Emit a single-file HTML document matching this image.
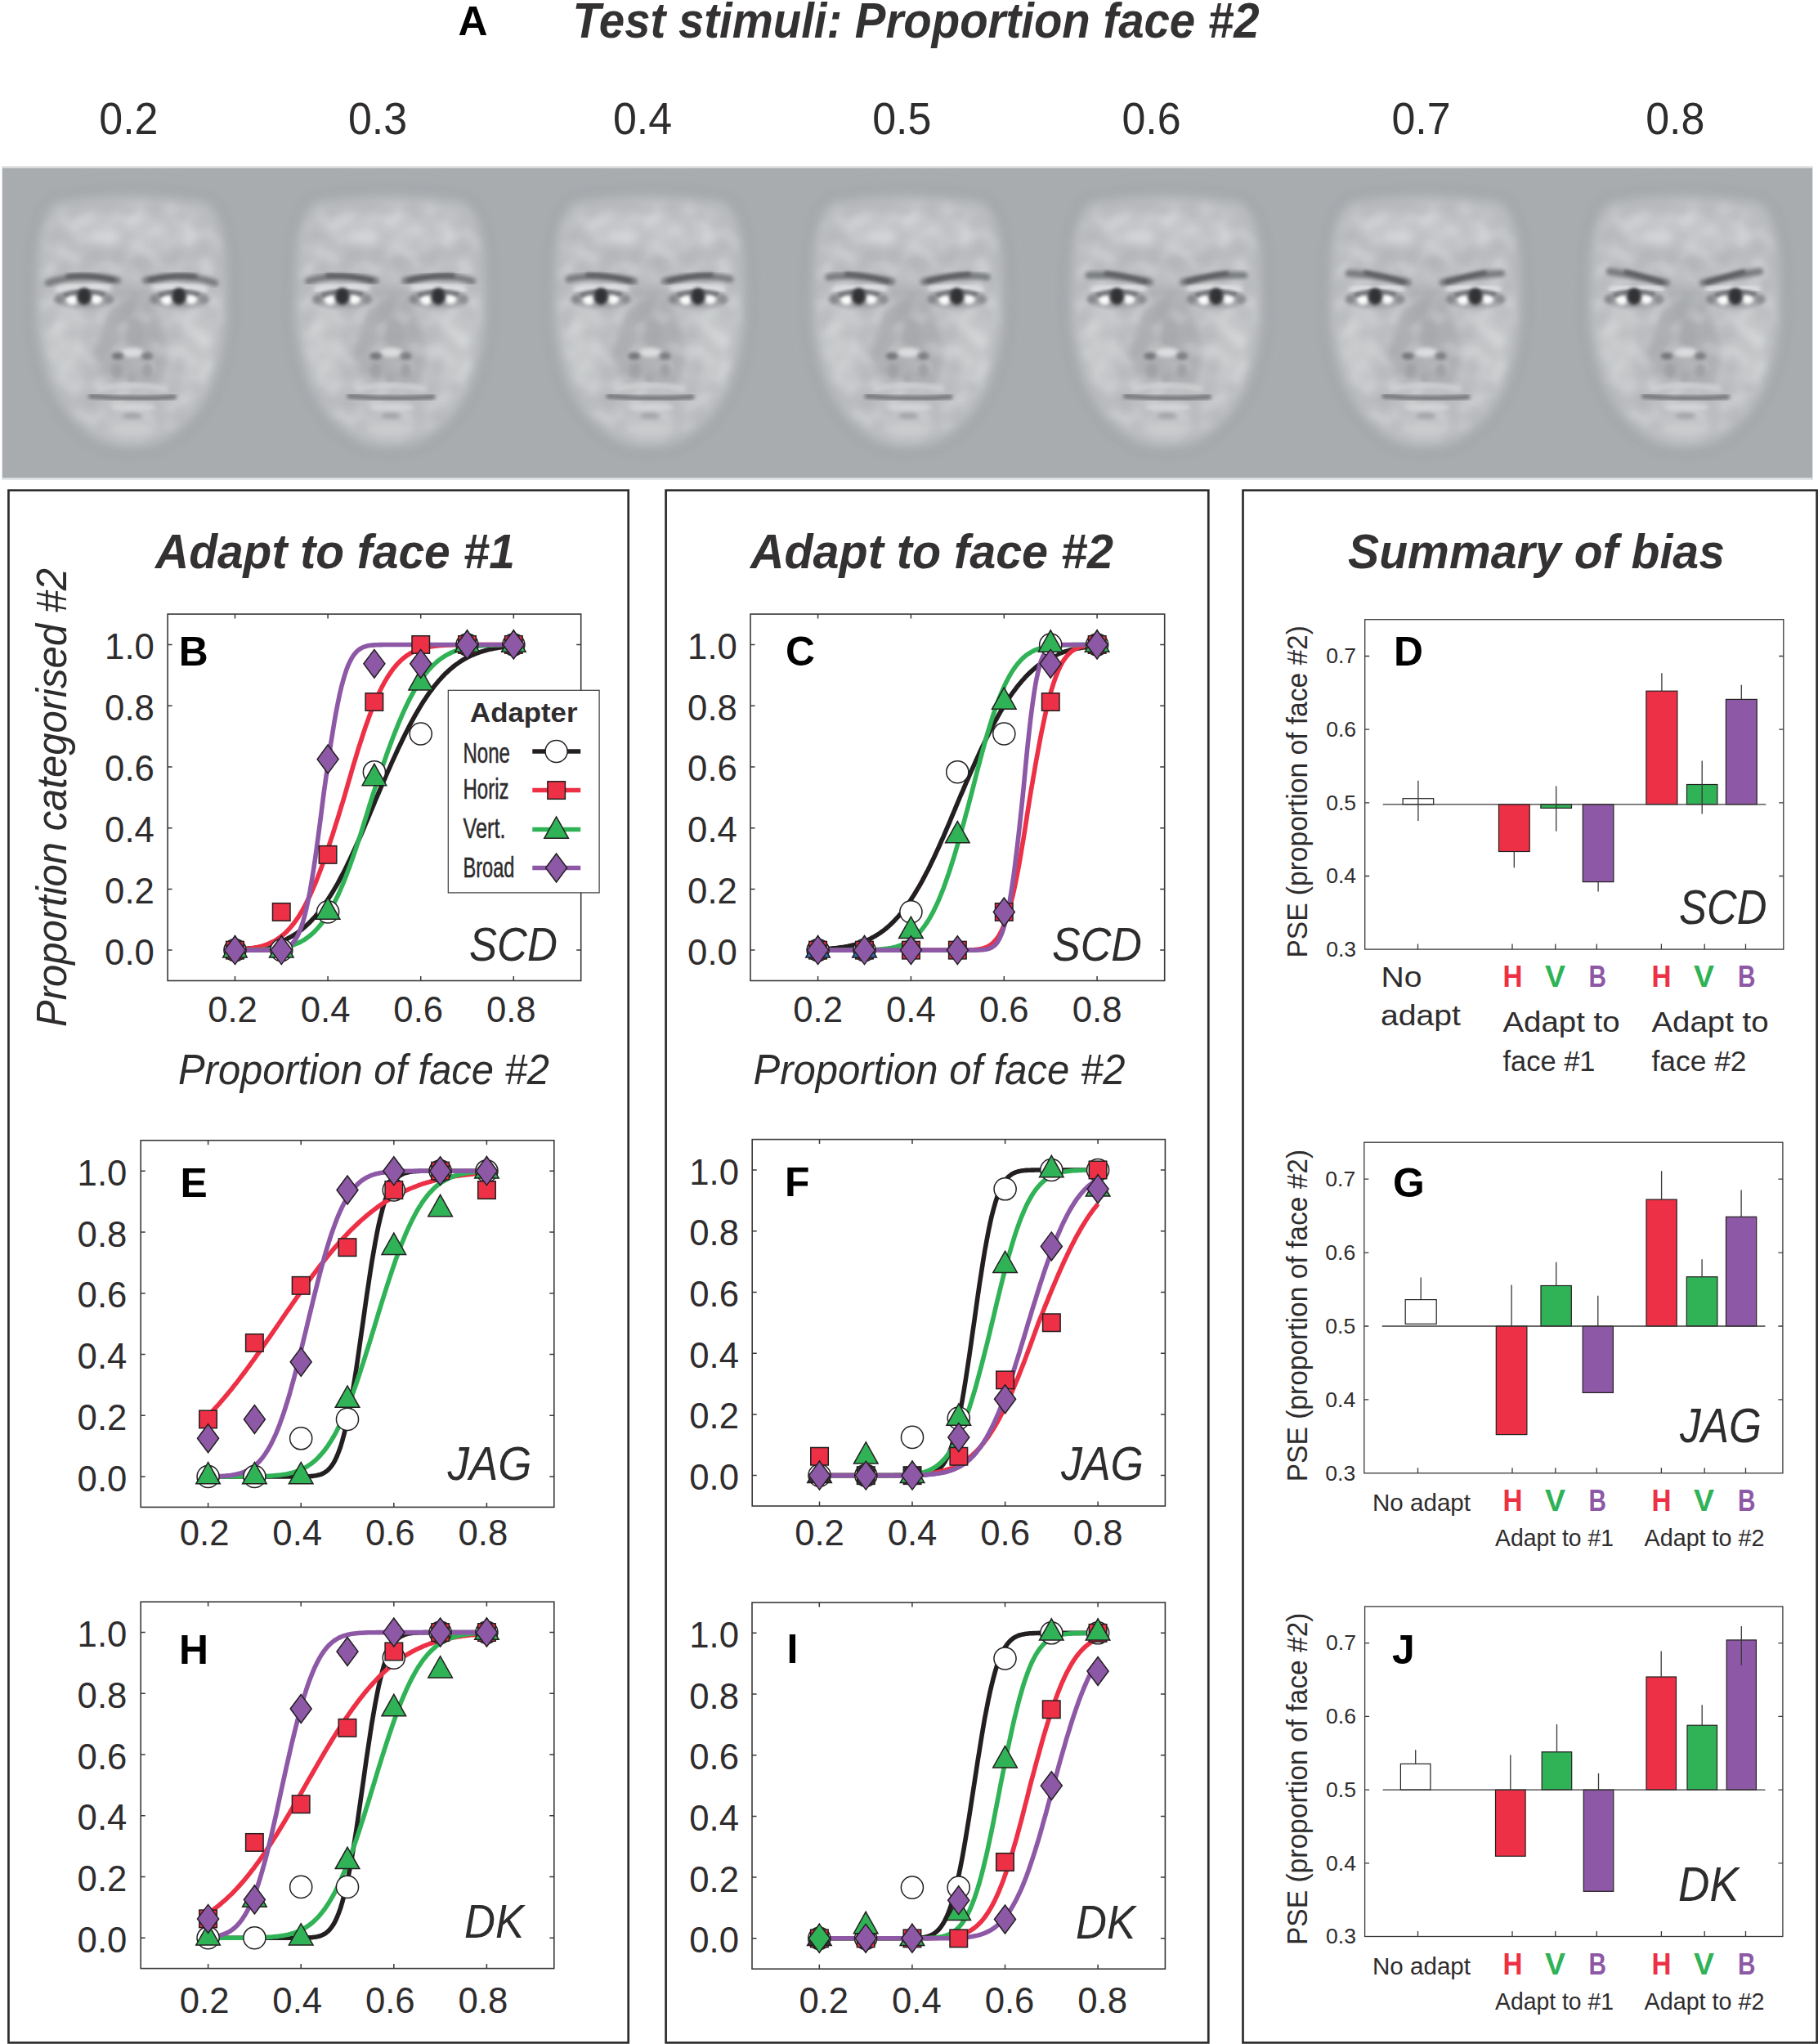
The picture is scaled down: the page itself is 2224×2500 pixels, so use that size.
<!DOCTYPE html>
<html lang="en"><head><meta charset="utf-8"><title>Figure</title>
<style>html,body{margin:0;padding:0;background:#fff}svg{display:block}</style></head><body>
<svg width="2224" height="2500" viewBox="0 0 2224 2500" font-family='"Liberation Sans", Arial, sans-serif' fill="#2e2c2d">
<rect width="2224" height="2500" fill="#fff"/>
<text x="560.5" y="43.0" font-size="49.8" font-weight="bold" fill="#000" >A</text>
<text x="700.5" y="45.5" font-size="61" font-weight="bold" font-style="italic" textLength="840.0" lengthAdjust="spacingAndGlyphs" fill="#333132" >Test stimuli: Proportion face #2</text>
<text x="157.4" y="164.0" font-size="56" text-anchor="middle" textLength="72.2" lengthAdjust="spacingAndGlyphs" >0.2</text>
<text x="462.0" y="164.0" font-size="56" text-anchor="middle" textLength="72.2" lengthAdjust="spacingAndGlyphs" >0.3</text>
<text x="786.0" y="164.0" font-size="56" text-anchor="middle" textLength="72.2" lengthAdjust="spacingAndGlyphs" >0.4</text>
<text x="1103.3" y="164.0" font-size="56" text-anchor="middle" textLength="72.2" lengthAdjust="spacingAndGlyphs" >0.5</text>
<text x="1408.5" y="164.0" font-size="56" text-anchor="middle" textLength="72.2" lengthAdjust="spacingAndGlyphs" >0.6</text>
<text x="1738.5" y="164.0" font-size="56" text-anchor="middle" textLength="72.2" lengthAdjust="spacingAndGlyphs" >0.7</text>
<text x="2049.3" y="164.0" font-size="56" text-anchor="middle" textLength="72.2" lengthAdjust="spacingAndGlyphs" >0.8</text>
<defs>
<filter id="b10" x="-30%" y="-30%" width="160%" height="160%"><feGaussianBlur stdDeviation="6.5"/></filter>
<filter id="b5" x="-50%" y="-50%" width="200%" height="200%"><feGaussianBlur stdDeviation="5"/></filter>
<filter id="b3" x="-50%" y="-80%" width="200%" height="260%"><feGaussianBlur stdDeviation="2.6"/></filter>
<filter id="b2" x="-50%" y="-80%" width="200%" height="260%"><feGaussianBlur stdDeviation="2"/></filter>
<filter id="tex" x="-5%" y="-5%" width="110%" height="110%"><feTurbulence type="fractalNoise" baseFrequency="0.05" numOctaves="1" seed="11" result="n0"/><feGaussianBlur in="n0" stdDeviation="2.5" result="n"/><feGaussianBlur in="SourceAlpha" stdDeviation="7" result="m"/><feColorMatrix in="n" type="matrix" values="0 0 0 0 1  0 0 0 0 1  0 0 0 0 1  4 0 0 0 -2" result="lt"/><feColorMatrix in="n" type="matrix" values="0 0 0 0 0.33  0 0 0 0 0.33  0 0 0 0 0.35  -4 0 0 0 2" result="dk"/><feMerge result="both"><feMergeNode in="lt"/><feMergeNode in="dk"/></feMerge><feComposite in="both" in2="m" operator="in"/></filter>
<clipPath id="stripclip"><rect x="3" y="205.5" width="2214" height="379"/></clipPath>
</defs>
<rect x="2" y="203" width="2216" height="384" fill="#e3e4e5"/>
<rect x="3" y="205.5" width="2214" height="379" fill="#a9acaf"/>
<g clip-path="url(#stripclip)">
<g transform="translate(161 0)">
<path d="M-96 240Q0 224 96 240Q120 258 124 320L125 392Q119 455 98 492Q74 535 32 552Q0 559 -32 552Q-74 535 -98 492Q-119 455 -125 392L-124 320Q-120 258 -96 240Z" fill="none" stroke="#a4a7aa" stroke-width="10" filter="url(#b10)"/>
<path d="M-90 249Q0 234 90 249Q111 264 114 320L115 390Q110 450 90 485Q68 524 29 541Q0 548 -29 541Q-68 524 -90 485Q-110 450 -115 390L-114 320Q-111 264 -90 249Z" fill="#bec0c3" filter="url(#b10)"/>
<ellipse cx="0" cy="283" rx="80" ry="20" fill="#c6c8cb" filter="url(#b5)"/>
<ellipse cx="0" cy="318" rx="62" ry="8" fill="#b8babd" filter="url(#b5)"/>
<ellipse cx="-80" cy="420" rx="20" ry="48" fill="#c8cacc" filter="url(#b5)"/>
<ellipse cx="80" cy="420" rx="20" ry="48" fill="#c8cacc" filter="url(#b5)"/>
<path d="M-20 352L20 352L46 432L34 470L-34 470L-46 432Z" fill="#afb1b4" filter="url(#b5)"/>
<ellipse cx="0" cy="398" rx="15" ry="38" fill="#a9abae" filter="url(#b5)"/>
<path d="M-86 255Q0 240 86 255Q106 268 109 320L110 390Q105 448 86 482Q65 520 28 536Q0 543 -28 536Q-65 520 -86 482Q-105 448 -110 390L-109 320Q-106 268 -86 255Z" fill="#000" filter="url(#tex)" opacity="0.2"/>
<ellipse cx="-58.0" cy="366" rx="38" ry="11" fill="#a2a4a7" filter="url(#b3)"/>
<ellipse cx="58.0" cy="366" rx="38" ry="11" fill="#a2a4a7" filter="url(#b3)"/>
<path d="M-102.0 346.0Q-66 333.0 -17.0 343.0" fill="none" stroke="#787a7d" stroke-width="8.5" stroke-linecap="round" filter="url(#b3)"/>
<path d="M-78.0 338.0Q-50 335.5 -22.0 342.5" fill="none" stroke="#58595c" stroke-width="5" stroke-linecap="round" filter="url(#b2)"/>
<path d="M-90 354Q-60 347.5 -28 352.0" fill="none" stroke="#e2e3e4" stroke-width="5.5" stroke-linecap="round" filter="url(#b3)"/>
<path d="M102.0 346.0Q66 333.0 17.0 343.0" fill="none" stroke="#787a7d" stroke-width="8.5" stroke-linecap="round" filter="url(#b3)"/>
<path d="M78.0 338.0Q50 335.5 22.0 342.5" fill="none" stroke="#58595c" stroke-width="5" stroke-linecap="round" filter="url(#b2)"/>
<path d="M90 354Q60 347.5 28 352.0" fill="none" stroke="#e2e3e4" stroke-width="5.5" stroke-linecap="round" filter="url(#b3)"/>
<ellipse cx="-73.0" cy="366.5" rx="7" ry="6.5" fill="#fbfbfb" filter="url(#b2)"/>
<ellipse cx="-43.0" cy="365.5" rx="7" ry="6.5" fill="#fbfbfb" filter="url(#b2)"/>
<path d="M-82.0 361Q-58.0 353 -34.0 360" fill="none" stroke="#5c5d60" stroke-width="4" stroke-linecap="round" filter="url(#b2)"/>
<ellipse cx="-58.0" cy="362.5" rx="8.5" ry="10.5" fill="#323335" filter="url(#b2)"/>
<ellipse cx="-88.0" cy="366" rx="5" ry="5" fill="#85878a" filter="url(#b2)"/>
<ellipse cx="-28.0" cy="366" rx="5" ry="5" fill="#8a8c8f" filter="url(#b2)"/>
<ellipse cx="43.0" cy="366.5" rx="7" ry="6.5" fill="#fbfbfb" filter="url(#b2)"/>
<ellipse cx="73.0" cy="365.5" rx="7" ry="6.5" fill="#fbfbfb" filter="url(#b2)"/>
<path d="M34.0 361Q58.0 353 82.0 360" fill="none" stroke="#5c5d60" stroke-width="4" stroke-linecap="round" filter="url(#b2)"/>
<ellipse cx="58.0" cy="362.5" rx="8.5" ry="10.5" fill="#323335" filter="url(#b2)"/>
<ellipse cx="28.0" cy="366" rx="5" ry="5" fill="#85878a" filter="url(#b2)"/>
<ellipse cx="88.0" cy="366" rx="5" ry="5" fill="#8a8c8f" filter="url(#b2)"/>
<ellipse cx="1" cy="431" rx="14" ry="6" fill="#dcddde" filter="url(#b3)"/>
<ellipse cx="-17.0" cy="435.5" rx="7.5" ry="4.5" fill="#747679" filter="url(#b2)"/>
<ellipse cx="19" cy="435.5" rx="7" ry="4.5" fill="#7c7e81" filter="url(#b2)"/>
<ellipse cx="-18" cy="453" rx="7" ry="9" fill="#a0a2a5" filter="url(#b3)"/>
<ellipse cx="19" cy="453" rx="7" ry="9" fill="#a0a2a5" filter="url(#b3)"/>
<ellipse cx="0" cy="462" rx="6" ry="6" fill="#a7a9ac" filter="url(#b3)"/>
<path d="M-42 476Q0 467 44 476" fill="none" stroke="#cfd0d2" stroke-width="6" filter="url(#b3)"/>
<path d="M-50 484.5Q0 489 52 485.5" fill="none" stroke="#737578" stroke-width="6" stroke-linecap="round" filter="url(#b2)"/>
<ellipse cx="2" cy="498" rx="28" ry="5" fill="#d3d4d6" filter="url(#b3)"/>
<ellipse cx="1" cy="509" rx="12" ry="4" fill="#a1a3a6" filter="url(#b3)"/>
<ellipse cx="0" cy="525" rx="30" ry="9" fill="#cbccce" filter="url(#b5)"/>
</g>
<g transform="translate(477.5 0)">
<path d="M-96 240Q0 224 96 240Q120 258 124 320L125 392Q119 455 98 492Q74 535 32 552Q0 559 -32 552Q-74 535 -98 492Q-119 455 -125 392L-124 320Q-120 258 -96 240Z" fill="none" stroke="#a4a7aa" stroke-width="10" filter="url(#b10)"/>
<path d="M-90 249Q0 234 90 249Q111 264 114 320L115 390Q110 450 90 485Q68 524 29 541Q0 548 -29 541Q-68 524 -90 485Q-110 450 -115 390L-114 320Q-111 264 -90 249Z" fill="#bec0c3" filter="url(#b10)"/>
<ellipse cx="0" cy="283" rx="80" ry="20" fill="#c6c8cb" filter="url(#b5)"/>
<ellipse cx="0" cy="318" rx="62" ry="8" fill="#b8babd" filter="url(#b5)"/>
<ellipse cx="-80" cy="420" rx="20" ry="48" fill="#c8cacc" filter="url(#b5)"/>
<ellipse cx="80" cy="420" rx="20" ry="48" fill="#c8cacc" filter="url(#b5)"/>
<path d="M-20 352L20 352L46 432L34 470L-34 470L-46 432Z" fill="#afb1b4" filter="url(#b5)"/>
<ellipse cx="0" cy="398" rx="15" ry="38" fill="#a9abae" filter="url(#b5)"/>
<path d="M-86 255Q0 240 86 255Q106 268 109 320L110 390Q105 448 86 482Q65 520 28 536Q0 543 -28 536Q-65 520 -86 482Q-105 448 -110 390L-109 320Q-106 268 -86 255Z" fill="#000" filter="url(#tex)" opacity="0.2"/>
<ellipse cx="-58.7" cy="366" rx="38" ry="11" fill="#a2a4a7" filter="url(#b3)"/>
<ellipse cx="58.7" cy="366" rx="38" ry="11" fill="#a2a4a7" filter="url(#b3)"/>
<path d="M-100.3 343.7Q-66 333.5 -17.8 343.5" fill="none" stroke="#787a7d" stroke-width="8.5" stroke-linecap="round" filter="url(#b3)"/>
<path d="M-77.0 337.1Q-50 336.0 -22.8 343.0" fill="none" stroke="#58595c" stroke-width="5" stroke-linecap="round" filter="url(#b2)"/>
<path d="M-90 354Q-60 347.8 -28 352.3" fill="none" stroke="#e2e3e4" stroke-width="5.5" stroke-linecap="round" filter="url(#b3)"/>
<path d="M100.3 343.7Q66 333.5 17.8 343.5" fill="none" stroke="#787a7d" stroke-width="8.5" stroke-linecap="round" filter="url(#b3)"/>
<path d="M77.0 337.1Q50 336.0 22.8 343.0" fill="none" stroke="#58595c" stroke-width="5" stroke-linecap="round" filter="url(#b2)"/>
<path d="M90 354Q60 347.8 28 352.3" fill="none" stroke="#e2e3e4" stroke-width="5.5" stroke-linecap="round" filter="url(#b3)"/>
<ellipse cx="-73.7" cy="366.5" rx="7" ry="6.5" fill="#fbfbfb" filter="url(#b2)"/>
<ellipse cx="-43.7" cy="365.5" rx="7" ry="6.5" fill="#fbfbfb" filter="url(#b2)"/>
<path d="M-82.7 361Q-58.7 353 -34.7 360" fill="none" stroke="#5c5d60" stroke-width="4" stroke-linecap="round" filter="url(#b2)"/>
<ellipse cx="-58.7" cy="362.5" rx="8.5" ry="10.5" fill="#323335" filter="url(#b2)"/>
<ellipse cx="-88.7" cy="366" rx="5" ry="5" fill="#85878a" filter="url(#b2)"/>
<ellipse cx="-28.7" cy="366" rx="5" ry="5" fill="#8a8c8f" filter="url(#b2)"/>
<ellipse cx="43.7" cy="366.5" rx="7" ry="6.5" fill="#fbfbfb" filter="url(#b2)"/>
<ellipse cx="73.7" cy="365.5" rx="7" ry="6.5" fill="#fbfbfb" filter="url(#b2)"/>
<path d="M34.7 361Q58.7 353 82.7 360" fill="none" stroke="#5c5d60" stroke-width="4" stroke-linecap="round" filter="url(#b2)"/>
<ellipse cx="58.7" cy="362.5" rx="8.5" ry="10.5" fill="#323335" filter="url(#b2)"/>
<ellipse cx="28.7" cy="366" rx="5" ry="5" fill="#85878a" filter="url(#b2)"/>
<ellipse cx="88.7" cy="366" rx="5" ry="5" fill="#8a8c8f" filter="url(#b2)"/>
<ellipse cx="1" cy="431" rx="14" ry="6" fill="#dcddde" filter="url(#b3)"/>
<ellipse cx="-17.8" cy="435.5" rx="7.5" ry="4.5" fill="#747679" filter="url(#b2)"/>
<ellipse cx="19" cy="435.5" rx="7" ry="4.5" fill="#7c7e81" filter="url(#b2)"/>
<ellipse cx="-18" cy="453" rx="7" ry="9" fill="#a0a2a5" filter="url(#b3)"/>
<ellipse cx="19" cy="453" rx="7" ry="9" fill="#a0a2a5" filter="url(#b3)"/>
<ellipse cx="0" cy="462" rx="6" ry="6" fill="#a7a9ac" filter="url(#b3)"/>
<path d="M-42 476Q0 467 44 476" fill="none" stroke="#cfd0d2" stroke-width="6" filter="url(#b3)"/>
<path d="M-50 484.5Q0 489 52 485.5" fill="none" stroke="#737578" stroke-width="6" stroke-linecap="round" filter="url(#b2)"/>
<ellipse cx="2" cy="498" rx="28" ry="5" fill="#d3d4d6" filter="url(#b3)"/>
<ellipse cx="1" cy="509" rx="12" ry="4" fill="#a1a3a6" filter="url(#b3)"/>
<ellipse cx="0" cy="525" rx="30" ry="9" fill="#cbccce" filter="url(#b5)"/>
</g>
<g transform="translate(794.5 0)">
<path d="M-96 240Q0 224 96 240Q120 258 124 320L125 392Q119 455 98 492Q74 535 32 552Q0 559 -32 552Q-74 535 -98 492Q-119 455 -125 392L-124 320Q-120 258 -96 240Z" fill="none" stroke="#a4a7aa" stroke-width="10" filter="url(#b10)"/>
<path d="M-90 249Q0 234 90 249Q111 264 114 320L115 390Q110 450 90 485Q68 524 29 541Q0 548 -29 541Q-68 524 -90 485Q-110 450 -115 390L-114 320Q-111 264 -90 249Z" fill="#bec0c3" filter="url(#b10)"/>
<ellipse cx="0" cy="283" rx="80" ry="20" fill="#c6c8cb" filter="url(#b5)"/>
<ellipse cx="0" cy="318" rx="62" ry="8" fill="#b8babd" filter="url(#b5)"/>
<ellipse cx="-80" cy="420" rx="20" ry="48" fill="#c8cacc" filter="url(#b5)"/>
<ellipse cx="80" cy="420" rx="20" ry="48" fill="#c8cacc" filter="url(#b5)"/>
<path d="M-20 352L20 352L46 432L34 470L-34 470L-46 432Z" fill="#afb1b4" filter="url(#b5)"/>
<ellipse cx="0" cy="398" rx="15" ry="38" fill="#a9abae" filter="url(#b5)"/>
<path d="M-86 255Q0 240 86 255Q106 268 109 320L110 390Q105 448 86 482Q65 520 28 536Q0 543 -28 536Q-65 520 -86 482Q-105 448 -110 390L-109 320Q-106 268 -86 255Z" fill="#000" filter="url(#tex)" opacity="0.2"/>
<ellipse cx="-59.3" cy="366" rx="38" ry="11" fill="#a2a4a7" filter="url(#b3)"/>
<ellipse cx="59.3" cy="366" rx="38" ry="11" fill="#a2a4a7" filter="url(#b3)"/>
<path d="M-98.7 341.3Q-66 334.0 -18.7 344.0" fill="none" stroke="#787a7d" stroke-width="8.5" stroke-linecap="round" filter="url(#b3)"/>
<path d="M-76.0 336.2Q-50 336.5 -23.7 343.5" fill="none" stroke="#58595c" stroke-width="5" stroke-linecap="round" filter="url(#b2)"/>
<path d="M-90 354Q-60 348.0 -28 352.7" fill="none" stroke="#e2e3e4" stroke-width="5.5" stroke-linecap="round" filter="url(#b3)"/>
<path d="M98.7 341.3Q66 334.0 18.7 344.0" fill="none" stroke="#787a7d" stroke-width="8.5" stroke-linecap="round" filter="url(#b3)"/>
<path d="M76.0 336.2Q50 336.5 23.7 343.5" fill="none" stroke="#58595c" stroke-width="5" stroke-linecap="round" filter="url(#b2)"/>
<path d="M90 354Q60 348.0 28 352.7" fill="none" stroke="#e2e3e4" stroke-width="5.5" stroke-linecap="round" filter="url(#b3)"/>
<ellipse cx="-74.3" cy="366.5" rx="7" ry="6.5" fill="#fbfbfb" filter="url(#b2)"/>
<ellipse cx="-44.3" cy="365.5" rx="7" ry="6.5" fill="#fbfbfb" filter="url(#b2)"/>
<path d="M-83.3 361Q-59.3 353 -35.3 360" fill="none" stroke="#5c5d60" stroke-width="4" stroke-linecap="round" filter="url(#b2)"/>
<ellipse cx="-59.3" cy="362.5" rx="8.5" ry="10.5" fill="#323335" filter="url(#b2)"/>
<ellipse cx="-89.3" cy="366" rx="5" ry="5" fill="#85878a" filter="url(#b2)"/>
<ellipse cx="-29.3" cy="366" rx="5" ry="5" fill="#8a8c8f" filter="url(#b2)"/>
<ellipse cx="44.3" cy="366.5" rx="7" ry="6.5" fill="#fbfbfb" filter="url(#b2)"/>
<ellipse cx="74.3" cy="365.5" rx="7" ry="6.5" fill="#fbfbfb" filter="url(#b2)"/>
<path d="M35.3 361Q59.3 353 83.3 360" fill="none" stroke="#5c5d60" stroke-width="4" stroke-linecap="round" filter="url(#b2)"/>
<ellipse cx="59.3" cy="362.5" rx="8.5" ry="10.5" fill="#323335" filter="url(#b2)"/>
<ellipse cx="29.3" cy="366" rx="5" ry="5" fill="#85878a" filter="url(#b2)"/>
<ellipse cx="89.3" cy="366" rx="5" ry="5" fill="#8a8c8f" filter="url(#b2)"/>
<ellipse cx="1" cy="431" rx="14" ry="6" fill="#dcddde" filter="url(#b3)"/>
<ellipse cx="-18.7" cy="435.5" rx="7.5" ry="4.5" fill="#747679" filter="url(#b2)"/>
<ellipse cx="19" cy="435.5" rx="7" ry="4.5" fill="#7c7e81" filter="url(#b2)"/>
<ellipse cx="-18" cy="453" rx="7" ry="9" fill="#a0a2a5" filter="url(#b3)"/>
<ellipse cx="19" cy="453" rx="7" ry="9" fill="#a0a2a5" filter="url(#b3)"/>
<ellipse cx="0" cy="462" rx="6" ry="6" fill="#a7a9ac" filter="url(#b3)"/>
<path d="M-42 476Q0 467 44 476" fill="none" stroke="#cfd0d2" stroke-width="6" filter="url(#b3)"/>
<path d="M-50 484.5Q0 489 52 485.5" fill="none" stroke="#737578" stroke-width="6" stroke-linecap="round" filter="url(#b2)"/>
<ellipse cx="2" cy="498" rx="28" ry="5" fill="#d3d4d6" filter="url(#b3)"/>
<ellipse cx="1" cy="509" rx="12" ry="4" fill="#a1a3a6" filter="url(#b3)"/>
<ellipse cx="0" cy="525" rx="30" ry="9" fill="#cbccce" filter="url(#b5)"/>
</g>
<g transform="translate(1110.5 0)">
<path d="M-96 240Q0 224 96 240Q120 258 124 320L125 392Q119 455 98 492Q74 535 32 552Q0 559 -32 552Q-74 535 -98 492Q-119 455 -125 392L-124 320Q-120 258 -96 240Z" fill="none" stroke="#a4a7aa" stroke-width="10" filter="url(#b10)"/>
<path d="M-90 249Q0 234 90 249Q111 264 114 320L115 390Q110 450 90 485Q68 524 29 541Q0 548 -29 541Q-68 524 -90 485Q-110 450 -115 390L-114 320Q-111 264 -90 249Z" fill="#bec0c3" filter="url(#b10)"/>
<ellipse cx="0" cy="283" rx="80" ry="20" fill="#c6c8cb" filter="url(#b5)"/>
<ellipse cx="0" cy="318" rx="62" ry="8" fill="#b8babd" filter="url(#b5)"/>
<ellipse cx="-80" cy="420" rx="20" ry="48" fill="#c8cacc" filter="url(#b5)"/>
<ellipse cx="80" cy="420" rx="20" ry="48" fill="#c8cacc" filter="url(#b5)"/>
<path d="M-20 352L20 352L46 432L34 470L-34 470L-46 432Z" fill="#afb1b4" filter="url(#b5)"/>
<ellipse cx="0" cy="398" rx="15" ry="38" fill="#a9abae" filter="url(#b5)"/>
<path d="M-86 255Q0 240 86 255Q106 268 109 320L110 390Q105 448 86 482Q65 520 28 536Q0 543 -28 536Q-65 520 -86 482Q-105 448 -110 390L-109 320Q-106 268 -86 255Z" fill="#000" filter="url(#tex)" opacity="0.2"/>
<ellipse cx="-60.0" cy="366" rx="38" ry="11" fill="#a2a4a7" filter="url(#b3)"/>
<ellipse cx="60.0" cy="366" rx="38" ry="11" fill="#a2a4a7" filter="url(#b3)"/>
<path d="M-97.0 339.0Q-66 334.5 -19.5 344.5" fill="none" stroke="#787a7d" stroke-width="8.5" stroke-linecap="round" filter="url(#b3)"/>
<path d="M-75.0 335.2Q-50 337.0 -24.5 344.0" fill="none" stroke="#58595c" stroke-width="5" stroke-linecap="round" filter="url(#b2)"/>
<path d="M-90 354Q-60 348.2 -28 353.0" fill="none" stroke="#e2e3e4" stroke-width="5.5" stroke-linecap="round" filter="url(#b3)"/>
<path d="M97.0 339.0Q66 334.5 19.5 344.5" fill="none" stroke="#787a7d" stroke-width="8.5" stroke-linecap="round" filter="url(#b3)"/>
<path d="M75.0 335.2Q50 337.0 24.5 344.0" fill="none" stroke="#58595c" stroke-width="5" stroke-linecap="round" filter="url(#b2)"/>
<path d="M90 354Q60 348.2 28 353.0" fill="none" stroke="#e2e3e4" stroke-width="5.5" stroke-linecap="round" filter="url(#b3)"/>
<ellipse cx="-75.0" cy="366.5" rx="7" ry="6.5" fill="#fbfbfb" filter="url(#b2)"/>
<ellipse cx="-45.0" cy="365.5" rx="7" ry="6.5" fill="#fbfbfb" filter="url(#b2)"/>
<path d="M-84.0 361Q-60.0 353 -36.0 360" fill="none" stroke="#5c5d60" stroke-width="4" stroke-linecap="round" filter="url(#b2)"/>
<ellipse cx="-60.0" cy="362.5" rx="8.5" ry="10.5" fill="#323335" filter="url(#b2)"/>
<ellipse cx="-90.0" cy="366" rx="5" ry="5" fill="#85878a" filter="url(#b2)"/>
<ellipse cx="-30.0" cy="366" rx="5" ry="5" fill="#8a8c8f" filter="url(#b2)"/>
<ellipse cx="45.0" cy="366.5" rx="7" ry="6.5" fill="#fbfbfb" filter="url(#b2)"/>
<ellipse cx="75.0" cy="365.5" rx="7" ry="6.5" fill="#fbfbfb" filter="url(#b2)"/>
<path d="M36.0 361Q60.0 353 84.0 360" fill="none" stroke="#5c5d60" stroke-width="4" stroke-linecap="round" filter="url(#b2)"/>
<ellipse cx="60.0" cy="362.5" rx="8.5" ry="10.5" fill="#323335" filter="url(#b2)"/>
<ellipse cx="30.0" cy="366" rx="5" ry="5" fill="#85878a" filter="url(#b2)"/>
<ellipse cx="90.0" cy="366" rx="5" ry="5" fill="#8a8c8f" filter="url(#b2)"/>
<ellipse cx="1" cy="431" rx="14" ry="6" fill="#dcddde" filter="url(#b3)"/>
<ellipse cx="-19.5" cy="435.5" rx="7.5" ry="4.5" fill="#747679" filter="url(#b2)"/>
<ellipse cx="19" cy="435.5" rx="7" ry="4.5" fill="#7c7e81" filter="url(#b2)"/>
<ellipse cx="-18" cy="453" rx="7" ry="9" fill="#a0a2a5" filter="url(#b3)"/>
<ellipse cx="19" cy="453" rx="7" ry="9" fill="#a0a2a5" filter="url(#b3)"/>
<ellipse cx="0" cy="462" rx="6" ry="6" fill="#a7a9ac" filter="url(#b3)"/>
<path d="M-42 476Q0 467 44 476" fill="none" stroke="#cfd0d2" stroke-width="6" filter="url(#b3)"/>
<path d="M-50 484.5Q0 489 52 485.5" fill="none" stroke="#737578" stroke-width="6" stroke-linecap="round" filter="url(#b2)"/>
<ellipse cx="2" cy="498" rx="28" ry="5" fill="#d3d4d6" filter="url(#b3)"/>
<ellipse cx="1" cy="509" rx="12" ry="4" fill="#a1a3a6" filter="url(#b3)"/>
<ellipse cx="0" cy="525" rx="30" ry="9" fill="#cbccce" filter="url(#b5)"/>
</g>
<g transform="translate(1427 0)">
<path d="M-96 240Q0 224 96 240Q120 258 124 320L125 392Q119 455 98 492Q74 535 32 552Q0 559 -32 552Q-74 535 -98 492Q-119 455 -125 392L-124 320Q-120 258 -96 240Z" fill="none" stroke="#a4a7aa" stroke-width="10" filter="url(#b10)"/>
<path d="M-90 249Q0 234 90 249Q111 264 114 320L115 390Q110 450 90 485Q68 524 29 541Q0 548 -29 541Q-68 524 -90 485Q-110 450 -115 390L-114 320Q-111 264 -90 249Z" fill="#bec0c3" filter="url(#b10)"/>
<ellipse cx="0" cy="283" rx="80" ry="20" fill="#c6c8cb" filter="url(#b5)"/>
<ellipse cx="0" cy="318" rx="62" ry="8" fill="#b8babd" filter="url(#b5)"/>
<ellipse cx="-80" cy="420" rx="20" ry="48" fill="#c8cacc" filter="url(#b5)"/>
<ellipse cx="80" cy="420" rx="20" ry="48" fill="#c8cacc" filter="url(#b5)"/>
<path d="M-20 352L20 352L46 432L34 470L-34 470L-46 432Z" fill="#afb1b4" filter="url(#b5)"/>
<ellipse cx="0" cy="398" rx="15" ry="38" fill="#a9abae" filter="url(#b5)"/>
<path d="M-86 255Q0 240 86 255Q106 268 109 320L110 390Q105 448 86 482Q65 520 28 536Q0 543 -28 536Q-65 520 -86 482Q-105 448 -110 390L-109 320Q-106 268 -86 255Z" fill="#000" filter="url(#tex)" opacity="0.2"/>
<ellipse cx="-60.7" cy="366" rx="38" ry="11" fill="#a2a4a7" filter="url(#b3)"/>
<ellipse cx="60.7" cy="366" rx="38" ry="11" fill="#a2a4a7" filter="url(#b3)"/>
<path d="M-95.3 336.7Q-66 335.0 -20.3 345.0" fill="none" stroke="#787a7d" stroke-width="8.5" stroke-linecap="round" filter="url(#b3)"/>
<path d="M-74.0 334.3Q-50 337.5 -25.3 344.5" fill="none" stroke="#58595c" stroke-width="5" stroke-linecap="round" filter="url(#b2)"/>
<path d="M-90 354Q-60 348.5 -28 353.3" fill="none" stroke="#e2e3e4" stroke-width="5.5" stroke-linecap="round" filter="url(#b3)"/>
<path d="M95.3 336.7Q66 335.0 20.3 345.0" fill="none" stroke="#787a7d" stroke-width="8.5" stroke-linecap="round" filter="url(#b3)"/>
<path d="M74.0 334.3Q50 337.5 25.3 344.5" fill="none" stroke="#58595c" stroke-width="5" stroke-linecap="round" filter="url(#b2)"/>
<path d="M90 354Q60 348.5 28 353.3" fill="none" stroke="#e2e3e4" stroke-width="5.5" stroke-linecap="round" filter="url(#b3)"/>
<ellipse cx="-75.7" cy="366.5" rx="7" ry="6.5" fill="#fbfbfb" filter="url(#b2)"/>
<ellipse cx="-45.7" cy="365.5" rx="7" ry="6.5" fill="#fbfbfb" filter="url(#b2)"/>
<path d="M-84.7 361Q-60.7 353 -36.7 360" fill="none" stroke="#5c5d60" stroke-width="4" stroke-linecap="round" filter="url(#b2)"/>
<ellipse cx="-60.7" cy="362.5" rx="8.5" ry="10.5" fill="#323335" filter="url(#b2)"/>
<ellipse cx="-90.7" cy="366" rx="5" ry="5" fill="#85878a" filter="url(#b2)"/>
<ellipse cx="-30.7" cy="366" rx="5" ry="5" fill="#8a8c8f" filter="url(#b2)"/>
<ellipse cx="45.7" cy="366.5" rx="7" ry="6.5" fill="#fbfbfb" filter="url(#b2)"/>
<ellipse cx="75.7" cy="365.5" rx="7" ry="6.5" fill="#fbfbfb" filter="url(#b2)"/>
<path d="M36.7 361Q60.7 353 84.7 360" fill="none" stroke="#5c5d60" stroke-width="4" stroke-linecap="round" filter="url(#b2)"/>
<ellipse cx="60.7" cy="362.5" rx="8.5" ry="10.5" fill="#323335" filter="url(#b2)"/>
<ellipse cx="30.7" cy="366" rx="5" ry="5" fill="#85878a" filter="url(#b2)"/>
<ellipse cx="90.7" cy="366" rx="5" ry="5" fill="#8a8c8f" filter="url(#b2)"/>
<ellipse cx="1" cy="431" rx="14" ry="6" fill="#dcddde" filter="url(#b3)"/>
<ellipse cx="-20.3" cy="435.5" rx="7.5" ry="4.5" fill="#747679" filter="url(#b2)"/>
<ellipse cx="19" cy="435.5" rx="7" ry="4.5" fill="#7c7e81" filter="url(#b2)"/>
<ellipse cx="-18" cy="453" rx="7" ry="9" fill="#a0a2a5" filter="url(#b3)"/>
<ellipse cx="19" cy="453" rx="7" ry="9" fill="#a0a2a5" filter="url(#b3)"/>
<ellipse cx="0" cy="462" rx="6" ry="6" fill="#a7a9ac" filter="url(#b3)"/>
<path d="M-42 476Q0 467 44 476" fill="none" stroke="#cfd0d2" stroke-width="6" filter="url(#b3)"/>
<path d="M-50 484.5Q0 489 52 485.5" fill="none" stroke="#737578" stroke-width="6" stroke-linecap="round" filter="url(#b2)"/>
<ellipse cx="2" cy="498" rx="28" ry="5" fill="#d3d4d6" filter="url(#b3)"/>
<ellipse cx="1" cy="509" rx="12" ry="4" fill="#a1a3a6" filter="url(#b3)"/>
<ellipse cx="0" cy="525" rx="30" ry="9" fill="#cbccce" filter="url(#b5)"/>
</g>
<g transform="translate(1743.5 0)">
<path d="M-96 240Q0 224 96 240Q120 258 124 320L125 392Q119 455 98 492Q74 535 32 552Q0 559 -32 552Q-74 535 -98 492Q-119 455 -125 392L-124 320Q-120 258 -96 240Z" fill="none" stroke="#a4a7aa" stroke-width="10" filter="url(#b10)"/>
<path d="M-90 249Q0 234 90 249Q111 264 114 320L115 390Q110 450 90 485Q68 524 29 541Q0 548 -29 541Q-68 524 -90 485Q-110 450 -115 390L-114 320Q-111 264 -90 249Z" fill="#bec0c3" filter="url(#b10)"/>
<ellipse cx="0" cy="283" rx="80" ry="20" fill="#c6c8cb" filter="url(#b5)"/>
<ellipse cx="0" cy="318" rx="62" ry="8" fill="#b8babd" filter="url(#b5)"/>
<ellipse cx="-80" cy="420" rx="20" ry="48" fill="#c8cacc" filter="url(#b5)"/>
<ellipse cx="80" cy="420" rx="20" ry="48" fill="#c8cacc" filter="url(#b5)"/>
<path d="M-20 352L20 352L46 432L34 470L-34 470L-46 432Z" fill="#afb1b4" filter="url(#b5)"/>
<ellipse cx="0" cy="398" rx="15" ry="38" fill="#a9abae" filter="url(#b5)"/>
<path d="M-86 255Q0 240 86 255Q106 268 109 320L110 390Q105 448 86 482Q65 520 28 536Q0 543 -28 536Q-65 520 -86 482Q-105 448 -110 390L-109 320Q-106 268 -86 255Z" fill="#000" filter="url(#tex)" opacity="0.2"/>
<ellipse cx="-61.3" cy="366" rx="38" ry="11" fill="#a2a4a7" filter="url(#b3)"/>
<ellipse cx="61.3" cy="366" rx="38" ry="11" fill="#a2a4a7" filter="url(#b3)"/>
<path d="M-93.7 334.3Q-66 335.5 -21.2 345.5" fill="none" stroke="#787a7d" stroke-width="8.5" stroke-linecap="round" filter="url(#b3)"/>
<path d="M-73.0 333.4Q-50 338.0 -26.2 345.0" fill="none" stroke="#58595c" stroke-width="5" stroke-linecap="round" filter="url(#b2)"/>
<path d="M-90 354Q-60 348.8 -28 353.7" fill="none" stroke="#e2e3e4" stroke-width="5.5" stroke-linecap="round" filter="url(#b3)"/>
<path d="M93.7 334.3Q66 335.5 21.2 345.5" fill="none" stroke="#787a7d" stroke-width="8.5" stroke-linecap="round" filter="url(#b3)"/>
<path d="M73.0 333.4Q50 338.0 26.2 345.0" fill="none" stroke="#58595c" stroke-width="5" stroke-linecap="round" filter="url(#b2)"/>
<path d="M90 354Q60 348.8 28 353.7" fill="none" stroke="#e2e3e4" stroke-width="5.5" stroke-linecap="round" filter="url(#b3)"/>
<ellipse cx="-76.3" cy="366.5" rx="7" ry="6.5" fill="#fbfbfb" filter="url(#b2)"/>
<ellipse cx="-46.3" cy="365.5" rx="7" ry="6.5" fill="#fbfbfb" filter="url(#b2)"/>
<path d="M-85.3 361Q-61.3 353 -37.3 360" fill="none" stroke="#5c5d60" stroke-width="4" stroke-linecap="round" filter="url(#b2)"/>
<ellipse cx="-61.3" cy="362.5" rx="8.5" ry="10.5" fill="#323335" filter="url(#b2)"/>
<ellipse cx="-91.3" cy="366" rx="5" ry="5" fill="#85878a" filter="url(#b2)"/>
<ellipse cx="-31.3" cy="366" rx="5" ry="5" fill="#8a8c8f" filter="url(#b2)"/>
<ellipse cx="46.3" cy="366.5" rx="7" ry="6.5" fill="#fbfbfb" filter="url(#b2)"/>
<ellipse cx="76.3" cy="365.5" rx="7" ry="6.5" fill="#fbfbfb" filter="url(#b2)"/>
<path d="M37.3 361Q61.3 353 85.3 360" fill="none" stroke="#5c5d60" stroke-width="4" stroke-linecap="round" filter="url(#b2)"/>
<ellipse cx="61.3" cy="362.5" rx="8.5" ry="10.5" fill="#323335" filter="url(#b2)"/>
<ellipse cx="31.3" cy="366" rx="5" ry="5" fill="#85878a" filter="url(#b2)"/>
<ellipse cx="91.3" cy="366" rx="5" ry="5" fill="#8a8c8f" filter="url(#b2)"/>
<ellipse cx="1" cy="431" rx="14" ry="6" fill="#dcddde" filter="url(#b3)"/>
<ellipse cx="-21.2" cy="435.5" rx="7.5" ry="4.5" fill="#747679" filter="url(#b2)"/>
<ellipse cx="19" cy="435.5" rx="7" ry="4.5" fill="#7c7e81" filter="url(#b2)"/>
<ellipse cx="-18" cy="453" rx="7" ry="9" fill="#a0a2a5" filter="url(#b3)"/>
<ellipse cx="19" cy="453" rx="7" ry="9" fill="#a0a2a5" filter="url(#b3)"/>
<ellipse cx="0" cy="462" rx="6" ry="6" fill="#a7a9ac" filter="url(#b3)"/>
<path d="M-42 476Q0 467 44 476" fill="none" stroke="#cfd0d2" stroke-width="6" filter="url(#b3)"/>
<path d="M-50 484.5Q0 489 52 485.5" fill="none" stroke="#737578" stroke-width="6" stroke-linecap="round" filter="url(#b2)"/>
<ellipse cx="2" cy="498" rx="28" ry="5" fill="#d3d4d6" filter="url(#b3)"/>
<ellipse cx="1" cy="509" rx="12" ry="4" fill="#a1a3a6" filter="url(#b3)"/>
<ellipse cx="0" cy="525" rx="30" ry="9" fill="#cbccce" filter="url(#b5)"/>
</g>
<g transform="translate(2061 0)">
<path d="M-96 240Q0 224 96 240Q120 258 124 320L125 392Q119 455 98 492Q74 535 32 552Q0 559 -32 552Q-74 535 -98 492Q-119 455 -125 392L-124 320Q-120 258 -96 240Z" fill="none" stroke="#a4a7aa" stroke-width="10" filter="url(#b10)"/>
<path d="M-90 249Q0 234 90 249Q111 264 114 320L115 390Q110 450 90 485Q68 524 29 541Q0 548 -29 541Q-68 524 -90 485Q-110 450 -115 390L-114 320Q-111 264 -90 249Z" fill="#bec0c3" filter="url(#b10)"/>
<ellipse cx="0" cy="283" rx="80" ry="20" fill="#c6c8cb" filter="url(#b5)"/>
<ellipse cx="0" cy="318" rx="62" ry="8" fill="#b8babd" filter="url(#b5)"/>
<ellipse cx="-80" cy="420" rx="20" ry="48" fill="#c8cacc" filter="url(#b5)"/>
<ellipse cx="80" cy="420" rx="20" ry="48" fill="#c8cacc" filter="url(#b5)"/>
<path d="M-20 352L20 352L46 432L34 470L-34 470L-46 432Z" fill="#afb1b4" filter="url(#b5)"/>
<ellipse cx="0" cy="398" rx="15" ry="38" fill="#a9abae" filter="url(#b5)"/>
<path d="M-86 255Q0 240 86 255Q106 268 109 320L110 390Q105 448 86 482Q65 520 28 536Q0 543 -28 536Q-65 520 -86 482Q-105 448 -110 390L-109 320Q-106 268 -86 255Z" fill="#000" filter="url(#tex)" opacity="0.2"/>
<ellipse cx="-62.0" cy="366" rx="38" ry="11" fill="#a2a4a7" filter="url(#b3)"/>
<ellipse cx="62.0" cy="366" rx="38" ry="11" fill="#a2a4a7" filter="url(#b3)"/>
<path d="M-92.0 332.0Q-66 336.0 -22.0 346.0" fill="none" stroke="#787a7d" stroke-width="8.5" stroke-linecap="round" filter="url(#b3)"/>
<path d="M-72.0 332.5Q-50 338.5 -27.0 345.5" fill="none" stroke="#58595c" stroke-width="5" stroke-linecap="round" filter="url(#b2)"/>
<path d="M-90 354Q-60 349.0 -28 354.0" fill="none" stroke="#e2e3e4" stroke-width="5.5" stroke-linecap="round" filter="url(#b3)"/>
<path d="M92.0 332.0Q66 336.0 22.0 346.0" fill="none" stroke="#787a7d" stroke-width="8.5" stroke-linecap="round" filter="url(#b3)"/>
<path d="M72.0 332.5Q50 338.5 27.0 345.5" fill="none" stroke="#58595c" stroke-width="5" stroke-linecap="round" filter="url(#b2)"/>
<path d="M90 354Q60 349.0 28 354.0" fill="none" stroke="#e2e3e4" stroke-width="5.5" stroke-linecap="round" filter="url(#b3)"/>
<ellipse cx="-77.0" cy="366.5" rx="7" ry="6.5" fill="#fbfbfb" filter="url(#b2)"/>
<ellipse cx="-47.0" cy="365.5" rx="7" ry="6.5" fill="#fbfbfb" filter="url(#b2)"/>
<path d="M-86.0 361Q-62.0 353 -38.0 360" fill="none" stroke="#5c5d60" stroke-width="4" stroke-linecap="round" filter="url(#b2)"/>
<ellipse cx="-62.0" cy="362.5" rx="8.5" ry="10.5" fill="#323335" filter="url(#b2)"/>
<ellipse cx="-92.0" cy="366" rx="5" ry="5" fill="#85878a" filter="url(#b2)"/>
<ellipse cx="-32.0" cy="366" rx="5" ry="5" fill="#8a8c8f" filter="url(#b2)"/>
<ellipse cx="47.0" cy="366.5" rx="7" ry="6.5" fill="#fbfbfb" filter="url(#b2)"/>
<ellipse cx="77.0" cy="365.5" rx="7" ry="6.5" fill="#fbfbfb" filter="url(#b2)"/>
<path d="M38.0 361Q62.0 353 86.0 360" fill="none" stroke="#5c5d60" stroke-width="4" stroke-linecap="round" filter="url(#b2)"/>
<ellipse cx="62.0" cy="362.5" rx="8.5" ry="10.5" fill="#323335" filter="url(#b2)"/>
<ellipse cx="32.0" cy="366" rx="5" ry="5" fill="#85878a" filter="url(#b2)"/>
<ellipse cx="92.0" cy="366" rx="5" ry="5" fill="#8a8c8f" filter="url(#b2)"/>
<ellipse cx="1" cy="431" rx="14" ry="6" fill="#dcddde" filter="url(#b3)"/>
<ellipse cx="-22.0" cy="435.5" rx="7.5" ry="4.5" fill="#747679" filter="url(#b2)"/>
<ellipse cx="19" cy="435.5" rx="7" ry="4.5" fill="#7c7e81" filter="url(#b2)"/>
<ellipse cx="-18" cy="453" rx="7" ry="9" fill="#a0a2a5" filter="url(#b3)"/>
<ellipse cx="19" cy="453" rx="7" ry="9" fill="#a0a2a5" filter="url(#b3)"/>
<ellipse cx="0" cy="462" rx="6" ry="6" fill="#a7a9ac" filter="url(#b3)"/>
<path d="M-42 476Q0 467 44 476" fill="none" stroke="#cfd0d2" stroke-width="6" filter="url(#b3)"/>
<path d="M-50 484.5Q0 489 52 485.5" fill="none" stroke="#737578" stroke-width="6" stroke-linecap="round" filter="url(#b2)"/>
<ellipse cx="2" cy="498" rx="28" ry="5" fill="#d3d4d6" filter="url(#b3)"/>
<ellipse cx="1" cy="509" rx="12" ry="4" fill="#a1a3a6" filter="url(#b3)"/>
<ellipse cx="0" cy="525" rx="30" ry="9" fill="#cbccce" filter="url(#b5)"/>
</g>
</g>
<rect x="10.45" y="599.7" width="758.25" height="1898.7" fill="none" stroke="#2e2c2d" stroke-width="2.7"/>
<rect x="814.6" y="599.7" width="663.70" height="1898.7" fill="none" stroke="#2e2c2d" stroke-width="2.7"/>
<rect x="1520.5" y="599.7" width="702.10" height="1898.7" fill="none" stroke="#2e2c2d" stroke-width="2.7"/>
<text x="190.0" y="695.0" font-size="58.5" font-weight="bold" font-style="italic" textLength="440.0" lengthAdjust="spacingAndGlyphs" fill="#333132" >Adapt to face #1</text>
<text x="918.0" y="695.0" font-size="58.5" font-weight="bold" font-style="italic" textLength="444.0" lengthAdjust="spacingAndGlyphs" fill="#333132" >Adapt to face #2</text>
<text x="1649.0" y="695.0" font-size="58.5" font-weight="bold" font-style="italic" textLength="461.0" lengthAdjust="spacingAndGlyphs" fill="#333132" >Summary of bias</text>
<g>
<path d="M287.5 1161.2L289.6 1161.1L291.7 1161.0L293.9 1160.9L296.0 1160.8L298.1 1160.6L300.3 1160.5L302.4 1160.3L304.5 1160.1L306.6 1159.9L308.8 1159.7L310.9 1159.4L313.0 1159.1L315.2 1158.8L317.3 1158.5L319.4 1158.2L321.6 1157.8L323.7 1157.4L325.8 1156.9L327.9 1156.4L330.1 1155.9L332.2 1155.4L334.3 1154.8L336.5 1154.1L338.6 1153.4L340.7 1152.7L342.9 1151.9L345.0 1151.1L347.1 1150.2L349.3 1149.2L351.4 1148.2L353.5 1147.1L355.6 1145.9L357.8 1144.7L359.9 1143.4L362.0 1142.0L364.2 1140.6L366.3 1139.0L368.4 1137.4L370.6 1135.7L372.7 1133.9L374.8 1132.0L376.9 1130.0L379.1 1127.9L381.2 1125.7L383.3 1123.4L385.5 1121.1L387.6 1118.6L389.7 1116.0L391.9 1113.3L394.0 1110.5L396.1 1107.5L398.3 1104.5L400.4 1101.4L402.5 1098.1L404.6 1094.8L406.8 1091.3L408.9 1087.7L411.0 1084.1L413.2 1080.3L415.3 1076.4L417.4 1072.4L419.6 1068.3L421.7 1064.2L423.8 1059.9L425.9 1055.5L428.1 1051.1L430.2 1046.5L432.3 1041.9L434.5 1037.2L436.6 1032.5L438.7 1027.7L440.9 1022.8L443.0 1017.8L445.1 1012.9L447.2 1007.8L449.4 1002.7L451.5 997.6L453.6 992.5L455.8 987.4L457.9 982.2L460.0 977.0L462.2 972.0L464.3 967.1L466.4 962.1L468.6 957.2L470.7 952.3L472.8 947.4L474.9 942.6L477.1 937.8L479.2 933.0L481.3 928.3L483.5 923.6L485.6 919.0L487.7 914.4L489.9 909.9L492.0 905.5L494.1 901.2L496.2 896.9L498.4 892.7L500.5 888.5L502.6 884.5L504.8 880.5L506.9 876.7L509.0 872.9L511.2 869.2L513.3 865.6L515.4 862.1L517.5 858.7L519.7 855.5L521.8 852.3L523.9 849.2L526.1 846.2L528.2 843.3L530.3 840.5L532.5 837.8L534.6 835.2L536.7 832.7L538.9 830.3L541.0 827.9L543.1 825.7L545.2 823.6L547.4 821.6L549.5 819.6L551.6 817.8L553.8 816.0L555.9 814.3L558.0 812.7L560.2 811.2L562.3 809.7L564.4 808.3L566.5 807.0L568.7 805.8L570.8 804.6L572.9 803.5L575.1 802.5L577.2 801.5L579.3 800.6L581.5 799.7L583.6 798.9L585.7 798.1L587.9 797.4L590.0 796.7L592.1 796.1L594.2 795.5L596.4 794.9L598.5 794.4L600.6 793.9L602.8 793.5L604.9 793.1L607.0 792.7L609.2 792.3L611.3 792.0L613.4 791.7L615.5 791.4L617.7 791.2L619.8 790.9L621.9 790.7L624.1 790.5L626.2 790.3L628.3 790.2" fill="none" stroke="#231f20" stroke-width="5.6" stroke-linecap="butt" stroke-linejoin="round"/>
<path d="M287.5 1161.5L289.6 1161.4L291.7 1161.3L293.9 1161.2L296.0 1161.0L298.1 1160.8L300.3 1160.7L302.4 1160.4L304.5 1160.2L306.6 1159.9L308.8 1159.6L310.9 1159.2L313.0 1158.9L315.2 1158.4L317.3 1157.9L319.4 1157.4L321.6 1156.8L323.7 1156.1L325.8 1155.4L327.9 1154.5L330.1 1153.6L332.2 1152.6L334.3 1151.6L336.5 1150.4L338.6 1149.1L340.7 1147.7L342.9 1146.1L345.0 1144.5L347.1 1142.7L349.3 1140.7L351.4 1138.6L353.5 1136.4L355.6 1134.0L357.8 1131.4L359.9 1128.7L362.0 1125.8L364.2 1122.7L366.3 1119.4L368.4 1115.9L370.6 1112.2L372.7 1108.3L374.8 1104.3L376.9 1100.0L379.1 1095.5L381.2 1090.8L383.3 1086.0L385.5 1080.9L387.6 1075.7L389.7 1070.3L391.9 1064.6L394.0 1058.9L396.1 1052.9L398.3 1046.8L400.4 1040.6L402.5 1034.2L404.6 1027.7L406.8 1021.1L408.9 1014.4L411.0 1007.7L413.2 1000.8L415.3 993.9L417.4 986.9L419.6 980.0L421.7 972.8L423.8 965.4L425.9 957.9L428.1 950.6L430.2 943.3L432.3 936.0L434.5 928.9L436.6 921.8L438.7 914.9L440.9 908.2L443.0 901.6L445.1 895.1L447.2 888.9L449.4 882.8L451.5 876.9L453.6 871.3L455.8 865.8L457.9 860.6L460.0 855.6L462.2 850.8L464.3 846.3L466.4 841.9L468.6 837.8L470.7 833.9L472.8 830.3L474.9 826.8L477.1 823.6L479.2 820.6L481.3 817.7L483.5 815.1L485.6 812.6L487.7 810.4L489.9 808.3L492.0 806.3L494.1 804.5L496.2 802.9L498.4 801.4L500.5 800.0L502.6 798.8L504.8 797.7L506.9 796.6L509.0 795.7L511.2 794.9L513.3 794.1L515.4 793.4L517.5 792.8L519.7 792.3L521.8 791.8L523.9 791.4L526.1 791.0L528.2 790.7L530.3 790.4L532.5 790.1L534.6 789.9L536.7 789.7L538.9 789.5L541.0 789.4L543.1 789.2L545.2 789.1L547.4 789.0L549.5 788.9L551.6 788.9L553.8 788.8L555.9 788.8L558.0 788.7L560.2 788.7L562.3 788.6L564.4 788.6L566.5 788.6L568.7 788.6L570.8 788.5L572.9 788.5L575.1 788.5L577.2 788.5L579.3 788.5L581.5 788.5L583.6 788.5L585.7 788.5L587.9 788.5L590.0 788.5L592.1 788.5L594.2 788.5L596.4 788.5L598.5 788.5L600.6 788.5L602.8 788.5L604.9 788.5L607.0 788.5L609.2 788.5L611.3 788.5L613.4 788.5L615.5 788.5L617.7 788.5L619.8 788.5L621.9 788.5L624.1 788.5L626.2 788.5L628.3 788.5" fill="none" stroke="#ed3045" stroke-width="5.6" stroke-linecap="butt" stroke-linejoin="round"/>
<path d="M287.5 1162.1L289.6 1162.1L291.7 1162.1L293.9 1162.1L296.0 1162.0L298.1 1162.0L300.3 1162.0L302.4 1162.0L304.5 1162.0L306.6 1161.9L308.8 1161.9L310.9 1161.9L313.0 1161.8L315.2 1161.7L317.3 1161.7L319.4 1161.6L321.6 1161.5L323.7 1161.4L325.8 1161.3L327.9 1161.2L330.1 1161.0L332.2 1160.8L334.3 1160.7L336.5 1160.4L338.6 1160.2L340.7 1159.9L342.9 1159.6L345.0 1159.2L347.1 1158.9L349.3 1158.4L351.4 1157.9L353.5 1157.4L355.6 1156.8L357.8 1156.1L359.9 1155.4L362.0 1154.5L364.2 1153.6L366.3 1152.6L368.4 1151.6L370.6 1150.4L372.7 1149.1L374.8 1147.7L376.9 1146.1L379.1 1144.5L381.2 1142.7L383.3 1140.7L385.5 1138.6L387.6 1136.4L389.7 1134.0L391.9 1131.4L394.0 1128.7L396.1 1125.8L398.3 1122.7L400.4 1119.4L402.5 1115.9L404.6 1112.2L406.8 1108.3L408.9 1104.3L411.0 1100.0L413.2 1095.5L415.3 1090.8L417.4 1086.0L419.6 1080.9L421.7 1075.7L423.8 1070.3L425.9 1064.6L428.1 1058.9L430.2 1052.9L432.3 1046.8L434.5 1040.6L436.6 1034.2L438.7 1027.7L440.9 1021.1L443.0 1014.4L445.1 1007.7L447.2 1000.8L449.4 993.9L451.5 986.9L453.6 980.0L455.8 973.2L457.9 966.8L460.0 960.5L462.2 954.2L464.3 947.9L466.4 941.7L468.6 935.6L470.7 929.5L472.8 923.5L474.9 917.5L477.1 911.7L479.2 906.0L481.3 900.4L483.5 894.9L485.6 889.6L487.7 884.4L489.9 879.3L492.0 874.4L494.1 869.7L496.2 865.1L498.4 860.6L500.5 856.3L502.6 852.2L504.8 848.3L506.9 844.5L509.0 840.8L511.2 837.4L513.3 834.1L515.4 830.9L517.5 827.9L519.7 825.1L521.8 822.4L523.9 819.9L526.1 817.5L528.2 815.3L530.3 813.2L532.5 811.2L534.6 809.3L536.7 807.6L538.9 806.0L541.0 804.5L543.1 803.1L545.2 801.8L547.4 800.6L549.5 799.5L551.6 798.4L553.8 797.5L555.9 796.6L558.0 795.8L560.2 795.1L562.3 794.4L564.4 793.8L566.5 793.3L568.7 792.8L570.8 792.3L572.9 791.9L575.1 791.5L577.2 791.2L579.3 790.9L581.5 790.6L583.6 790.4L585.7 790.1L587.9 789.9L590.0 789.8L592.1 789.6L594.2 789.5L596.4 789.3L598.5 789.2L600.6 789.1L602.8 789.1L604.9 789.0L607.0 788.9L609.2 788.9L611.3 788.8L613.4 788.8L615.5 788.7L617.7 788.7L619.8 788.7L621.9 788.6L624.1 788.6L626.2 788.6L628.3 788.6" fill="none" stroke="#30b256" stroke-width="5.6" stroke-linecap="butt" stroke-linejoin="round"/>
<path d="M287.5 1162.1L289.6 1162.1L291.7 1162.1L293.9 1162.1L296.0 1162.1L298.1 1162.1L300.3 1162.1L302.4 1162.1L304.5 1162.1L306.6 1162.1L308.8 1162.1L310.9 1162.1L313.0 1162.1L315.2 1162.1L317.3 1162.1L319.4 1162.1L321.6 1162.1L323.7 1162.1L325.8 1162.1L327.9 1162.1L330.1 1162.0L332.2 1162.0L334.3 1161.9L336.5 1161.8L338.6 1161.7L340.7 1161.5L342.9 1161.2L345.0 1160.8L347.1 1160.3L349.3 1159.6L351.4 1158.6L353.5 1157.4L355.6 1155.8L357.8 1153.8L359.9 1151.3L362.0 1148.1L364.2 1144.3L366.3 1139.6L368.4 1134.1L370.6 1127.6L372.7 1120.0L374.8 1111.3L376.9 1101.5L379.1 1090.5L381.2 1078.3L383.3 1065.1L385.5 1050.8L387.6 1035.7L389.7 1019.8L391.9 1003.4L394.0 986.6L396.1 970.1L398.3 954.7L400.4 939.4L402.5 924.6L404.6 910.2L406.8 896.6L408.9 883.6L411.0 871.6L413.2 860.5L415.3 850.3L417.4 841.1L419.6 832.9L421.7 825.6L423.8 819.3L425.9 813.8L428.1 809.1L430.2 805.1L432.3 801.7L434.5 799.0L436.6 796.7L438.7 794.9L440.9 793.4L443.0 792.2L445.1 791.3L447.2 790.6L449.4 790.0L451.5 789.6L453.6 789.3L455.8 789.1L457.9 788.9L460.0 788.8L462.2 788.7L464.3 788.6L466.4 788.6L468.6 788.5L470.7 788.5L472.8 788.5L474.9 788.5L477.1 788.5L479.2 788.5L481.3 788.5L483.5 788.5L485.6 788.5L487.7 788.5L489.9 788.5L492.0 788.5L494.1 788.5L496.2 788.5L498.4 788.5L500.5 788.5L502.6 788.5L504.8 788.5L506.9 788.5L509.0 788.5L511.2 788.5L513.3 788.5L515.4 788.5L517.5 788.5L519.7 788.5L521.8 788.5L523.9 788.5L526.1 788.5L528.2 788.5L530.3 788.5L532.5 788.5L534.6 788.5L536.7 788.5L538.9 788.5L541.0 788.5L543.1 788.5L545.2 788.5L547.4 788.5L549.5 788.5L551.6 788.5L553.8 788.5L555.9 788.5L558.0 788.5L560.2 788.5L562.3 788.5L564.4 788.5L566.5 788.5L568.7 788.5L570.8 788.5L572.9 788.5L575.1 788.5L577.2 788.5L579.3 788.5L581.5 788.5L583.6 788.5L585.7 788.5L587.9 788.5L590.0 788.5L592.1 788.5L594.2 788.5L596.4 788.5L598.5 788.5L600.6 788.5L602.8 788.5L604.9 788.5L607.0 788.5L609.2 788.5L611.3 788.5L613.4 788.5L615.5 788.5L617.7 788.5L619.8 788.5L621.9 788.5L624.1 788.5L626.2 788.5L628.3 788.5" fill="none" stroke="#8d58a5" stroke-width="5.6" stroke-linecap="butt" stroke-linejoin="round"/>
<circle cx="287.5" cy="1162.1" r="13.55" fill="#fff" stroke="#231f20" stroke-width="1.5"/>
<circle cx="344.3" cy="1162.1" r="13.55" fill="#fff" stroke="#231f20" stroke-width="1.5"/>
<circle cx="401.1" cy="1115.4" r="13.55" fill="#fff" stroke="#231f20" stroke-width="1.5"/>
<circle cx="457.9" cy="944.2" r="13.55" fill="#fff" stroke="#231f20" stroke-width="1.5"/>
<circle cx="514.7" cy="897.5" r="13.55" fill="#fff" stroke="#231f20" stroke-width="1.5"/>
<circle cx="571.5" cy="788.5" r="13.55" fill="#fff" stroke="#231f20" stroke-width="1.5"/>
<circle cx="628.3" cy="788.5" r="13.55" fill="#fff" stroke="#231f20" stroke-width="1.5"/>
<rect x="276.7" y="1151.4" width="21.5" height="21.5" fill="#ed3045" stroke="#231f20" stroke-width="1.5"/>
<rect x="333.5" y="1104.7" width="21.5" height="21.5" fill="#ed3045" stroke="#231f20" stroke-width="1.5"/>
<rect x="390.3" y="1034.6" width="21.5" height="21.5" fill="#ed3045" stroke="#231f20" stroke-width="1.5"/>
<rect x="447.1" y="847.8" width="21.5" height="21.5" fill="#ed3045" stroke="#231f20" stroke-width="1.5"/>
<rect x="504.0" y="777.7" width="21.5" height="21.5" fill="#ed3045" stroke="#231f20" stroke-width="1.5"/>
<rect x="560.8" y="777.7" width="21.5" height="21.5" fill="#ed3045" stroke="#231f20" stroke-width="1.5"/>
<rect x="617.6" y="777.7" width="21.5" height="21.5" fill="#ed3045" stroke="#231f20" stroke-width="1.5"/>
<path d="M272.7 1170.9L302.2 1170.9L287.5 1144.6Z" fill="#30b256" stroke="#231f20" stroke-width="1.5" stroke-linejoin="miter"/>
<path d="M329.5 1170.9L359.1 1170.9L344.3 1144.6Z" fill="#30b256" stroke="#231f20" stroke-width="1.5" stroke-linejoin="miter"/>
<path d="M386.3 1124.2L415.9 1124.2L401.1 1097.9Z" fill="#30b256" stroke="#231f20" stroke-width="1.5" stroke-linejoin="miter"/>
<path d="M443.1 960.7L472.7 960.7L457.9 934.4Z" fill="#30b256" stroke="#231f20" stroke-width="1.5" stroke-linejoin="miter"/>
<path d="M499.9 843.9L529.5 843.9L514.7 817.6Z" fill="#30b256" stroke="#231f20" stroke-width="1.5" stroke-linejoin="miter"/>
<path d="M556.7 797.2L586.3 797.2L571.5 770.9Z" fill="#30b256" stroke="#231f20" stroke-width="1.5" stroke-linejoin="miter"/>
<path d="M613.6 797.2L643.1 797.2L628.3 770.9Z" fill="#30b256" stroke="#231f20" stroke-width="1.5" stroke-linejoin="miter"/>
<path d="M274.4 1162.1L287.5 1144.7L300.5 1162.1L287.5 1179.6Z" fill="#8d58a5" stroke="#231f20" stroke-width="1.5"/>
<path d="M331.3 1162.1L344.3 1144.7L357.3 1162.1L344.3 1179.6Z" fill="#8d58a5" stroke="#231f20" stroke-width="1.5"/>
<path d="M388.1 928.6L401.1 911.1L414.1 928.6L401.1 946.0Z" fill="#8d58a5" stroke="#231f20" stroke-width="1.5"/>
<path d="M444.9 811.8L457.9 794.4L470.9 811.8L457.9 829.3Z" fill="#8d58a5" stroke="#231f20" stroke-width="1.5"/>
<path d="M501.7 811.8L514.7 794.4L527.7 811.8L514.7 829.3Z" fill="#8d58a5" stroke="#231f20" stroke-width="1.5"/>
<path d="M558.5 788.5L571.5 771.0L584.5 788.5L571.5 805.9Z" fill="#8d58a5" stroke="#231f20" stroke-width="1.5"/>
<path d="M615.3 788.5L628.3 771.0L641.4 788.5L628.3 805.9Z" fill="#8d58a5" stroke="#231f20" stroke-width="1.5"/>
<rect x="205.1" y="751.1" width="505.6" height="448.4" fill="none" stroke="#3a3839" stroke-width="1.6"/>
<path d="M287.5 751.1v5.5M287.5 1199.5v-5.5M401.1 751.1v5.5M401.1 1199.5v-5.5M514.7 751.1v5.5M514.7 1199.5v-5.5M628.3 751.1v5.5M628.3 1199.5v-5.5M205.1 1162.1h5.5M710.7 1162.1h-5.5M205.1 1087.4h5.5M710.7 1087.4h-5.5M205.1 1012.7h5.5M710.7 1012.7h-5.5M205.1 937.9h5.5M710.7 937.9h-5.5M205.1 863.2h5.5M710.7 863.2h-5.5M205.1 788.5h5.5M710.7 788.5h-5.5" stroke="#3a3839" stroke-width="1.5" fill="none"/>
<text x="188.8" y="1179.6" font-size="45" text-anchor="end" textLength="60.7" lengthAdjust="spacingAndGlyphs" >0.0</text>
<text x="188.8" y="1104.9" font-size="45" text-anchor="end" textLength="60.7" lengthAdjust="spacingAndGlyphs" >0.2</text>
<text x="188.8" y="1030.2" font-size="45" text-anchor="end" textLength="60.7" lengthAdjust="spacingAndGlyphs" >0.4</text>
<text x="188.8" y="955.4" font-size="45" text-anchor="end" textLength="60.7" lengthAdjust="spacingAndGlyphs" >0.6</text>
<text x="188.8" y="880.7" font-size="45" text-anchor="end" textLength="60.7" lengthAdjust="spacingAndGlyphs" >0.8</text>
<text x="188.8" y="806.0" font-size="45" text-anchor="end" textLength="60.7" lengthAdjust="spacingAndGlyphs" >1.0</text>
<text x="284.5" y="1250.0" font-size="45" text-anchor="middle" textLength="60.7" lengthAdjust="spacingAndGlyphs" >0.2</text>
<text x="398.1" y="1250.0" font-size="45" text-anchor="middle" textLength="60.7" lengthAdjust="spacingAndGlyphs" >0.4</text>
<text x="511.7" y="1250.0" font-size="45" text-anchor="middle" textLength="60.7" lengthAdjust="spacingAndGlyphs" >0.6</text>
<text x="625.3" y="1250.0" font-size="45" text-anchor="middle" textLength="60.7" lengthAdjust="spacingAndGlyphs" >0.8</text>
<text x="218.8" y="813.8" font-size="49.8" font-weight="bold" fill="#000" >B</text>
<text x="574.0" y="1175.0" font-size="58" font-style="italic" textLength="108.0" lengthAdjust="spacingAndGlyphs" >SCD</text>
</g>
<g>
<path d="M1000.6 1161.2L1002.7 1161.1L1004.8 1161.0L1007.0 1160.9L1009.1 1160.8L1011.2 1160.6L1013.4 1160.5L1015.5 1160.3L1017.6 1160.1L1019.8 1159.9L1021.9 1159.7L1024.0 1159.4L1026.2 1159.1L1028.3 1158.8L1030.4 1158.5L1032.6 1158.2L1034.7 1157.8L1036.8 1157.4L1039.0 1156.9L1041.1 1156.4L1043.3 1155.9L1045.4 1155.4L1047.5 1154.8L1049.7 1154.1L1051.8 1153.4L1053.9 1152.7L1056.1 1151.9L1058.2 1151.1L1060.3 1150.2L1062.5 1149.2L1064.6 1148.2L1066.7 1147.1L1068.9 1145.9L1071.0 1144.7L1073.1 1143.4L1075.3 1142.0L1077.4 1140.6L1079.5 1139.0L1081.7 1137.4L1083.8 1135.7L1086.0 1133.9L1088.1 1132.0L1090.2 1130.0L1092.4 1127.9L1094.5 1125.7L1096.6 1123.4L1098.8 1121.1L1100.9 1118.6L1103.0 1116.0L1105.2 1113.3L1107.3 1110.5L1109.4 1107.5L1111.6 1104.5L1113.7 1101.4L1115.8 1098.1L1118.0 1094.8L1120.1 1091.3L1122.2 1087.7L1124.4 1084.1L1126.5 1080.3L1128.7 1076.4L1130.8 1072.4L1132.9 1068.3L1135.1 1064.2L1137.2 1059.9L1139.3 1055.5L1141.5 1051.1L1143.6 1046.5L1145.7 1041.9L1147.9 1037.2L1150.0 1032.5L1152.1 1027.7L1154.3 1022.8L1156.4 1017.8L1158.5 1012.9L1160.7 1007.8L1162.8 1002.7L1164.9 997.6L1167.1 992.5L1169.2 987.4L1171.3 982.2L1173.5 977.0L1175.6 972.0L1177.8 967.1L1179.9 962.1L1182.0 957.2L1184.2 952.3L1186.3 947.4L1188.4 942.6L1190.6 937.8L1192.7 933.0L1194.8 928.3L1197.0 923.6L1199.1 919.0L1201.2 914.4L1203.4 909.9L1205.5 905.5L1207.6 901.2L1209.8 896.9L1211.9 892.7L1214.0 888.5L1216.2 884.5L1218.3 880.5L1220.5 876.7L1222.6 872.9L1224.7 869.2L1226.9 865.6L1229.0 862.1L1231.1 858.7L1233.3 855.5L1235.4 852.3L1237.5 849.2L1239.7 846.2L1241.8 843.3L1243.9 840.5L1246.1 837.8L1248.2 835.2L1250.3 832.7L1252.5 830.3L1254.6 827.9L1256.7 825.7L1258.9 823.6L1261.0 821.6L1263.2 819.6L1265.3 817.8L1267.4 816.0L1269.6 814.3L1271.7 812.7L1273.8 811.2L1276.0 809.7L1278.1 808.3L1280.2 807.0L1282.4 805.8L1284.5 804.6L1286.6 803.5L1288.8 802.5L1290.9 801.5L1293.0 800.6L1295.2 799.7L1297.3 798.9L1299.4 798.1L1301.6 797.4L1303.7 796.7L1305.9 796.1L1308.0 795.5L1310.1 794.9L1312.3 794.4L1314.4 793.9L1316.5 793.5L1318.7 793.1L1320.8 792.7L1322.9 792.3L1325.1 792.0L1327.2 791.7L1329.3 791.4L1331.5 791.2L1333.6 790.9L1335.7 790.7L1337.9 790.5L1340.0 790.3L1342.1 790.2" fill="none" stroke="#231f20" stroke-width="5.6" stroke-linecap="butt" stroke-linejoin="round"/>
<path d="M1000.6 1162.1L1002.7 1162.1L1004.8 1162.1L1007.0 1162.1L1009.1 1162.1L1011.2 1162.1L1013.4 1162.1L1015.5 1162.1L1017.6 1162.1L1019.8 1162.1L1021.9 1162.1L1024.0 1162.1L1026.2 1162.1L1028.3 1162.1L1030.4 1162.1L1032.6 1162.1L1034.7 1162.1L1036.8 1162.1L1039.0 1162.1L1041.1 1162.1L1043.3 1162.1L1045.4 1162.1L1047.5 1162.1L1049.7 1162.1L1051.8 1162.1L1053.9 1162.1L1056.1 1162.1L1058.2 1162.1L1060.3 1162.1L1062.5 1162.1L1064.6 1162.1L1066.7 1162.1L1068.9 1162.1L1071.0 1162.1L1073.1 1162.1L1075.3 1162.1L1077.4 1162.1L1079.5 1162.1L1081.7 1162.1L1083.8 1162.1L1086.0 1162.1L1088.1 1162.1L1090.2 1162.1L1092.4 1162.1L1094.5 1162.1L1096.6 1162.1L1098.8 1162.1L1100.9 1162.1L1103.0 1162.1L1105.2 1162.1L1107.3 1162.1L1109.4 1162.1L1111.6 1162.1L1113.7 1162.1L1115.8 1162.1L1118.0 1162.1L1120.1 1162.1L1122.2 1162.1L1124.4 1162.1L1126.5 1162.1L1128.7 1162.1L1130.8 1162.1L1132.9 1162.1L1135.1 1162.1L1137.2 1162.1L1139.3 1162.1L1141.5 1162.1L1143.6 1162.1L1145.7 1162.1L1147.9 1162.1L1150.0 1162.1L1152.1 1162.1L1154.3 1162.1L1156.4 1162.1L1158.5 1162.1L1160.7 1162.1L1162.8 1162.1L1164.9 1162.1L1167.1 1162.1L1169.2 1162.1L1171.3 1162.1L1173.5 1162.1L1175.6 1162.1L1177.8 1162.1L1179.9 1162.1L1182.0 1162.0L1184.2 1162.0L1186.3 1161.9L1188.4 1161.8L1190.6 1161.7L1192.7 1161.5L1194.8 1161.3L1197.0 1161.1L1199.1 1160.7L1201.2 1160.3L1203.4 1159.7L1205.5 1159.0L1207.6 1158.1L1209.8 1156.9L1211.9 1155.6L1214.0 1153.9L1216.2 1151.9L1218.3 1149.4L1220.5 1146.6L1222.6 1143.2L1224.7 1139.2L1226.9 1134.7L1229.0 1129.4L1231.1 1123.5L1233.3 1116.8L1235.4 1109.4L1237.5 1101.1L1239.7 1092.1L1241.8 1082.3L1243.9 1071.7L1246.1 1060.4L1248.2 1048.5L1250.3 1035.9L1252.5 1022.9L1254.6 1009.5L1256.7 995.7L1258.9 981.8L1261.0 968.6L1263.2 956.1L1265.3 943.7L1267.4 931.6L1269.6 919.7L1271.7 908.2L1273.8 897.2L1276.0 886.7L1278.1 876.7L1280.2 867.3L1282.4 858.5L1284.5 850.3L1286.6 842.8L1288.8 835.9L1290.9 829.7L1293.0 824.1L1295.2 819.0L1297.3 814.5L1299.4 810.6L1301.6 807.1L1303.7 804.1L1305.9 801.5L1308.0 799.2L1310.1 797.3L1312.3 795.7L1314.4 794.3L1316.5 793.2L1318.7 792.3L1320.8 791.5L1322.9 790.9L1325.1 790.4L1327.2 789.9L1329.3 789.6L1331.5 789.3L1333.6 789.1L1335.7 789.0L1337.9 788.9L1340.0 788.8L1342.1 788.7" fill="none" stroke="#ed3045" stroke-width="5.6" stroke-linecap="butt" stroke-linejoin="round"/>
<path d="M1000.6 1162.1L1002.7 1162.1L1004.8 1162.1L1007.0 1162.1L1009.1 1162.1L1011.2 1162.1L1013.4 1162.1L1015.5 1162.1L1017.6 1162.1L1019.8 1162.1L1021.9 1162.1L1024.0 1162.1L1026.2 1162.1L1028.3 1162.1L1030.4 1162.1L1032.6 1162.1L1034.7 1162.1L1036.8 1162.1L1039.0 1162.1L1041.1 1162.1L1043.3 1162.1L1045.4 1162.1L1047.5 1162.0L1049.7 1162.0L1051.8 1162.0L1053.9 1162.0L1056.1 1161.9L1058.2 1161.9L1060.3 1161.9L1062.5 1161.8L1064.6 1161.7L1066.7 1161.7L1068.9 1161.6L1071.0 1161.5L1073.1 1161.4L1075.3 1161.2L1077.4 1161.0L1079.5 1160.9L1081.7 1160.6L1083.8 1160.4L1086.0 1160.1L1088.1 1159.7L1090.2 1159.4L1092.4 1158.9L1094.5 1158.4L1096.6 1157.9L1098.8 1157.2L1100.9 1156.5L1103.0 1155.7L1105.2 1154.8L1107.3 1153.8L1109.4 1152.7L1111.6 1151.4L1113.7 1150.0L1115.8 1148.5L1118.0 1146.8L1120.1 1145.0L1122.2 1143.0L1124.4 1140.8L1126.5 1138.4L1128.7 1135.8L1130.8 1132.9L1132.9 1129.9L1135.1 1126.6L1137.2 1123.1L1139.3 1119.4L1141.5 1115.4L1143.6 1111.1L1145.7 1106.6L1147.9 1101.9L1150.0 1096.8L1152.1 1091.6L1154.3 1086.0L1156.4 1080.2L1158.5 1074.2L1160.7 1067.9L1162.8 1061.4L1164.9 1054.7L1167.1 1047.8L1169.2 1040.7L1171.3 1033.4L1173.5 1025.9L1175.6 1018.3L1177.8 1010.6L1179.9 1002.8L1182.0 994.9L1184.2 987.0L1186.3 979.0L1188.4 970.8L1190.6 962.3L1192.7 953.9L1194.8 945.6L1197.0 937.3L1199.1 929.2L1201.2 921.2L1203.4 913.4L1205.5 905.8L1207.6 898.3L1209.8 891.1L1211.9 884.2L1214.0 877.5L1216.2 871.0L1218.3 864.9L1220.5 859.0L1222.6 853.4L1224.7 848.1L1226.9 843.1L1229.0 838.4L1231.1 833.9L1233.3 829.8L1235.4 825.9L1237.5 822.3L1239.7 819.0L1241.8 815.9L1243.9 813.1L1246.1 810.5L1248.2 808.1L1250.3 805.9L1252.5 803.9L1254.6 802.1L1256.7 800.5L1258.9 799.1L1261.0 797.8L1263.2 796.6L1265.3 795.6L1267.4 794.6L1269.6 793.8L1271.7 793.1L1273.8 792.4L1276.0 791.9L1278.1 791.4L1280.2 791.0L1282.4 790.6L1284.5 790.3L1286.6 790.0L1288.8 789.8L1290.9 789.6L1293.0 789.4L1295.2 789.2L1297.3 789.1L1299.4 789.0L1301.6 788.9L1303.7 788.8L1305.9 788.8L1308.0 788.7L1310.1 788.7L1312.3 788.6L1314.4 788.6L1316.5 788.6L1318.7 788.6L1320.8 788.5L1322.9 788.5L1325.1 788.5L1327.2 788.5L1329.3 788.5L1331.5 788.5L1333.6 788.5L1335.7 788.5L1337.9 788.5L1340.0 788.5L1342.1 788.5" fill="none" stroke="#30b256" stroke-width="5.6" stroke-linecap="butt" stroke-linejoin="round"/>
<path d="M1000.6 1162.1L1002.7 1162.1L1004.8 1162.1L1007.0 1162.1L1009.1 1162.1L1011.2 1162.1L1013.4 1162.1L1015.5 1162.1L1017.6 1162.1L1019.8 1162.1L1021.9 1162.1L1024.0 1162.1L1026.2 1162.1L1028.3 1162.1L1030.4 1162.1L1032.6 1162.1L1034.7 1162.1L1036.8 1162.1L1039.0 1162.1L1041.1 1162.1L1043.3 1162.1L1045.4 1162.1L1047.5 1162.1L1049.7 1162.1L1051.8 1162.1L1053.9 1162.1L1056.1 1162.1L1058.2 1162.1L1060.3 1162.1L1062.5 1162.1L1064.6 1162.1L1066.7 1162.1L1068.9 1162.1L1071.0 1162.1L1073.1 1162.1L1075.3 1162.1L1077.4 1162.1L1079.5 1162.1L1081.7 1162.1L1083.8 1162.1L1086.0 1162.1L1088.1 1162.1L1090.2 1162.1L1092.4 1162.1L1094.5 1162.1L1096.6 1162.1L1098.8 1162.1L1100.9 1162.1L1103.0 1162.1L1105.2 1162.1L1107.3 1162.1L1109.4 1162.1L1111.6 1162.1L1113.7 1162.1L1115.8 1162.1L1118.0 1162.1L1120.1 1162.1L1122.2 1162.1L1124.4 1162.1L1126.5 1162.1L1128.7 1162.1L1130.8 1162.1L1132.9 1162.1L1135.1 1162.1L1137.2 1162.1L1139.3 1162.1L1141.5 1162.1L1143.6 1162.1L1145.7 1162.1L1147.9 1162.1L1150.0 1162.1L1152.1 1162.1L1154.3 1162.1L1156.4 1162.1L1158.5 1162.1L1160.7 1162.1L1162.8 1162.1L1164.9 1162.1L1167.1 1162.1L1169.2 1162.1L1171.3 1162.1L1173.5 1162.1L1175.6 1162.1L1177.8 1162.1L1179.9 1162.1L1182.0 1162.1L1184.2 1162.1L1186.3 1162.1L1188.4 1162.1L1190.6 1162.1L1192.7 1162.1L1194.8 1162.1L1197.0 1162.0L1199.1 1161.9L1201.2 1161.8L1203.4 1161.6L1205.5 1161.3L1207.6 1160.9L1209.8 1160.3L1211.9 1159.5L1214.0 1158.3L1216.2 1156.8L1218.3 1154.7L1220.5 1151.9L1222.6 1148.3L1224.7 1143.7L1226.9 1138.0L1229.0 1131.0L1231.1 1122.7L1233.3 1112.7L1235.4 1101.2L1237.5 1088.1L1239.7 1073.4L1241.8 1057.2L1243.9 1039.7L1246.1 1021.1L1248.2 1001.8L1250.3 982.0L1252.5 960.1L1254.6 937.7L1256.7 916.1L1258.9 895.8L1261.0 877.2L1263.2 860.5L1265.3 845.9L1267.4 833.4L1269.6 823.0L1271.7 814.4L1273.8 807.6L1276.0 802.3L1278.1 798.3L1280.2 795.3L1282.4 793.1L1284.5 791.5L1286.6 790.5L1288.8 789.7L1290.9 789.3L1293.0 789.0L1295.2 788.8L1297.3 788.6L1299.4 788.6L1301.6 788.5L1303.7 788.5L1305.9 788.5L1308.0 788.5L1310.1 788.5L1312.3 788.5L1314.4 788.5L1316.5 788.5L1318.7 788.5L1320.8 788.5L1322.9 788.5L1325.1 788.5L1327.2 788.5L1329.3 788.5L1331.5 788.5L1333.6 788.5L1335.7 788.5L1337.9 788.5L1340.0 788.5L1342.1 788.5" fill="none" stroke="#8d58a5" stroke-width="5.6" stroke-linecap="butt" stroke-linejoin="round"/>
<circle cx="1000.6" cy="1162.1" r="13.55" fill="#fff" stroke="#231f20" stroke-width="1.5"/>
<circle cx="1057.5" cy="1162.1" r="13.55" fill="#fff" stroke="#231f20" stroke-width="1.5"/>
<circle cx="1114.4" cy="1115.4" r="13.55" fill="#fff" stroke="#231f20" stroke-width="1.5"/>
<circle cx="1171.3" cy="944.2" r="13.55" fill="#fff" stroke="#231f20" stroke-width="1.5"/>
<circle cx="1228.3" cy="897.5" r="13.55" fill="#fff" stroke="#231f20" stroke-width="1.5"/>
<circle cx="1285.2" cy="788.5" r="13.55" fill="#fff" stroke="#231f20" stroke-width="1.5"/>
<circle cx="1342.1" cy="788.5" r="13.55" fill="#fff" stroke="#231f20" stroke-width="1.5"/>
<rect x="989.8" y="1151.4" width="21.5" height="21.5" fill="#ed3045" stroke="#231f20" stroke-width="1.5"/>
<rect x="1046.7" y="1151.4" width="21.5" height="21.5" fill="#ed3045" stroke="#231f20" stroke-width="1.5"/>
<rect x="1103.7" y="1151.4" width="21.5" height="21.5" fill="#ed3045" stroke="#231f20" stroke-width="1.5"/>
<rect x="1160.6" y="1151.4" width="21.5" height="21.5" fill="#ed3045" stroke="#231f20" stroke-width="1.5"/>
<rect x="1217.5" y="1104.7" width="21.5" height="21.5" fill="#ed3045" stroke="#231f20" stroke-width="1.5"/>
<rect x="1274.5" y="847.8" width="21.5" height="21.5" fill="#ed3045" stroke="#231f20" stroke-width="1.5"/>
<rect x="1331.4" y="777.7" width="21.5" height="21.5" fill="#ed3045" stroke="#231f20" stroke-width="1.5"/>
<path d="M985.8 1170.9L1015.3 1170.9L1000.6 1144.6Z" fill="#2a6fc0" stroke="#231f20" stroke-width="1.5" stroke-linejoin="miter"/>
<path d="M1042.7 1170.9L1072.3 1170.9L1057.5 1144.6Z" fill="#2a6fc0" stroke="#231f20" stroke-width="1.5" stroke-linejoin="miter"/>
<path d="M1099.6 1147.6L1129.2 1147.6L1114.4 1121.2Z" fill="#30b256" stroke="#231f20" stroke-width="1.5" stroke-linejoin="miter"/>
<path d="M1156.6 1030.8L1186.1 1030.8L1171.3 1004.5Z" fill="#30b256" stroke="#231f20" stroke-width="1.5" stroke-linejoin="miter"/>
<path d="M1213.5 867.3L1243.1 867.3L1228.3 841.0Z" fill="#30b256" stroke="#231f20" stroke-width="1.5" stroke-linejoin="miter"/>
<path d="M1270.4 797.2L1300.0 797.2L1285.2 770.9Z" fill="#30b256" stroke="#231f20" stroke-width="1.5" stroke-linejoin="miter"/>
<path d="M1327.4 797.2L1356.9 797.2L1342.1 770.9Z" fill="#30b256" stroke="#231f20" stroke-width="1.5" stroke-linejoin="miter"/>
<path d="M987.5 1162.1L1000.6 1144.7L1013.6 1162.1L1000.6 1179.6Z" fill="#8d58a5" stroke="#231f20" stroke-width="1.5"/>
<path d="M1044.5 1162.1L1057.5 1144.7L1070.5 1162.1L1057.5 1179.6Z" fill="#8d58a5" stroke="#231f20" stroke-width="1.5"/>
<path d="M1101.4 1162.1L1114.4 1144.7L1127.4 1162.1L1114.4 1179.6Z" fill="#8d58a5" stroke="#231f20" stroke-width="1.5"/>
<path d="M1158.3 1162.1L1171.3 1144.7L1184.4 1162.1L1171.3 1179.6Z" fill="#8d58a5" stroke="#231f20" stroke-width="1.5"/>
<path d="M1215.3 1115.4L1228.3 1098.0L1241.3 1115.4L1228.3 1132.9Z" fill="#8d58a5" stroke="#231f20" stroke-width="1.5"/>
<path d="M1272.2 811.8L1285.2 794.4L1298.2 811.8L1285.2 829.3Z" fill="#8d58a5" stroke="#231f20" stroke-width="1.5"/>
<path d="M1329.1 788.5L1342.1 771.0L1355.2 788.5L1342.1 805.9Z" fill="#8d58a5" stroke="#231f20" stroke-width="1.5"/>
<rect x="918.0" y="751.1" width="506.7" height="448.4" fill="none" stroke="#3a3839" stroke-width="1.6"/>
<path d="M1000.6 751.1v5.5M1000.6 1199.5v-5.5M1114.4 751.1v5.5M1114.4 1199.5v-5.5M1228.3 751.1v5.5M1228.3 1199.5v-5.5M1342.1 751.1v5.5M1342.1 1199.5v-5.5M918.0 1162.1h5.5M1424.7 1162.1h-5.5M918.0 1087.4h5.5M1424.7 1087.4h-5.5M918.0 1012.7h5.5M1424.7 1012.7h-5.5M918.0 937.9h5.5M1424.7 937.9h-5.5M918.0 863.2h5.5M1424.7 863.2h-5.5M918.0 788.5h5.5M1424.7 788.5h-5.5" stroke="#3a3839" stroke-width="1.5" fill="none"/>
<text x="901.8" y="1179.6" font-size="45" text-anchor="end" textLength="60.7" lengthAdjust="spacingAndGlyphs" >0.0</text>
<text x="901.8" y="1104.9" font-size="45" text-anchor="end" textLength="60.7" lengthAdjust="spacingAndGlyphs" >0.2</text>
<text x="901.8" y="1030.2" font-size="45" text-anchor="end" textLength="60.7" lengthAdjust="spacingAndGlyphs" >0.4</text>
<text x="901.8" y="955.4" font-size="45" text-anchor="end" textLength="60.7" lengthAdjust="spacingAndGlyphs" >0.6</text>
<text x="901.8" y="880.7" font-size="45" text-anchor="end" textLength="60.7" lengthAdjust="spacingAndGlyphs" >0.8</text>
<text x="901.8" y="806.0" font-size="45" text-anchor="end" textLength="60.7" lengthAdjust="spacingAndGlyphs" >1.0</text>
<text x="1000.6" y="1250.0" font-size="45" text-anchor="middle" textLength="60.7" lengthAdjust="spacingAndGlyphs" >0.2</text>
<text x="1114.4" y="1250.0" font-size="45" text-anchor="middle" textLength="60.7" lengthAdjust="spacingAndGlyphs" >0.4</text>
<text x="1228.3" y="1250.0" font-size="45" text-anchor="middle" textLength="60.7" lengthAdjust="spacingAndGlyphs" >0.6</text>
<text x="1342.1" y="1250.0" font-size="45" text-anchor="middle" textLength="60.7" lengthAdjust="spacingAndGlyphs" >0.8</text>
<text x="961.0" y="814.0" font-size="49.8" font-weight="bold" fill="#000" >C</text>
<text x="1287.0" y="1175.0" font-size="58" font-style="italic" textLength="110.0" lengthAdjust="spacingAndGlyphs" >SCD</text>
</g>
<g>
<path d="M254.6 1806.0L256.7 1806.0L258.8 1806.0L261.0 1806.0L263.1 1806.0L265.2 1806.0L267.4 1806.0L269.5 1806.0L271.6 1806.0L273.7 1806.0L275.9 1806.0L278.0 1806.0L280.1 1806.0L282.3 1806.0L284.4 1806.0L286.5 1806.0L288.7 1806.0L290.8 1806.0L292.9 1806.0L295.0 1806.0L297.2 1806.0L299.3 1806.0L301.4 1806.0L303.6 1806.0L305.7 1806.0L307.8 1806.0L310.0 1806.0L312.1 1806.0L314.2 1806.0L316.4 1806.0L318.5 1806.0L320.6 1806.0L322.7 1806.0L324.9 1806.0L327.0 1806.0L329.1 1806.0L331.3 1806.0L333.4 1806.0L335.5 1806.0L337.7 1806.0L339.8 1806.0L341.9 1806.0L344.0 1806.0L346.2 1806.0L348.3 1806.0L350.4 1806.0L352.6 1806.0L354.7 1806.0L356.8 1806.0L359.0 1806.0L361.1 1806.0L363.2 1806.0L365.4 1806.0L367.5 1806.0L369.6 1805.9L371.7 1805.9L373.9 1805.9L376.0 1805.8L378.1 1805.7L380.3 1805.5L382.4 1805.4L384.5 1805.1L386.7 1804.8L388.8 1804.3L390.9 1803.8L393.0 1803.1L395.2 1802.1L397.3 1800.9L399.4 1799.5L401.6 1797.6L403.7 1795.4L405.8 1792.7L408.0 1789.5L410.1 1785.6L412.2 1781.0L414.3 1775.8L416.5 1769.7L418.6 1762.7L420.7 1754.9L422.9 1746.1L425.0 1736.4L427.1 1725.8L429.3 1714.3L431.4 1702.0L433.5 1688.9L435.7 1675.1L437.8 1660.9L439.9 1646.2L442.0 1631.2L444.2 1616.1L446.3 1601.0L448.4 1586.1L450.6 1571.6L452.7 1557.5L454.8 1544.0L457.0 1531.2L459.1 1519.2L461.2 1508.1L463.3 1497.8L465.5 1488.5L467.6 1480.1L469.7 1472.6L471.9 1466.0L474.0 1460.2L476.1 1455.3L478.3 1451.0L480.4 1447.4L482.5 1444.4L484.6 1441.8L486.8 1439.8L488.9 1438.1L491.0 1436.8L493.2 1435.7L495.3 1434.8L497.4 1434.2L499.6 1433.7L501.7 1433.3L503.8 1433.0L506.0 1432.8L508.1 1432.6L510.2 1432.5L512.3 1432.4L514.5 1432.3L516.6 1432.3L518.7 1432.3L520.9 1432.2L523.0 1432.2L525.1 1432.2L527.3 1432.2L529.4 1432.2L531.5 1432.2L533.6 1432.2L535.8 1432.2L537.9 1432.2L540.0 1432.2L542.2 1432.2L544.3 1432.2L546.4 1432.2L548.6 1432.2L550.7 1432.2L552.8 1432.2L555.0 1432.2L557.1 1432.2L559.2 1432.2L561.3 1432.2L563.5 1432.2L565.6 1432.2L567.7 1432.2L569.9 1432.2L572.0 1432.2L574.1 1432.2L576.3 1432.2L578.4 1432.2L580.5 1432.2L582.6 1432.2L584.8 1432.2L586.9 1432.2L589.0 1432.2L591.2 1432.2L593.3 1432.2L595.4 1432.2" fill="none" stroke="#231f20" stroke-width="5.6" stroke-linecap="butt" stroke-linejoin="round"/>
<path d="M254.6 1731.5L256.7 1729.4L258.8 1727.1L261.0 1724.8L263.1 1722.5L265.2 1720.2L267.4 1717.8L269.5 1715.4L271.6 1712.9L273.7 1710.5L275.9 1707.9L278.0 1705.4L280.1 1702.8L282.3 1700.2L284.4 1697.5L286.5 1694.8L288.7 1692.1L290.8 1689.4L292.9 1686.6L295.0 1683.8L297.2 1681.0L299.3 1678.2L301.4 1675.3L303.6 1672.4L305.7 1669.5L307.8 1666.5L310.0 1663.6L312.1 1660.6L314.2 1657.6L316.4 1654.6L318.5 1651.6L320.6 1648.5L322.7 1645.5L324.9 1642.4L327.0 1639.3L329.1 1636.3L331.3 1633.2L333.4 1630.1L335.5 1627.0L337.7 1623.9L339.8 1620.8L341.9 1617.7L344.0 1614.5L346.2 1611.4L348.3 1608.3L350.4 1605.2L352.6 1602.2L354.7 1599.1L356.8 1596.0L359.0 1592.9L361.1 1589.9L363.2 1586.8L365.4 1583.8L367.5 1580.8L369.6 1577.8L371.7 1574.8L373.9 1571.9L376.0 1568.9L378.1 1566.0L380.3 1563.1L382.4 1560.2L384.5 1557.4L386.7 1554.6L388.8 1551.8L390.9 1549.0L393.0 1546.2L395.2 1543.5L397.3 1540.9L399.4 1538.2L401.6 1535.6L403.7 1533.0L405.8 1530.4L408.0 1527.9L410.1 1525.4L412.2 1523.0L414.3 1520.5L416.5 1518.2L418.6 1515.8L420.7 1513.5L422.9 1511.2L425.0 1509.0L427.1 1506.8L429.3 1504.6L431.4 1502.5L433.5 1500.4L435.7 1498.4L437.8 1496.4L439.9 1494.4L442.0 1492.5L444.2 1490.6L446.3 1488.8L448.4 1487.0L450.6 1485.2L452.7 1483.5L454.8 1481.8L457.0 1480.1L459.1 1478.5L461.2 1476.9L463.3 1475.4L465.5 1473.9L467.6 1472.4L469.7 1471.0L471.9 1469.6L474.0 1468.3L476.1 1467.0L478.3 1465.7L480.4 1464.4L482.5 1463.2L484.6 1462.1L486.8 1460.9L488.9 1459.8L491.0 1458.7L493.2 1457.7L495.3 1456.7L497.4 1455.7L499.6 1454.8L501.7 1453.8L503.8 1453.0L506.0 1452.1L508.1 1451.3L510.2 1450.5L512.3 1449.7L514.5 1448.9L516.6 1448.2L518.7 1447.5L520.9 1446.8L523.0 1446.2L525.1 1445.6L527.3 1445.0L529.4 1444.4L531.5 1443.8L533.6 1443.3L535.8 1442.8L537.9 1442.3L540.0 1441.8L542.2 1441.4L544.3 1440.9L546.4 1440.5L548.6 1440.1L550.7 1439.7L552.8 1439.3L555.0 1439.0L557.1 1438.6L559.2 1438.3L561.3 1438.0L563.5 1437.7L565.6 1437.4L567.7 1437.1L569.9 1436.9L572.0 1436.6L574.1 1436.4L576.3 1436.2L578.4 1436.0L580.5 1435.8L582.6 1435.6L584.8 1435.4L586.9 1435.2L589.0 1435.0L591.2 1434.9L593.3 1434.7L595.4 1434.6" fill="none" stroke="#ed3045" stroke-width="5.6" stroke-linecap="butt" stroke-linejoin="round"/>
<path d="M254.6 1806.0L256.7 1806.0L258.8 1806.0L261.0 1806.0L263.1 1806.0L265.2 1806.0L267.4 1806.0L269.5 1806.0L271.6 1806.0L273.7 1806.0L275.9 1806.0L278.0 1806.0L280.1 1806.0L282.3 1806.0L284.4 1806.0L286.5 1806.0L288.7 1806.0L290.8 1806.0L292.9 1806.0L295.0 1806.0L297.2 1805.9L299.3 1805.9L301.4 1805.9L303.6 1805.9L305.7 1805.9L307.8 1805.9L310.0 1805.8L312.1 1805.8L314.2 1805.7L316.4 1805.7L318.5 1805.6L320.6 1805.6L322.7 1805.5L324.9 1805.4L327.0 1805.3L329.1 1805.2L331.3 1805.1L333.4 1805.0L335.5 1804.8L337.7 1804.6L339.8 1804.4L341.9 1804.2L344.0 1803.9L346.2 1803.6L348.3 1803.3L350.4 1802.9L352.6 1802.4L354.7 1802.0L356.8 1801.4L359.0 1800.9L361.1 1800.2L363.2 1799.5L365.4 1798.7L367.5 1797.8L369.6 1796.9L371.7 1795.8L373.9 1794.7L376.0 1793.4L378.1 1792.0L380.3 1790.5L382.4 1788.9L384.5 1787.2L386.7 1785.3L388.8 1783.2L390.9 1781.0L393.0 1778.7L395.2 1776.2L397.3 1773.5L399.4 1770.6L401.6 1767.6L403.7 1764.3L405.8 1760.9L408.0 1757.3L410.1 1753.5L412.2 1749.5L414.3 1745.3L416.5 1740.9L418.6 1736.3L420.7 1731.5L422.9 1726.5L425.0 1721.3L427.1 1715.9L429.3 1710.4L431.4 1704.7L433.5 1698.8L435.7 1692.7L437.8 1686.5L439.9 1680.2L442.0 1673.7L444.2 1667.2L446.3 1660.5L448.4 1653.7L450.6 1646.9L452.7 1640.0L454.8 1633.1L457.0 1626.1L459.1 1619.1L461.2 1612.1L463.3 1605.1L465.5 1598.2L467.6 1591.3L469.7 1584.5L471.9 1577.7L474.0 1571.0L476.1 1564.5L478.3 1558.0L480.4 1551.7L482.5 1545.5L484.6 1539.4L486.8 1533.5L488.9 1527.8L491.0 1522.3L493.2 1516.9L495.3 1511.7L497.4 1506.7L499.6 1501.9L501.7 1497.3L503.8 1492.9L506.0 1488.7L508.1 1484.7L510.2 1480.9L512.3 1477.3L514.5 1473.9L516.6 1470.6L518.7 1467.6L520.9 1464.7L523.0 1462.0L525.1 1459.5L527.3 1457.2L529.4 1455.0L531.5 1452.9L533.6 1451.0L535.8 1449.3L537.9 1447.7L540.0 1446.2L542.2 1444.8L544.3 1443.5L546.4 1442.4L548.6 1441.3L550.7 1440.4L552.8 1439.5L555.0 1438.7L557.1 1438.0L559.2 1437.3L561.3 1436.8L563.5 1436.2L565.6 1435.8L567.7 1435.3L569.9 1434.9L572.0 1434.6L574.1 1434.3L576.3 1434.0L578.4 1433.8L580.5 1433.6L582.6 1433.4L584.8 1433.2L586.9 1433.1L589.0 1433.0L591.2 1432.9L593.3 1432.8L595.4 1432.7" fill="none" stroke="#30b256" stroke-width="5.6" stroke-linecap="butt" stroke-linejoin="round"/>
<path d="M254.6 1805.9L256.7 1805.9L258.8 1805.8L261.0 1805.8L263.1 1805.7L265.2 1805.7L267.4 1805.6L269.5 1805.5L271.6 1805.4L273.7 1805.2L275.9 1805.1L278.0 1804.9L280.1 1804.7L282.3 1804.4L284.4 1804.1L286.5 1803.7L288.7 1803.3L290.8 1802.8L292.9 1802.3L295.0 1801.6L297.2 1800.9L299.3 1800.1L301.4 1799.1L303.6 1798.1L305.7 1796.9L307.8 1795.5L310.0 1794.0L312.1 1792.3L314.2 1790.4L316.4 1788.3L318.5 1786.0L320.6 1783.4L322.7 1780.7L324.9 1777.6L327.0 1774.3L329.1 1770.7L331.3 1766.8L333.4 1762.6L335.5 1758.1L337.7 1753.3L339.8 1748.1L341.9 1742.7L344.0 1736.9L346.2 1730.8L348.3 1724.4L350.4 1717.7L352.6 1710.7L354.7 1703.4L356.8 1695.8L359.0 1688.1L361.1 1680.0L363.2 1671.8L365.4 1663.4L367.5 1654.9L369.6 1646.2L371.7 1637.4L373.9 1628.6L376.0 1619.7L378.1 1610.8L380.3 1602.0L382.4 1593.2L384.5 1584.5L386.7 1575.9L388.8 1567.5L390.9 1559.3L393.0 1551.2L395.2 1543.4L397.3 1535.8L399.4 1528.5L401.6 1521.4L403.7 1514.7L405.8 1508.2L408.0 1502.1L410.1 1496.3L412.2 1490.8L414.3 1485.6L416.5 1480.7L418.6 1476.2L420.7 1472.0L422.9 1468.0L425.0 1464.4L427.1 1461.0L429.3 1457.9L431.4 1455.1L433.5 1452.5L435.7 1450.2L437.8 1448.1L439.9 1446.2L442.0 1444.4L444.2 1442.9L446.3 1441.5L448.4 1440.3L450.6 1439.2L452.7 1438.2L454.8 1437.4L457.0 1436.7L459.1 1436.0L461.2 1435.4L463.3 1435.0L465.5 1434.5L467.6 1434.2L469.7 1433.9L471.9 1433.6L474.0 1433.4L476.1 1433.2L478.3 1433.0L480.4 1432.9L482.5 1432.7L484.6 1432.6L486.8 1432.6L488.9 1432.5L491.0 1432.4L493.2 1432.4L495.3 1432.3L497.4 1432.3L499.6 1432.3L501.7 1432.3L503.8 1432.3L506.0 1432.2L508.1 1432.2L510.2 1432.2L512.3 1432.2L514.5 1432.2L516.6 1432.2L518.7 1432.2L520.9 1432.2L523.0 1432.2L525.1 1432.2L527.3 1432.2L529.4 1432.2L531.5 1432.2L533.6 1432.2L535.8 1432.2L537.9 1432.2L540.0 1432.2L542.2 1432.2L544.3 1432.2L546.4 1432.2L548.6 1432.2L550.7 1432.2L552.8 1432.2L555.0 1432.2L557.1 1432.2L559.2 1432.2L561.3 1432.2L563.5 1432.2L565.6 1432.2L567.7 1432.2L569.9 1432.2L572.0 1432.2L574.1 1432.2L576.3 1432.2L578.4 1432.2L580.5 1432.2L582.6 1432.2L584.8 1432.2L586.9 1432.2L589.0 1432.2L591.2 1432.2L593.3 1432.2L595.4 1432.2" fill="none" stroke="#8d58a5" stroke-width="5.6" stroke-linecap="butt" stroke-linejoin="round"/>
<circle cx="254.6" cy="1806.0" r="13.55" fill="#fff" stroke="#231f20" stroke-width="1.5"/>
<circle cx="311.4" cy="1806.0" r="13.55" fill="#fff" stroke="#231f20" stroke-width="1.5"/>
<circle cx="368.2" cy="1759.3" r="13.55" fill="#fff" stroke="#231f20" stroke-width="1.5"/>
<circle cx="425.0" cy="1735.9" r="13.55" fill="#fff" stroke="#231f20" stroke-width="1.5"/>
<circle cx="481.8" cy="1455.5" r="13.55" fill="#fff" stroke="#231f20" stroke-width="1.5"/>
<circle cx="538.6" cy="1432.2" r="13.55" fill="#fff" stroke="#231f20" stroke-width="1.5"/>
<circle cx="595.4" cy="1432.2" r="13.55" fill="#fff" stroke="#231f20" stroke-width="1.5"/>
<rect x="243.8" y="1725.2" width="21.5" height="21.5" fill="#ed3045" stroke="#231f20" stroke-width="1.5"/>
<rect x="300.6" y="1631.7" width="21.5" height="21.5" fill="#ed3045" stroke="#231f20" stroke-width="1.5"/>
<rect x="357.4" y="1561.6" width="21.5" height="21.5" fill="#ed3045" stroke="#231f20" stroke-width="1.5"/>
<rect x="414.2" y="1514.9" width="21.5" height="21.5" fill="#ed3045" stroke="#231f20" stroke-width="1.5"/>
<rect x="471.1" y="1444.8" width="21.5" height="21.5" fill="#ed3045" stroke="#231f20" stroke-width="1.5"/>
<rect x="527.9" y="1421.4" width="21.5" height="21.5" fill="#ed3045" stroke="#231f20" stroke-width="1.5"/>
<rect x="584.7" y="1444.8" width="21.5" height="21.5" fill="#ed3045" stroke="#231f20" stroke-width="1.5"/>
<path d="M239.8 1814.8L269.3 1814.8L254.6 1788.5Z" fill="#30b256" stroke="#231f20" stroke-width="1.5" stroke-linejoin="miter"/>
<path d="M296.6 1814.8L326.2 1814.8L311.4 1788.5Z" fill="#30b256" stroke="#231f20" stroke-width="1.5" stroke-linejoin="miter"/>
<path d="M353.4 1814.8L383.0 1814.8L368.2 1788.5Z" fill="#30b256" stroke="#231f20" stroke-width="1.5" stroke-linejoin="miter"/>
<path d="M410.2 1721.3L439.8 1721.3L425.0 1695.0Z" fill="#30b256" stroke="#231f20" stroke-width="1.5" stroke-linejoin="miter"/>
<path d="M467.0 1534.4L496.6 1534.4L481.8 1508.1Z" fill="#30b256" stroke="#231f20" stroke-width="1.5" stroke-linejoin="miter"/>
<path d="M523.8 1487.7L553.4 1487.7L538.6 1461.4Z" fill="#30b256" stroke="#231f20" stroke-width="1.5" stroke-linejoin="miter"/>
<path d="M580.7 1441.0L610.2 1441.0L595.4 1414.6Z" fill="#30b256" stroke="#231f20" stroke-width="1.5" stroke-linejoin="miter"/>
<path d="M241.5 1759.3L254.6 1741.8L267.6 1759.3L254.6 1776.7Z" fill="#8d58a5" stroke="#231f20" stroke-width="1.5"/>
<path d="M298.4 1735.9L311.4 1718.5L324.4 1735.9L311.4 1753.4Z" fill="#8d58a5" stroke="#231f20" stroke-width="1.5"/>
<path d="M355.2 1665.8L368.2 1648.4L381.2 1665.8L368.2 1683.3Z" fill="#8d58a5" stroke="#231f20" stroke-width="1.5"/>
<path d="M412.0 1455.5L425.0 1438.1L438.0 1455.5L425.0 1473.0Z" fill="#8d58a5" stroke="#231f20" stroke-width="1.5"/>
<path d="M468.8 1432.2L481.8 1414.7L494.8 1432.2L481.8 1449.6Z" fill="#8d58a5" stroke="#231f20" stroke-width="1.5"/>
<path d="M525.6 1432.2L538.6 1414.7L551.6 1432.2L538.6 1449.6Z" fill="#8d58a5" stroke="#231f20" stroke-width="1.5"/>
<path d="M582.4 1432.2L595.4 1414.7L608.5 1432.2L595.4 1449.6Z" fill="#8d58a5" stroke="#231f20" stroke-width="1.5"/>
<rect x="172.2" y="1394.8" width="505.6" height="448.6" fill="none" stroke="#3a3839" stroke-width="1.6"/>
<path d="M254.6 1394.8v5.5M254.6 1843.4v-5.5M368.2 1394.8v5.5M368.2 1843.4v-5.5M481.8 1394.8v5.5M481.8 1843.4v-5.5M595.4 1394.8v5.5M595.4 1843.4v-5.5M172.2 1806.0h5.5M677.8 1806.0h-5.5M172.2 1731.2h5.5M677.8 1731.2h-5.5M172.2 1656.5h5.5M677.8 1656.5h-5.5M172.2 1581.7h5.5M677.8 1581.7h-5.5M172.2 1507.0h5.5M677.8 1507.0h-5.5M172.2 1432.2h5.5M677.8 1432.2h-5.5" stroke="#3a3839" stroke-width="1.5" fill="none"/>
<text x="155.3" y="1823.5" font-size="45" text-anchor="end" textLength="60.7" lengthAdjust="spacingAndGlyphs" >0.0</text>
<text x="155.3" y="1748.8" font-size="45" text-anchor="end" textLength="60.7" lengthAdjust="spacingAndGlyphs" >0.2</text>
<text x="155.3" y="1674.0" font-size="45" text-anchor="end" textLength="60.7" lengthAdjust="spacingAndGlyphs" >0.4</text>
<text x="155.3" y="1599.2" font-size="45" text-anchor="end" textLength="60.7" lengthAdjust="spacingAndGlyphs" >0.6</text>
<text x="155.3" y="1524.5" font-size="45" text-anchor="end" textLength="60.7" lengthAdjust="spacingAndGlyphs" >0.8</text>
<text x="155.3" y="1449.7" font-size="45" text-anchor="end" textLength="60.7" lengthAdjust="spacingAndGlyphs" >1.0</text>
<text x="250.1" y="1890.0" font-size="45" text-anchor="middle" textLength="60.7" lengthAdjust="spacingAndGlyphs" >0.2</text>
<text x="363.7" y="1890.0" font-size="45" text-anchor="middle" textLength="60.7" lengthAdjust="spacingAndGlyphs" >0.4</text>
<text x="477.3" y="1890.0" font-size="45" text-anchor="middle" textLength="60.7" lengthAdjust="spacingAndGlyphs" >0.6</text>
<text x="590.9" y="1890.0" font-size="45" text-anchor="middle" textLength="60.7" lengthAdjust="spacingAndGlyphs" >0.8</text>
<text x="220.5" y="1463.8" font-size="49.8" font-weight="bold" fill="#000" >E</text>
<text x="547.5" y="1810.2" font-size="58" font-style="italic" textLength="103.0" lengthAdjust="spacingAndGlyphs" >JAG</text>
</g>
<g>
<path d="M254.6 2370.2L256.7 2370.2L258.8 2370.2L261.0 2370.2L263.1 2370.2L265.2 2370.2L267.4 2370.2L269.5 2370.2L271.6 2370.2L273.7 2370.2L275.9 2370.2L278.0 2370.2L280.1 2370.2L282.3 2370.2L284.4 2370.2L286.5 2370.2L288.7 2370.2L290.8 2370.2L292.9 2370.2L295.0 2370.2L297.2 2370.2L299.3 2370.2L301.4 2370.2L303.6 2370.2L305.7 2370.2L307.8 2370.2L310.0 2370.2L312.1 2370.2L314.2 2370.2L316.4 2370.2L318.5 2370.2L320.6 2370.2L322.7 2370.2L324.9 2370.2L327.0 2370.2L329.1 2370.2L331.3 2370.2L333.4 2370.2L335.5 2370.2L337.7 2370.2L339.8 2370.2L341.9 2370.2L344.0 2370.2L346.2 2370.2L348.3 2370.2L350.4 2370.2L352.6 2370.2L354.7 2370.2L356.8 2370.2L359.0 2370.2L361.1 2370.2L363.2 2370.2L365.4 2370.2L367.5 2370.2L369.6 2370.2L371.7 2370.1L373.9 2370.1L376.0 2370.0L378.1 2369.9L380.3 2369.8L382.4 2369.6L384.5 2369.3L386.7 2369.0L388.8 2368.6L390.9 2368.0L393.0 2367.3L395.2 2366.3L397.3 2365.2L399.4 2363.7L401.6 2361.9L403.7 2359.6L405.8 2356.9L408.0 2353.7L410.1 2349.8L412.2 2345.3L414.3 2340.0L416.5 2333.9L418.6 2326.9L420.7 2319.1L422.9 2310.3L425.0 2300.6L427.1 2290.0L429.3 2278.6L431.4 2266.2L433.5 2253.2L435.7 2239.4L437.8 2225.1L439.9 2210.4L442.0 2195.5L444.2 2180.4L446.3 2165.3L448.4 2150.4L450.6 2135.9L452.7 2121.8L454.8 2108.3L457.0 2095.5L459.1 2083.5L461.2 2072.4L463.3 2062.2L465.5 2052.8L467.6 2044.5L469.7 2037.0L471.9 2030.4L474.0 2024.6L476.1 2019.6L478.3 2015.4L480.4 2011.8L482.5 2008.7L484.6 2006.2L486.8 2004.2L488.9 2002.5L491.0 2001.1L493.2 2000.1L495.3 1999.2L497.4 1998.6L499.6 1998.0L501.7 1997.7L503.8 1997.4L506.0 1997.1L508.1 1997.0L510.2 1996.9L512.3 1996.8L514.5 1996.7L516.6 1996.7L518.7 1996.6L520.9 1996.6L523.0 1996.6L525.1 1996.6L527.3 1996.6L529.4 1996.6L531.5 1996.6L533.6 1996.6L535.8 1996.6L537.9 1996.6L540.0 1996.6L542.2 1996.6L544.3 1996.6L546.4 1996.6L548.6 1996.6L550.7 1996.6L552.8 1996.6L555.0 1996.6L557.1 1996.6L559.2 1996.6L561.3 1996.6L563.5 1996.6L565.6 1996.6L567.7 1996.6L569.9 1996.6L572.0 1996.6L574.1 1996.6L576.3 1996.6L578.4 1996.6L580.5 1996.6L582.6 1996.6L584.8 1996.6L586.9 1996.6L589.0 1996.6L591.2 1996.6L593.3 1996.6L595.4 1996.6" fill="none" stroke="#231f20" stroke-width="5.6" stroke-linecap="butt" stroke-linejoin="round"/>
<path d="M254.6 2340.1L256.7 2338.6L258.8 2337.2L261.0 2335.6L263.1 2334.1L265.2 2332.4L267.4 2330.8L269.5 2329.0L271.6 2327.2L273.7 2325.4L275.9 2323.5L278.0 2321.5L280.1 2319.5L282.3 2317.5L284.4 2315.4L286.5 2313.2L288.7 2310.9L290.8 2308.7L292.9 2306.3L295.0 2303.9L297.2 2301.5L299.3 2298.9L301.4 2296.4L303.6 2293.7L305.7 2291.1L307.8 2288.3L310.0 2285.6L312.1 2282.7L314.2 2279.8L316.4 2276.9L318.5 2273.9L320.6 2270.8L322.7 2267.8L324.9 2264.6L327.0 2261.4L329.1 2258.2L331.3 2254.9L333.4 2251.6L335.5 2248.3L337.7 2244.9L339.8 2241.5L341.9 2238.0L344.0 2234.5L346.2 2231.0L348.3 2227.5L350.4 2223.9L352.6 2220.3L354.7 2216.7L356.8 2213.0L359.0 2209.4L361.1 2205.7L363.2 2202.0L365.4 2198.3L367.5 2194.6L369.6 2190.9L371.7 2187.1L373.9 2183.4L376.0 2179.7L378.1 2175.9L380.3 2172.2L382.4 2168.5L384.5 2164.8L386.7 2161.1L388.8 2157.4L390.9 2153.8L393.0 2150.1L395.2 2146.5L397.3 2142.9L399.4 2139.3L401.6 2135.8L403.7 2132.3L405.8 2128.8L408.0 2125.3L410.1 2121.9L412.2 2118.5L414.3 2115.2L416.5 2111.9L418.6 2108.6L420.7 2105.4L422.9 2102.2L425.0 2099.0L427.1 2096.0L429.3 2092.9L431.4 2089.9L433.5 2087.0L435.7 2084.1L437.8 2081.2L439.9 2078.5L442.0 2075.7L444.2 2073.1L446.3 2070.4L448.4 2067.9L450.6 2065.3L452.7 2062.9L454.8 2060.5L457.0 2058.1L459.1 2055.9L461.2 2053.6L463.3 2051.4L465.5 2049.3L467.6 2047.3L469.7 2045.3L471.9 2043.3L474.0 2041.4L476.1 2039.6L478.3 2037.8L480.4 2036.0L482.5 2034.4L484.6 2032.7L486.8 2031.2L488.9 2029.6L491.0 2028.2L493.2 2026.7L495.3 2025.4L497.4 2024.0L499.6 2022.8L501.7 2021.5L503.8 2020.3L506.0 2019.2L508.1 2018.1L510.2 2017.0L512.3 2016.0L514.5 2015.1L516.6 2014.1L518.7 2013.2L520.9 2012.4L523.0 2011.5L525.1 2010.7L527.3 2010.0L529.4 2009.3L531.5 2008.6L533.6 2007.9L535.8 2007.3L537.9 2006.7L540.0 2006.1L542.2 2005.6L544.3 2005.1L546.4 2004.6L548.6 2004.1L550.7 2003.7L552.8 2003.2L555.0 2002.8L557.1 2002.5L559.2 2002.1L561.3 2001.8L563.5 2001.4L565.6 2001.1L567.7 2000.8L569.9 2000.6L572.0 2000.3L574.1 2000.1L576.3 1999.8L578.4 1999.6L580.5 1999.4L582.6 1999.2L584.8 1999.1L586.9 1998.9L589.0 1998.7L591.2 1998.6L593.3 1998.4L595.4 1998.3" fill="none" stroke="#ed3045" stroke-width="5.6" stroke-linecap="butt" stroke-linejoin="round"/>
<path d="M254.6 2370.2L256.7 2370.2L258.8 2370.2L261.0 2370.2L263.1 2370.2L265.2 2370.2L267.4 2370.2L269.5 2370.2L271.6 2370.2L273.7 2370.2L275.9 2370.2L278.0 2370.2L280.1 2370.2L282.3 2370.2L284.4 2370.2L286.5 2370.2L288.7 2370.2L290.8 2370.2L292.9 2370.2L295.0 2370.2L297.2 2370.2L299.3 2370.1L301.4 2370.1L303.6 2370.1L305.7 2370.1L307.8 2370.0L310.0 2370.0L312.1 2370.0L314.2 2369.9L316.4 2369.9L318.5 2369.8L320.6 2369.7L322.7 2369.6L324.9 2369.5L327.0 2369.4L329.1 2369.3L331.3 2369.2L333.4 2369.0L335.5 2368.8L337.7 2368.6L339.8 2368.4L341.9 2368.1L344.0 2367.8L346.2 2367.4L348.3 2367.1L350.4 2366.6L352.6 2366.2L354.7 2365.6L356.8 2365.0L359.0 2364.4L361.1 2363.7L363.2 2362.9L365.4 2362.0L367.5 2361.0L369.6 2360.0L371.7 2358.8L373.9 2357.5L376.0 2356.1L378.1 2354.7L380.3 2353.0L382.4 2351.3L384.5 2349.4L386.7 2347.3L388.8 2345.1L390.9 2342.8L393.0 2340.2L395.2 2337.5L397.3 2334.7L399.4 2331.6L401.6 2328.4L403.7 2324.9L405.8 2321.3L408.0 2317.5L410.1 2313.5L412.2 2309.2L414.3 2304.8L416.5 2300.2L418.6 2295.4L420.7 2290.4L422.9 2285.2L425.0 2279.8L427.1 2274.3L429.3 2268.5L431.4 2262.6L433.5 2256.6L435.7 2250.4L437.8 2244.0L439.9 2237.6L442.0 2231.0L444.2 2224.3L446.3 2217.6L448.4 2210.7L450.6 2203.8L452.7 2196.9L454.8 2189.9L457.0 2182.9L459.1 2175.9L461.2 2169.0L463.3 2162.0L465.5 2155.2L467.6 2148.3L469.7 2141.6L471.9 2134.9L474.0 2128.3L476.1 2121.9L478.3 2115.6L480.4 2109.4L482.5 2103.4L484.6 2097.5L486.8 2091.8L488.9 2086.3L491.0 2080.9L493.2 2075.7L495.3 2070.8L497.4 2066.0L499.6 2061.4L501.7 2057.0L503.8 2052.8L506.0 2048.8L508.1 2045.0L510.2 2041.4L512.3 2038.0L514.5 2034.8L516.6 2031.7L518.7 2028.9L520.9 2026.2L523.0 2023.7L525.1 2021.4L527.3 2019.2L529.4 2017.2L531.5 2015.3L533.6 2013.6L535.8 2011.9L537.9 2010.5L540.0 2009.1L542.2 2007.8L544.3 2006.7L546.4 2005.7L548.6 2004.7L550.7 2003.8L552.8 2003.0L555.0 2002.3L557.1 2001.7L559.2 2001.1L561.3 2000.6L563.5 2000.1L565.6 1999.7L567.7 1999.3L569.9 1999.0L572.0 1998.7L574.1 1998.4L576.3 1998.2L578.4 1998.0L580.5 1997.8L582.6 1997.6L584.8 1997.5L586.9 1997.4L589.0 1997.2L591.2 1997.1L593.3 1997.1L595.4 1997.0" fill="none" stroke="#30b256" stroke-width="5.6" stroke-linecap="butt" stroke-linejoin="round"/>
<path d="M254.6 2369.4L256.7 2369.2L258.8 2369.0L261.0 2368.8L263.1 2368.4L265.2 2368.1L267.4 2367.6L269.5 2367.1L271.6 2366.4L273.7 2365.7L275.9 2364.9L278.0 2363.9L280.1 2362.8L282.3 2361.5L284.4 2360.0L286.5 2358.3L288.7 2356.4L290.8 2354.2L292.9 2351.8L295.0 2349.1L297.2 2346.1L299.3 2342.8L301.4 2339.1L303.6 2335.1L305.7 2330.8L307.8 2326.0L310.0 2320.8L312.1 2315.3L314.2 2309.3L316.4 2303.0L318.5 2296.2L320.6 2289.0L322.7 2281.5L324.9 2273.6L327.0 2265.3L329.1 2256.7L331.3 2247.8L333.4 2238.6L335.5 2229.2L337.7 2219.6L339.8 2209.9L341.9 2200.0L344.0 2190.1L346.2 2180.2L348.3 2170.6L350.4 2161.0L352.6 2151.5L354.7 2142.2L356.8 2133.0L359.0 2124.0L361.1 2115.3L363.2 2106.8L365.4 2098.6L367.5 2090.7L369.6 2083.2L371.7 2076.0L373.9 2069.2L376.0 2062.7L378.1 2056.6L380.3 2050.9L382.4 2045.6L384.5 2040.6L386.7 2036.0L388.8 2031.8L390.9 2027.9L393.0 2024.4L395.2 2021.1L397.3 2018.2L399.4 2015.5L401.6 2013.1L403.7 2011.0L405.8 2009.1L408.0 2007.4L410.1 2005.9L412.2 2004.6L414.3 2003.4L416.5 2002.4L418.6 2001.5L420.7 2000.7L422.9 2000.1L425.0 1999.5L427.1 1999.0L429.3 1998.6L431.4 1998.3L433.5 1998.0L435.7 1997.7L437.8 1997.5L439.9 1997.3L442.0 1997.2L444.2 1997.1L446.3 1997.0L448.4 1996.9L450.6 1996.8L452.7 1996.8L454.8 1996.7L457.0 1996.7L459.1 1996.7L461.2 1996.6L463.3 1996.6L465.5 1996.6L467.6 1996.6L469.7 1996.6L471.9 1996.6L474.0 1996.6L476.1 1996.6L478.3 1996.6L480.4 1996.6L482.5 1996.6L484.6 1996.6L486.8 1996.6L488.9 1996.6L491.0 1996.6L493.2 1996.6L495.3 1996.6L497.4 1996.6L499.6 1996.6L501.7 1996.6L503.8 1996.6L506.0 1996.6L508.1 1996.6L510.2 1996.6L512.3 1996.6L514.5 1996.6L516.6 1996.6L518.7 1996.6L520.9 1996.6L523.0 1996.6L525.1 1996.6L527.3 1996.6L529.4 1996.6L531.5 1996.6L533.6 1996.6L535.8 1996.6L537.9 1996.6L540.0 1996.6L542.2 1996.6L544.3 1996.6L546.4 1996.6L548.6 1996.6L550.7 1996.6L552.8 1996.6L555.0 1996.6L557.1 1996.6L559.2 1996.6L561.3 1996.6L563.5 1996.6L565.6 1996.6L567.7 1996.6L569.9 1996.6L572.0 1996.6L574.1 1996.6L576.3 1996.6L578.4 1996.6L580.5 1996.6L582.6 1996.6L584.8 1996.6L586.9 1996.6L589.0 1996.6L591.2 1996.6L593.3 1996.6L595.4 1996.6" fill="none" stroke="#8d58a5" stroke-width="5.6" stroke-linecap="butt" stroke-linejoin="round"/>
<circle cx="254.6" cy="2370.2" r="13.55" fill="#fff" stroke="#231f20" stroke-width="1.5"/>
<circle cx="311.4" cy="2370.2" r="13.55" fill="#fff" stroke="#231f20" stroke-width="1.5"/>
<circle cx="368.2" cy="2307.9" r="13.55" fill="#fff" stroke="#231f20" stroke-width="1.5"/>
<circle cx="425.0" cy="2307.9" r="13.55" fill="#fff" stroke="#231f20" stroke-width="1.5"/>
<circle cx="481.8" cy="2027.7" r="13.55" fill="#fff" stroke="#231f20" stroke-width="1.5"/>
<circle cx="538.6" cy="1996.6" r="13.55" fill="#fff" stroke="#231f20" stroke-width="1.5"/>
<circle cx="595.4" cy="1996.6" r="13.55" fill="#fff" stroke="#231f20" stroke-width="1.5"/>
<rect x="243.8" y="2336.1" width="21.5" height="21.5" fill="#ed3045" stroke="#231f20" stroke-width="1.5"/>
<rect x="300.6" y="2242.7" width="21.5" height="21.5" fill="#ed3045" stroke="#231f20" stroke-width="1.5"/>
<rect x="357.4" y="2196.0" width="21.5" height="21.5" fill="#ed3045" stroke="#231f20" stroke-width="1.5"/>
<rect x="414.2" y="2102.6" width="21.5" height="21.5" fill="#ed3045" stroke="#231f20" stroke-width="1.5"/>
<rect x="471.1" y="2009.2" width="21.5" height="21.5" fill="#ed3045" stroke="#231f20" stroke-width="1.5"/>
<rect x="527.9" y="1985.8" width="21.5" height="21.5" fill="#ed3045" stroke="#231f20" stroke-width="1.5"/>
<rect x="584.7" y="1985.8" width="21.5" height="21.5" fill="#ed3045" stroke="#231f20" stroke-width="1.5"/>
<path d="M239.8 2379.0L269.3 2379.0L254.6 2352.7Z" fill="#30b256" stroke="#231f20" stroke-width="1.5" stroke-linejoin="miter"/>
<path d="M296.6 2332.3L326.2 2332.3L311.4 2306.0Z" fill="#30b256" stroke="#231f20" stroke-width="1.5" stroke-linejoin="miter"/>
<path d="M353.4 2379.0L383.0 2379.0L368.2 2352.7Z" fill="#30b256" stroke="#231f20" stroke-width="1.5" stroke-linejoin="miter"/>
<path d="M410.2 2285.6L439.8 2285.6L425.0 2259.3Z" fill="#30b256" stroke="#231f20" stroke-width="1.5" stroke-linejoin="miter"/>
<path d="M467.0 2098.8L496.6 2098.8L481.8 2072.4Z" fill="#30b256" stroke="#231f20" stroke-width="1.5" stroke-linejoin="miter"/>
<path d="M523.8 2052.0L553.4 2052.0L538.6 2025.7Z" fill="#30b256" stroke="#231f20" stroke-width="1.5" stroke-linejoin="miter"/>
<path d="M580.7 2005.3L610.2 2005.3L595.4 1979.0Z" fill="#30b256" stroke="#231f20" stroke-width="1.5" stroke-linejoin="miter"/>
<path d="M241.5 2346.9L254.6 2329.4L267.6 2346.9L254.6 2364.3Z" fill="#8d58a5" stroke="#231f20" stroke-width="1.5"/>
<path d="M298.4 2323.5L311.4 2306.1L324.4 2323.5L311.4 2341.0Z" fill="#8d58a5" stroke="#231f20" stroke-width="1.5"/>
<path d="M355.2 2090.0L368.2 2072.5L381.2 2090.0L368.2 2107.4Z" fill="#8d58a5" stroke="#231f20" stroke-width="1.5"/>
<path d="M412.0 2019.9L425.0 2002.5L438.0 2019.9L425.0 2037.4Z" fill="#8d58a5" stroke="#231f20" stroke-width="1.5"/>
<path d="M468.8 1996.6L481.8 1979.1L494.8 1996.6L481.8 2014.0Z" fill="#8d58a5" stroke="#231f20" stroke-width="1.5"/>
<path d="M525.6 1996.6L538.6 1979.1L551.6 1996.6L538.6 2014.0Z" fill="#8d58a5" stroke="#231f20" stroke-width="1.5"/>
<path d="M582.4 1996.6L595.4 1979.1L608.5 1996.6L595.4 2014.0Z" fill="#8d58a5" stroke="#231f20" stroke-width="1.5"/>
<rect x="172.2" y="1959.2" width="505.6" height="448.4" fill="none" stroke="#3a3839" stroke-width="1.6"/>
<path d="M254.6 1959.2v5.5M254.6 2407.6v-5.5M368.2 1959.2v5.5M368.2 2407.6v-5.5M481.8 1959.2v5.5M481.8 2407.6v-5.5M595.4 1959.2v5.5M595.4 2407.6v-5.5M172.2 2370.2h5.5M677.8 2370.2h-5.5M172.2 2295.5h5.5M677.8 2295.5h-5.5M172.2 2220.8h5.5M677.8 2220.8h-5.5M172.2 2146.0h5.5M677.8 2146.0h-5.5M172.2 2071.3h5.5M677.8 2071.3h-5.5M172.2 1996.6h5.5M677.8 1996.6h-5.5" stroke="#3a3839" stroke-width="1.5" fill="none"/>
<text x="155.3" y="2387.7" font-size="45" text-anchor="end" textLength="60.7" lengthAdjust="spacingAndGlyphs" >0.0</text>
<text x="155.3" y="2313.0" font-size="45" text-anchor="end" textLength="60.7" lengthAdjust="spacingAndGlyphs" >0.2</text>
<text x="155.3" y="2238.3" font-size="45" text-anchor="end" textLength="60.7" lengthAdjust="spacingAndGlyphs" >0.4</text>
<text x="155.3" y="2163.5" font-size="45" text-anchor="end" textLength="60.7" lengthAdjust="spacingAndGlyphs" >0.6</text>
<text x="155.3" y="2088.8" font-size="45" text-anchor="end" textLength="60.7" lengthAdjust="spacingAndGlyphs" >0.8</text>
<text x="155.3" y="2014.1" font-size="45" text-anchor="end" textLength="60.7" lengthAdjust="spacingAndGlyphs" >1.0</text>
<text x="250.1" y="2462.0" font-size="45" text-anchor="middle" textLength="60.7" lengthAdjust="spacingAndGlyphs" >0.2</text>
<text x="363.7" y="2462.0" font-size="45" text-anchor="middle" textLength="60.7" lengthAdjust="spacingAndGlyphs" >0.4</text>
<text x="477.3" y="2462.0" font-size="45" text-anchor="middle" textLength="60.7" lengthAdjust="spacingAndGlyphs" >0.6</text>
<text x="590.9" y="2462.0" font-size="45" text-anchor="middle" textLength="60.7" lengthAdjust="spacingAndGlyphs" >0.8</text>
<text x="219.0" y="2034.8" font-size="49.8" font-weight="bold" fill="#000" >H</text>
<text x="568.0" y="2370.2" font-size="58" font-style="italic" textLength="73.0" lengthAdjust="spacingAndGlyphs" >DK</text>
</g>
<g>
<path d="M1002.5 1804.6L1004.6 1804.6L1006.8 1804.6L1008.9 1804.6L1011.0 1804.6L1013.2 1804.6L1015.3 1804.6L1017.4 1804.6L1019.5 1804.6L1021.7 1804.6L1023.8 1804.6L1025.9 1804.6L1028.1 1804.6L1030.2 1804.6L1032.3 1804.6L1034.4 1804.6L1036.6 1804.6L1038.7 1804.6L1040.8 1804.6L1043.0 1804.6L1045.1 1804.6L1047.2 1804.6L1049.3 1804.6L1051.5 1804.6L1053.6 1804.6L1055.7 1804.6L1057.9 1804.6L1060.0 1804.6L1062.1 1804.6L1064.2 1804.6L1066.4 1804.6L1068.5 1804.6L1070.6 1804.6L1072.8 1804.6L1074.9 1804.6L1077.0 1804.6L1079.1 1804.6L1081.3 1804.6L1083.4 1804.6L1085.5 1804.6L1087.7 1804.6L1089.8 1804.6L1091.9 1804.6L1094.0 1804.6L1096.2 1804.6L1098.3 1804.6L1100.4 1804.6L1102.6 1804.6L1104.7 1804.6L1106.8 1804.6L1108.9 1804.6L1111.1 1804.6L1113.2 1804.6L1115.3 1804.6L1117.5 1804.6L1119.6 1804.5L1121.7 1804.5L1123.8 1804.4L1126.0 1804.3L1128.1 1804.2L1130.2 1804.0L1132.4 1803.7L1134.5 1803.4L1136.6 1803.0L1138.7 1802.4L1140.9 1801.7L1143.0 1800.7L1145.1 1799.6L1147.3 1798.1L1149.4 1796.3L1151.5 1794.0L1153.6 1791.3L1155.8 1788.1L1157.9 1784.2L1160.0 1779.7L1162.2 1774.4L1164.3 1768.3L1166.4 1761.3L1168.5 1753.5L1170.7 1744.7L1172.8 1735.0L1174.9 1724.4L1177.1 1713.0L1179.2 1700.6L1181.3 1687.6L1183.4 1673.8L1185.6 1659.5L1187.7 1644.8L1189.8 1629.9L1192.0 1614.8L1194.1 1599.7L1196.2 1584.8L1198.3 1570.3L1200.5 1556.2L1202.6 1542.7L1204.7 1529.9L1206.9 1517.9L1209.0 1506.8L1211.1 1496.6L1213.2 1487.2L1215.4 1478.9L1217.5 1471.4L1219.6 1464.8L1221.8 1459.0L1223.9 1454.0L1226.0 1449.8L1228.1 1446.2L1230.3 1443.1L1232.4 1440.6L1234.5 1438.6L1236.7 1436.9L1238.8 1435.5L1240.9 1434.5L1243.0 1433.6L1245.2 1433.0L1247.3 1432.4L1249.4 1432.1L1251.6 1431.8L1253.7 1431.5L1255.8 1431.4L1257.9 1431.3L1260.1 1431.2L1262.2 1431.1L1264.3 1431.1L1266.5 1431.0L1268.6 1431.0L1270.7 1431.0L1272.8 1431.0L1275.0 1431.0L1277.1 1431.0L1279.2 1431.0L1281.4 1431.0L1283.5 1431.0L1285.6 1431.0L1287.7 1431.0L1289.9 1431.0L1292.0 1431.0L1294.1 1431.0L1296.3 1431.0L1298.4 1431.0L1300.5 1431.0L1302.6 1431.0L1304.8 1431.0L1306.9 1431.0L1309.0 1431.0L1311.2 1431.0L1313.3 1431.0L1315.4 1431.0L1317.5 1431.0L1319.7 1431.0L1321.8 1431.0L1323.9 1431.0L1326.1 1431.0L1328.2 1431.0L1330.3 1431.0L1332.4 1431.0L1334.6 1431.0L1336.7 1431.0L1338.8 1431.0L1341.0 1431.0L1343.1 1431.0" fill="none" stroke="#231f20" stroke-width="5.6" stroke-linecap="butt" stroke-linejoin="round"/>
<path d="M1002.5 1804.6L1004.6 1804.6L1006.8 1804.6L1008.9 1804.6L1011.0 1804.6L1013.2 1804.6L1015.3 1804.6L1017.4 1804.6L1019.5 1804.6L1021.7 1804.6L1023.8 1804.6L1025.9 1804.6L1028.1 1804.6L1030.2 1804.6L1032.3 1804.6L1034.4 1804.6L1036.6 1804.6L1038.7 1804.6L1040.8 1804.6L1043.0 1804.6L1045.1 1804.6L1047.2 1804.6L1049.3 1804.6L1051.5 1804.6L1053.6 1804.6L1055.7 1804.6L1057.9 1804.6L1060.0 1804.6L1062.1 1804.6L1064.2 1804.6L1066.4 1804.6L1068.5 1804.6L1070.6 1804.6L1072.8 1804.6L1074.9 1804.6L1077.0 1804.6L1079.1 1804.6L1081.3 1804.5L1083.4 1804.5L1085.5 1804.5L1087.7 1804.5L1089.8 1804.5L1091.9 1804.5L1094.0 1804.4L1096.2 1804.4L1098.3 1804.4L1100.4 1804.3L1102.6 1804.3L1104.7 1804.2L1106.8 1804.2L1108.9 1804.1L1111.1 1804.0L1113.2 1804.0L1115.3 1803.9L1117.5 1803.8L1119.6 1803.7L1121.7 1803.5L1123.8 1803.4L1126.0 1803.3L1128.1 1803.1L1130.2 1802.9L1132.4 1802.7L1134.5 1802.4L1136.6 1802.2L1138.7 1801.9L1140.9 1801.6L1143.0 1801.2L1145.1 1800.9L1147.3 1800.5L1149.4 1800.0L1151.5 1799.5L1153.6 1799.0L1155.8 1798.4L1157.9 1797.7L1160.0 1797.0L1162.2 1796.3L1164.3 1795.5L1166.4 1794.6L1168.5 1793.6L1170.7 1792.6L1172.8 1791.5L1174.9 1790.3L1177.1 1789.1L1179.2 1787.7L1181.3 1786.2L1183.4 1784.7L1185.6 1783.0L1187.7 1781.3L1189.8 1779.4L1192.0 1777.4L1194.1 1775.3L1196.2 1773.1L1198.3 1770.8L1200.5 1768.3L1202.6 1765.7L1204.7 1763.0L1206.9 1760.1L1209.0 1757.1L1211.1 1753.9L1213.2 1750.7L1215.4 1747.2L1217.5 1743.7L1219.6 1740.0L1221.8 1736.1L1223.9 1732.1L1226.0 1728.0L1228.1 1723.8L1230.3 1719.4L1232.4 1714.8L1234.5 1710.2L1236.7 1705.4L1238.8 1700.5L1240.9 1695.5L1243.0 1690.4L1245.2 1685.2L1247.3 1679.8L1249.4 1674.4L1251.6 1668.9L1253.7 1663.4L1255.8 1657.7L1257.9 1652.0L1260.1 1646.3L1262.2 1640.5L1264.3 1634.6L1266.5 1628.8L1268.6 1622.9L1270.7 1617.1L1272.8 1611.8L1275.0 1606.5L1277.1 1601.2L1279.2 1595.9L1281.4 1590.6L1283.5 1585.4L1285.6 1580.2L1287.7 1575.1L1289.9 1570.0L1292.0 1565.0L1294.1 1560.1L1296.3 1555.2L1298.4 1550.4L1300.5 1545.6L1302.6 1541.0L1304.8 1536.4L1306.9 1532.0L1309.0 1527.6L1311.2 1523.3L1313.3 1519.2L1315.4 1515.1L1317.5 1511.2L1319.7 1507.3L1321.8 1503.6L1323.9 1500.0L1326.1 1496.5L1328.2 1493.1L1330.3 1489.8L1332.4 1486.7L1334.6 1483.6L1336.7 1480.7L1338.8 1477.9L1341.0 1475.2L1343.1 1472.6" fill="none" stroke="#ed3045" stroke-width="5.6" stroke-linecap="butt" stroke-linejoin="round"/>
<path d="M1002.5 1804.6L1004.6 1804.6L1006.8 1804.6L1008.9 1804.6L1011.0 1804.6L1013.2 1804.6L1015.3 1804.6L1017.4 1804.6L1019.5 1804.6L1021.7 1804.6L1023.8 1804.6L1025.9 1804.6L1028.1 1804.6L1030.2 1804.6L1032.3 1804.6L1034.4 1804.6L1036.6 1804.6L1038.7 1804.6L1040.8 1804.6L1043.0 1804.6L1045.1 1804.6L1047.2 1804.6L1049.3 1804.6L1051.5 1804.6L1053.6 1804.6L1055.7 1804.6L1057.9 1804.6L1060.0 1804.6L1062.1 1804.6L1064.2 1804.6L1066.4 1804.6L1068.5 1804.6L1070.6 1804.6L1072.8 1804.6L1074.9 1804.6L1077.0 1804.6L1079.1 1804.6L1081.3 1804.6L1083.4 1804.6L1085.5 1804.6L1087.7 1804.5L1089.8 1804.5L1091.9 1804.5L1094.0 1804.4L1096.2 1804.4L1098.3 1804.4L1100.4 1804.3L1102.6 1804.2L1104.7 1804.1L1106.8 1804.0L1108.9 1803.9L1111.1 1803.7L1113.2 1803.6L1115.3 1803.4L1117.5 1803.1L1119.6 1802.8L1121.7 1802.5L1123.8 1802.1L1126.0 1801.7L1128.1 1801.2L1130.2 1800.6L1132.4 1799.9L1134.5 1799.2L1136.6 1798.3L1138.7 1797.3L1140.9 1796.2L1143.0 1795.0L1145.1 1793.6L1147.3 1792.0L1149.4 1790.3L1151.5 1788.4L1153.6 1786.2L1155.8 1783.9L1157.9 1781.3L1160.0 1778.5L1162.2 1775.4L1164.3 1772.1L1166.4 1768.5L1168.5 1764.6L1170.7 1760.4L1172.8 1755.9L1174.9 1751.2L1177.1 1746.1L1179.2 1740.6L1181.3 1734.9L1183.4 1728.9L1185.6 1722.6L1187.7 1715.9L1189.8 1709.0L1192.0 1701.9L1194.1 1694.4L1196.2 1686.8L1198.3 1678.9L1200.5 1670.8L1202.6 1662.5L1204.7 1654.1L1206.9 1645.6L1209.0 1637.0L1211.1 1628.3L1213.2 1619.5L1215.4 1610.6L1217.5 1601.6L1219.6 1592.7L1221.8 1583.8L1223.9 1575.1L1226.0 1566.6L1228.1 1558.2L1230.3 1550.0L1232.4 1542.0L1234.5 1534.4L1236.7 1526.9L1238.8 1519.8L1240.9 1513.0L1243.0 1506.4L1245.2 1500.2L1247.3 1494.4L1249.4 1488.8L1251.6 1483.6L1253.7 1478.7L1255.8 1474.1L1257.9 1469.9L1260.1 1466.0L1262.2 1462.3L1264.3 1459.0L1266.5 1455.9L1268.6 1453.1L1270.7 1450.6L1272.8 1448.3L1275.0 1446.2L1277.1 1444.3L1279.2 1442.6L1281.4 1441.1L1283.5 1439.8L1285.6 1438.6L1287.7 1437.6L1289.9 1436.6L1292.0 1435.8L1294.1 1435.1L1296.3 1434.5L1298.4 1434.0L1300.5 1433.5L1302.6 1433.1L1304.8 1432.8L1306.9 1432.5L1309.0 1432.2L1311.2 1432.0L1313.3 1431.8L1315.4 1431.7L1317.5 1431.6L1319.7 1431.5L1321.8 1431.4L1323.9 1431.3L1326.1 1431.2L1328.2 1431.2L1330.3 1431.1L1332.4 1431.1L1334.6 1431.1L1336.7 1431.1L1338.8 1431.0L1341.0 1431.0L1343.1 1431.0" fill="none" stroke="#30b256" stroke-width="5.6" stroke-linecap="butt" stroke-linejoin="round"/>
<path d="M1002.5 1804.6L1004.6 1804.6L1006.8 1804.6L1008.9 1804.6L1011.0 1804.6L1013.2 1804.6L1015.3 1804.6L1017.4 1804.6L1019.5 1804.6L1021.7 1804.6L1023.8 1804.6L1025.9 1804.6L1028.1 1804.6L1030.2 1804.6L1032.3 1804.6L1034.4 1804.6L1036.6 1804.6L1038.7 1804.6L1040.8 1804.6L1043.0 1804.6L1045.1 1804.6L1047.2 1804.6L1049.3 1804.6L1051.5 1804.6L1053.6 1804.6L1055.7 1804.6L1057.9 1804.6L1060.0 1804.6L1062.1 1804.6L1064.2 1804.6L1066.4 1804.6L1068.5 1804.6L1070.6 1804.6L1072.8 1804.6L1074.9 1804.6L1077.0 1804.6L1079.1 1804.6L1081.3 1804.6L1083.4 1804.6L1085.5 1804.6L1087.7 1804.6L1089.8 1804.6L1091.9 1804.6L1094.0 1804.6L1096.2 1804.6L1098.3 1804.6L1100.4 1804.6L1102.6 1804.5L1104.7 1804.5L1106.8 1804.5L1108.9 1804.5L1111.1 1804.5L1113.2 1804.4L1115.3 1804.4L1117.5 1804.4L1119.6 1804.3L1121.7 1804.2L1123.8 1804.2L1126.0 1804.1L1128.1 1804.0L1130.2 1803.9L1132.4 1803.8L1134.5 1803.6L1136.6 1803.5L1138.7 1803.3L1140.9 1803.1L1143.0 1802.9L1145.1 1802.6L1147.3 1802.3L1149.4 1802.0L1151.5 1801.6L1153.6 1801.2L1155.8 1800.7L1157.9 1800.2L1160.0 1799.6L1162.2 1798.9L1164.3 1798.2L1166.4 1797.4L1168.5 1796.5L1170.7 1795.5L1172.8 1794.5L1174.9 1793.3L1177.1 1792.0L1179.2 1790.6L1181.3 1789.0L1183.4 1787.4L1185.6 1785.6L1187.7 1783.6L1189.8 1781.5L1192.0 1779.2L1194.1 1776.8L1196.2 1774.1L1198.3 1771.3L1200.5 1768.3L1202.6 1765.2L1204.7 1761.8L1206.9 1758.2L1209.0 1754.4L1211.1 1750.4L1213.2 1746.2L1215.4 1741.8L1217.5 1737.2L1219.6 1732.4L1221.8 1727.3L1223.9 1722.1L1226.0 1716.7L1228.1 1711.0L1230.3 1705.2L1232.4 1699.3L1234.5 1693.1L1236.7 1686.8L1238.8 1680.3L1240.9 1673.8L1243.0 1667.0L1245.2 1660.2L1247.3 1653.3L1249.4 1646.3L1251.6 1639.2L1253.7 1632.1L1255.8 1625.0L1257.9 1617.8L1260.1 1610.8L1262.2 1603.8L1264.3 1596.9L1266.5 1590.0L1268.6 1583.2L1270.7 1576.4L1272.8 1569.7L1275.0 1563.2L1277.1 1556.7L1279.2 1550.4L1281.4 1544.2L1283.5 1538.2L1285.6 1532.3L1287.7 1526.6L1289.9 1521.0L1292.0 1515.6L1294.1 1510.5L1296.3 1505.5L1298.4 1500.7L1300.5 1496.1L1302.6 1491.7L1304.8 1487.5L1306.9 1483.5L1309.0 1479.7L1311.2 1476.0L1313.3 1472.6L1315.4 1469.4L1317.5 1466.3L1319.7 1463.5L1321.8 1460.8L1323.9 1458.3L1326.1 1455.9L1328.2 1453.7L1330.3 1451.7L1332.4 1449.8L1334.6 1448.1L1336.7 1446.4L1338.8 1445.0L1341.0 1443.6L1343.1 1442.3" fill="none" stroke="#8d58a5" stroke-width="5.6" stroke-linecap="butt" stroke-linejoin="round"/>
<circle cx="1002.5" cy="1804.6" r="13.55" fill="#fff" stroke="#231f20" stroke-width="1.5"/>
<circle cx="1059.3" cy="1804.6" r="13.55" fill="#fff" stroke="#231f20" stroke-width="1.5"/>
<circle cx="1116.0" cy="1757.9" r="13.55" fill="#fff" stroke="#231f20" stroke-width="1.5"/>
<circle cx="1172.8" cy="1734.6" r="13.55" fill="#fff" stroke="#231f20" stroke-width="1.5"/>
<circle cx="1229.6" cy="1454.3" r="13.55" fill="#fff" stroke="#231f20" stroke-width="1.5"/>
<circle cx="1286.3" cy="1431.0" r="13.55" fill="#fff" stroke="#231f20" stroke-width="1.5"/>
<circle cx="1343.1" cy="1431.0" r="13.55" fill="#fff" stroke="#231f20" stroke-width="1.5"/>
<rect x="991.8" y="1770.5" width="21.5" height="21.5" fill="#ed3045" stroke="#231f20" stroke-width="1.5"/>
<rect x="1048.5" y="1793.9" width="21.5" height="21.5" fill="#333132" stroke="#231f20" stroke-width="1.5"/>
<rect x="1105.3" y="1793.9" width="21.5" height="21.5" fill="#333132" stroke="#231f20" stroke-width="1.5"/>
<rect x="1162.1" y="1770.5" width="21.5" height="21.5" fill="#ed3045" stroke="#231f20" stroke-width="1.5"/>
<rect x="1218.8" y="1677.1" width="21.5" height="21.5" fill="#ed3045" stroke="#231f20" stroke-width="1.5"/>
<rect x="1275.6" y="1607.0" width="21.5" height="21.5" fill="#ed3045" stroke="#231f20" stroke-width="1.5"/>
<rect x="1332.3" y="1420.2" width="21.5" height="21.5" fill="#ed3045" stroke="#231f20" stroke-width="1.5"/>
<path d="M987.7 1813.4L1017.3 1813.4L1002.5 1787.1Z" fill="#333132" stroke="#231f20" stroke-width="1.5" stroke-linejoin="miter"/>
<path d="M1044.5 1790.1L1074.0 1790.1L1059.3 1763.7Z" fill="#30b256" stroke="#231f20" stroke-width="1.5" stroke-linejoin="miter"/>
<path d="M1101.3 1813.4L1130.8 1813.4L1116.0 1787.1Z" fill="#30b256" stroke="#231f20" stroke-width="1.5" stroke-linejoin="miter"/>
<path d="M1158.0 1743.3L1187.6 1743.3L1172.8 1717.0Z" fill="#30b256" stroke="#231f20" stroke-width="1.5" stroke-linejoin="miter"/>
<path d="M1214.8 1556.5L1244.3 1556.5L1229.6 1530.2Z" fill="#30b256" stroke="#231f20" stroke-width="1.5" stroke-linejoin="miter"/>
<path d="M1271.6 1439.7L1301.1 1439.7L1286.3 1413.4Z" fill="#30b256" stroke="#231f20" stroke-width="1.5" stroke-linejoin="miter"/>
<path d="M1328.3 1463.1L1357.9 1463.1L1343.1 1436.8Z" fill="#30b256" stroke="#231f20" stroke-width="1.5" stroke-linejoin="miter"/>
<path d="M989.5 1804.6L1002.5 1787.2L1015.5 1804.6L1002.5 1822.1Z" fill="#8d58a5" stroke="#231f20" stroke-width="1.5"/>
<path d="M1046.2 1804.6L1059.3 1787.2L1072.3 1804.6L1059.3 1822.1Z" fill="#8d58a5" stroke="#231f20" stroke-width="1.5"/>
<path d="M1103.0 1804.6L1116.0 1787.2L1129.1 1804.6L1116.0 1822.1Z" fill="#8d58a5" stroke="#231f20" stroke-width="1.5"/>
<path d="M1159.8 1757.9L1172.8 1740.5L1185.8 1757.9L1172.8 1775.4Z" fill="#8d58a5" stroke="#231f20" stroke-width="1.5"/>
<path d="M1216.5 1711.2L1229.6 1693.8L1242.6 1711.2L1229.6 1728.7Z" fill="#8d58a5" stroke="#231f20" stroke-width="1.5"/>
<path d="M1273.3 1524.4L1286.3 1506.9L1299.4 1524.4L1286.3 1541.8Z" fill="#8d58a5" stroke="#231f20" stroke-width="1.5"/>
<path d="M1330.1 1454.3L1343.1 1436.9L1356.1 1454.3L1343.1 1471.8Z" fill="#8d58a5" stroke="#231f20" stroke-width="1.5"/>
<rect x="920.2" y="1393.6" width="505.2" height="448.4" fill="none" stroke="#3a3839" stroke-width="1.6"/>
<path d="M1002.5 1393.6v5.5M1002.5 1842.0v-5.5M1116.0 1393.6v5.5M1116.0 1842.0v-5.5M1229.6 1393.6v5.5M1229.6 1842.0v-5.5M1343.1 1393.6v5.5M1343.1 1842.0v-5.5M920.2 1804.6h5.5M1425.4 1804.6h-5.5M920.2 1729.9h5.5M1425.4 1729.9h-5.5M920.2 1655.2h5.5M1425.4 1655.2h-5.5M920.2 1580.4h5.5M1425.4 1580.4h-5.5M920.2 1505.7h5.5M1425.4 1505.7h-5.5M920.2 1431.0h5.5M1425.4 1431.0h-5.5" stroke="#3a3839" stroke-width="1.5" fill="none"/>
<text x="904.0" y="1822.1" font-size="45" text-anchor="end" textLength="60.7" lengthAdjust="spacingAndGlyphs" >0.0</text>
<text x="904.0" y="1747.4" font-size="45" text-anchor="end" textLength="60.7" lengthAdjust="spacingAndGlyphs" >0.2</text>
<text x="904.0" y="1672.7" font-size="45" text-anchor="end" textLength="60.7" lengthAdjust="spacingAndGlyphs" >0.4</text>
<text x="904.0" y="1597.9" font-size="45" text-anchor="end" textLength="60.7" lengthAdjust="spacingAndGlyphs" >0.6</text>
<text x="904.0" y="1523.2" font-size="45" text-anchor="end" textLength="60.7" lengthAdjust="spacingAndGlyphs" >0.8</text>
<text x="904.0" y="1448.5" font-size="45" text-anchor="end" textLength="60.7" lengthAdjust="spacingAndGlyphs" >1.0</text>
<text x="1002.5" y="1890.0" font-size="45" text-anchor="middle" textLength="60.7" lengthAdjust="spacingAndGlyphs" >0.2</text>
<text x="1116.0" y="1890.0" font-size="45" text-anchor="middle" textLength="60.7" lengthAdjust="spacingAndGlyphs" >0.4</text>
<text x="1229.6" y="1890.0" font-size="45" text-anchor="middle" textLength="60.7" lengthAdjust="spacingAndGlyphs" >0.6</text>
<text x="1343.1" y="1890.0" font-size="45" text-anchor="middle" textLength="60.7" lengthAdjust="spacingAndGlyphs" >0.8</text>
<text x="960.0" y="1463.0" font-size="49.8" font-weight="bold" fill="#000" >F</text>
<text x="1298.0" y="1810.2" font-size="58" font-style="italic" textLength="101.0" lengthAdjust="spacingAndGlyphs" >JAG</text>
</g>
<g>
<path d="M1002.3 2370.8L1004.5 2370.8L1006.6 2370.8L1008.7 2370.8L1010.9 2370.8L1013.0 2370.8L1015.1 2370.8L1017.2 2370.8L1019.4 2370.8L1021.5 2370.8L1023.6 2370.8L1025.8 2370.8L1027.9 2370.8L1030.0 2370.8L1032.2 2370.8L1034.3 2370.8L1036.4 2370.8L1038.5 2370.8L1040.7 2370.8L1042.8 2370.8L1044.9 2370.8L1047.1 2370.8L1049.2 2370.8L1051.3 2370.8L1053.4 2370.8L1055.6 2370.8L1057.7 2370.8L1059.8 2370.8L1062.0 2370.8L1064.1 2370.8L1066.2 2370.8L1068.4 2370.8L1070.5 2370.8L1072.6 2370.8L1074.7 2370.8L1076.9 2370.8L1079.0 2370.8L1081.1 2370.8L1083.3 2370.8L1085.4 2370.8L1087.5 2370.8L1089.6 2370.8L1091.8 2370.8L1093.9 2370.8L1096.0 2370.8L1098.2 2370.8L1100.3 2370.8L1102.4 2370.8L1104.6 2370.8L1106.7 2370.8L1108.8 2370.8L1110.9 2370.8L1113.1 2370.7L1115.2 2370.7L1117.3 2370.6L1119.5 2370.6L1121.6 2370.5L1123.7 2370.3L1125.9 2370.1L1128.0 2369.9L1130.1 2369.6L1132.2 2369.1L1134.4 2368.6L1136.5 2367.9L1138.6 2367.1L1140.8 2366.1L1142.9 2364.8L1145.0 2363.2L1147.1 2361.3L1149.3 2359.0L1151.4 2356.3L1153.5 2353.1L1155.7 2349.3L1157.8 2345.0L1159.9 2340.0L1162.1 2334.3L1164.2 2327.9L1166.3 2320.7L1168.4 2312.7L1170.6 2304.0L1172.7 2294.4L1174.8 2284.1L1177.0 2273.0L1179.1 2261.3L1181.2 2249.0L1183.3 2236.1L1185.5 2222.8L1187.6 2209.1L1189.7 2195.3L1191.9 2181.3L1194.0 2167.4L1196.1 2153.6L1198.3 2140.1L1200.4 2126.9L1202.5 2114.2L1204.6 2102.1L1206.8 2090.7L1208.9 2079.9L1211.0 2069.9L1213.2 2060.6L1215.3 2052.2L1217.4 2044.5L1219.5 2037.7L1221.7 2031.5L1223.8 2026.1L1225.9 2021.4L1228.1 2017.3L1230.2 2013.8L1232.3 2010.8L1234.5 2008.2L1236.6 2006.1L1238.7 2004.3L1240.8 2002.9L1243.0 2001.7L1245.1 2000.7L1247.2 2000.0L1249.4 1999.4L1251.5 1998.9L1253.6 1998.5L1255.8 1998.2L1257.9 1998.0L1260.0 1997.8L1262.1 1997.7L1264.3 1997.6L1266.4 1997.5L1268.5 1997.5L1270.7 1997.4L1272.8 1997.4L1274.9 1997.4L1277.0 1997.4L1279.2 1997.4L1281.3 1997.4L1283.4 1997.4L1285.6 1997.4L1287.7 1997.4L1289.8 1997.4L1292.0 1997.4L1294.1 1997.4L1296.2 1997.4L1298.3 1997.4L1300.5 1997.4L1302.6 1997.4L1304.7 1997.4L1306.9 1997.4L1309.0 1997.4L1311.1 1997.4L1313.2 1997.4L1315.4 1997.4L1317.5 1997.4L1319.6 1997.4L1321.8 1997.4L1323.9 1997.4L1326.0 1997.4L1328.2 1997.4L1330.3 1997.4L1332.4 1997.4L1334.5 1997.4L1336.7 1997.4L1338.8 1997.4L1340.9 1997.4L1343.1 1997.4" fill="none" stroke="#231f20" stroke-width="5.6" stroke-linecap="butt" stroke-linejoin="round"/>
<path d="M1002.3 2370.8L1004.5 2370.8L1006.6 2370.8L1008.7 2370.8L1010.9 2370.8L1013.0 2370.8L1015.1 2370.8L1017.2 2370.8L1019.4 2370.8L1021.5 2370.8L1023.6 2370.8L1025.8 2370.8L1027.9 2370.8L1030.0 2370.8L1032.2 2370.8L1034.3 2370.8L1036.4 2370.8L1038.5 2370.8L1040.7 2370.8L1042.8 2370.8L1044.9 2370.8L1047.1 2370.8L1049.2 2370.8L1051.3 2370.8L1053.4 2370.8L1055.6 2370.8L1057.7 2370.8L1059.8 2370.8L1062.0 2370.8L1064.1 2370.8L1066.2 2370.8L1068.4 2370.8L1070.5 2370.8L1072.6 2370.8L1074.7 2370.8L1076.9 2370.8L1079.0 2370.8L1081.1 2370.8L1083.3 2370.8L1085.4 2370.8L1087.5 2370.8L1089.6 2370.8L1091.8 2370.8L1093.9 2370.8L1096.0 2370.8L1098.2 2370.8L1100.3 2370.8L1102.4 2370.8L1104.6 2370.8L1106.7 2370.8L1108.8 2370.8L1110.9 2370.8L1113.1 2370.8L1115.2 2370.8L1117.3 2370.8L1119.5 2370.8L1121.6 2370.8L1123.7 2370.8L1125.9 2370.8L1128.0 2370.8L1130.1 2370.8L1132.2 2370.7L1134.4 2370.7L1136.5 2370.7L1138.6 2370.6L1140.8 2370.6L1142.9 2370.5L1145.0 2370.5L1147.1 2370.4L1149.3 2370.3L1151.4 2370.2L1153.5 2370.0L1155.7 2369.9L1157.8 2369.7L1159.9 2369.5L1162.1 2369.2L1164.2 2368.9L1166.3 2368.6L1168.4 2368.2L1170.6 2367.7L1172.7 2367.2L1174.8 2366.6L1177.0 2365.9L1179.1 2365.1L1181.2 2364.3L1183.3 2363.3L1185.5 2362.2L1187.6 2361.0L1189.7 2359.6L1191.9 2358.1L1194.0 2356.4L1196.1 2354.5L1198.3 2352.4L1200.4 2350.2L1202.5 2347.7L1204.6 2345.0L1206.8 2342.0L1208.9 2338.8L1211.0 2335.4L1213.2 2331.6L1215.3 2327.7L1217.4 2323.4L1219.5 2318.8L1221.7 2314.0L1223.8 2308.8L1225.9 2303.4L1228.1 2297.7L1230.2 2291.6L1232.3 2285.4L1234.5 2278.8L1236.6 2272.0L1238.7 2264.9L1240.8 2257.6L1243.0 2250.1L1245.1 2242.4L1247.2 2234.5L1249.4 2226.4L1251.5 2218.2L1253.6 2209.9L1255.8 2201.6L1257.9 2193.1L1260.0 2184.7L1262.1 2176.7L1264.3 2168.7L1266.4 2160.8L1268.5 2152.9L1270.7 2145.2L1272.8 2137.5L1274.9 2130.0L1277.0 2122.6L1279.2 2115.4L1281.3 2108.4L1283.4 2101.6L1285.6 2095.0L1287.7 2088.6L1289.8 2082.4L1292.0 2076.5L1294.1 2070.8L1296.2 2065.4L1298.3 2060.2L1300.5 2055.3L1302.6 2050.7L1304.7 2046.3L1306.9 2042.2L1309.0 2038.3L1311.1 2034.7L1313.2 2031.3L1315.4 2028.1L1317.5 2025.2L1319.6 2022.5L1321.8 2020.0L1323.9 2017.7L1326.0 2015.6L1328.2 2013.6L1330.3 2011.9L1332.4 2010.3L1334.5 2008.8L1336.7 2007.5L1338.8 2006.3L1340.9 2005.2L1343.1 2004.3" fill="none" stroke="#ed3045" stroke-width="5.6" stroke-linecap="butt" stroke-linejoin="round"/>
<path d="M1002.3 2370.8L1004.5 2370.8L1006.6 2370.8L1008.7 2370.8L1010.9 2370.8L1013.0 2370.8L1015.1 2370.8L1017.2 2370.8L1019.4 2370.8L1021.5 2370.8L1023.6 2370.8L1025.8 2370.8L1027.9 2370.8L1030.0 2370.8L1032.2 2370.8L1034.3 2370.8L1036.4 2370.8L1038.5 2370.8L1040.7 2370.8L1042.8 2370.8L1044.9 2370.8L1047.1 2370.8L1049.2 2370.8L1051.3 2370.8L1053.4 2370.8L1055.6 2370.8L1057.7 2370.8L1059.8 2370.8L1062.0 2370.8L1064.1 2370.8L1066.2 2370.8L1068.4 2370.8L1070.5 2370.8L1072.6 2370.8L1074.7 2370.8L1076.9 2370.8L1079.0 2370.8L1081.1 2370.8L1083.3 2370.8L1085.4 2370.8L1087.5 2370.8L1089.6 2370.8L1091.8 2370.8L1093.9 2370.8L1096.0 2370.8L1098.2 2370.8L1100.3 2370.8L1102.4 2370.8L1104.6 2370.8L1106.7 2370.8L1108.8 2370.8L1110.9 2370.8L1113.1 2370.8L1115.2 2370.8L1117.3 2370.8L1119.5 2370.8L1121.6 2370.8L1123.7 2370.8L1125.9 2370.7L1128.0 2370.7L1130.1 2370.7L1132.2 2370.6L1134.4 2370.5L1136.5 2370.5L1138.6 2370.3L1140.8 2370.2L1142.9 2370.0L1145.0 2369.8L1147.1 2369.6L1149.3 2369.2L1151.4 2368.8L1153.5 2368.4L1155.7 2367.8L1157.8 2367.1L1159.9 2366.3L1162.1 2365.3L1164.2 2364.2L1166.3 2362.8L1168.4 2361.3L1170.6 2359.5L1172.7 2357.4L1174.8 2355.1L1177.0 2352.4L1179.1 2349.3L1181.2 2345.9L1183.3 2342.1L1185.5 2337.8L1187.6 2333.1L1189.7 2327.9L1191.9 2322.2L1194.0 2316.0L1196.1 2309.3L1198.3 2302.1L1200.4 2294.4L1202.5 2286.2L1204.6 2277.5L1206.8 2268.4L1208.9 2258.9L1211.0 2249.0L1213.2 2238.7L1215.3 2228.1L1217.4 2217.3L1219.5 2206.4L1221.7 2195.3L1223.8 2184.1L1225.9 2173.4L1228.1 2162.7L1230.2 2152.1L1232.3 2141.7L1234.5 2131.5L1236.6 2121.6L1238.7 2112.0L1240.8 2102.7L1243.0 2093.8L1245.1 2085.3L1247.2 2077.2L1249.4 2069.6L1251.5 2062.4L1253.6 2055.7L1255.8 2049.5L1257.9 2043.8L1260.0 2038.5L1262.1 2033.6L1264.3 2029.2L1266.4 2025.2L1268.5 2021.6L1270.7 2018.4L1272.8 2015.5L1274.9 2012.9L1277.0 2010.7L1279.2 2008.7L1281.3 2007.0L1283.4 2005.5L1285.6 2004.2L1287.7 2003.0L1289.8 2002.1L1292.0 2001.3L1294.1 2000.6L1296.2 2000.0L1298.3 1999.5L1300.5 1999.1L1302.6 1998.8L1304.7 1998.5L1306.9 1998.3L1309.0 1998.1L1311.1 1997.9L1313.2 1997.8L1315.4 1997.7L1317.5 1997.6L1319.6 1997.6L1321.8 1997.5L1323.9 1997.5L1326.0 1997.5L1328.2 1997.4L1330.3 1997.4L1332.4 1997.4L1334.5 1997.4L1336.7 1997.4L1338.8 1997.4L1340.9 1997.4L1343.1 1997.4" fill="none" stroke="#30b256" stroke-width="5.6" stroke-linecap="butt" stroke-linejoin="round"/>
<path d="M1002.3 2370.8L1004.5 2370.8L1006.6 2370.8L1008.7 2370.8L1010.9 2370.8L1013.0 2370.8L1015.1 2370.8L1017.2 2370.8L1019.4 2370.8L1021.5 2370.8L1023.6 2370.8L1025.8 2370.8L1027.9 2370.8L1030.0 2370.8L1032.2 2370.8L1034.3 2370.8L1036.4 2370.8L1038.5 2370.8L1040.7 2370.8L1042.8 2370.8L1044.9 2370.8L1047.1 2370.8L1049.2 2370.8L1051.3 2370.8L1053.4 2370.8L1055.6 2370.8L1057.7 2370.8L1059.8 2370.8L1062.0 2370.8L1064.1 2370.8L1066.2 2370.8L1068.4 2370.8L1070.5 2370.8L1072.6 2370.8L1074.7 2370.8L1076.9 2370.8L1079.0 2370.8L1081.1 2370.8L1083.3 2370.8L1085.4 2370.8L1087.5 2370.8L1089.6 2370.8L1091.8 2370.8L1093.9 2370.8L1096.0 2370.8L1098.2 2370.8L1100.3 2370.8L1102.4 2370.8L1104.6 2370.8L1106.7 2370.8L1108.8 2370.8L1110.9 2370.8L1113.1 2370.8L1115.2 2370.8L1117.3 2370.8L1119.5 2370.8L1121.6 2370.8L1123.7 2370.8L1125.9 2370.8L1128.0 2370.8L1130.1 2370.8L1132.2 2370.8L1134.4 2370.8L1136.5 2370.8L1138.6 2370.8L1140.8 2370.8L1142.9 2370.8L1145.0 2370.8L1147.1 2370.8L1149.3 2370.8L1151.4 2370.7L1153.5 2370.7L1155.7 2370.7L1157.8 2370.7L1159.9 2370.6L1162.1 2370.6L1164.2 2370.5L1166.3 2370.5L1168.4 2370.4L1170.6 2370.3L1172.7 2370.2L1174.8 2370.1L1177.0 2369.9L1179.1 2369.7L1181.2 2369.6L1183.3 2369.3L1185.5 2369.1L1187.6 2368.8L1189.7 2368.4L1191.9 2368.0L1194.0 2367.6L1196.1 2367.1L1198.3 2366.5L1200.4 2365.9L1202.5 2365.2L1204.6 2364.4L1206.8 2363.4L1208.9 2362.4L1211.0 2361.3L1213.2 2360.0L1215.3 2358.6L1217.4 2357.1L1219.5 2355.4L1221.7 2353.6L1223.8 2351.5L1225.9 2349.3L1228.1 2346.9L1230.2 2344.3L1232.3 2341.5L1234.5 2338.4L1236.6 2335.2L1238.7 2331.6L1240.8 2327.9L1243.0 2323.9L1245.1 2319.6L1247.2 2315.1L1249.4 2310.3L1251.5 2305.3L1253.6 2300.0L1255.8 2294.4L1257.9 2288.6L1260.0 2282.5L1262.1 2276.3L1264.3 2269.7L1266.4 2263.0L1268.5 2256.1L1270.7 2249.0L1272.8 2241.7L1274.9 2234.2L1277.0 2226.6L1279.2 2218.9L1281.3 2211.1L1283.4 2203.2L1285.6 2195.3L1287.7 2187.3L1289.8 2179.4L1292.0 2171.7L1294.1 2164.0L1296.2 2156.3L1298.3 2148.7L1300.5 2141.2L1302.6 2133.9L1304.7 2126.6L1306.9 2119.5L1309.0 2112.6L1311.1 2105.8L1313.2 2099.3L1315.4 2092.9L1317.5 2086.8L1319.6 2080.8L1321.8 2075.1L1323.9 2069.7L1326.0 2064.5L1328.2 2059.5L1330.3 2054.7L1332.4 2050.3L1334.5 2046.0L1336.7 2042.0L1338.8 2038.2L1340.9 2034.7L1343.1 2031.4" fill="none" stroke="#8d58a5" stroke-width="5.6" stroke-linecap="butt" stroke-linejoin="round"/>
<circle cx="1002.3" cy="2370.8" r="13.55" fill="#fff" stroke="#231f20" stroke-width="1.5"/>
<circle cx="1059.1" cy="2370.8" r="13.55" fill="#fff" stroke="#231f20" stroke-width="1.5"/>
<circle cx="1115.9" cy="2308.6" r="13.55" fill="#fff" stroke="#231f20" stroke-width="1.5"/>
<circle cx="1172.7" cy="2308.6" r="13.55" fill="#fff" stroke="#231f20" stroke-width="1.5"/>
<circle cx="1229.5" cy="2028.5" r="13.55" fill="#fff" stroke="#231f20" stroke-width="1.5"/>
<circle cx="1286.3" cy="1997.3" r="13.55" fill="#fff" stroke="#231f20" stroke-width="1.5"/>
<circle cx="1343.1" cy="1997.3" r="13.55" fill="#fff" stroke="#231f20" stroke-width="1.5"/>
<rect x="991.6" y="2360.1" width="21.5" height="21.5" fill="#ed3045" stroke="#231f20" stroke-width="1.5"/>
<rect x="1048.4" y="2360.1" width="21.5" height="21.5" fill="#ed3045" stroke="#231f20" stroke-width="1.5"/>
<rect x="1105.2" y="2360.1" width="21.5" height="21.5" fill="#ed3045" stroke="#231f20" stroke-width="1.5"/>
<rect x="1162.0" y="2360.1" width="21.5" height="21.5" fill="#ed3045" stroke="#231f20" stroke-width="1.5"/>
<rect x="1218.7" y="2266.7" width="21.5" height="21.5" fill="#ed3045" stroke="#231f20" stroke-width="1.5"/>
<rect x="1275.5" y="2080.0" width="21.5" height="21.5" fill="#ed3045" stroke="#231f20" stroke-width="1.5"/>
<rect x="1332.3" y="1986.6" width="21.5" height="21.5" fill="#ed3045" stroke="#231f20" stroke-width="1.5"/>
<path d="M987.6 2379.6L1017.1 2379.6L1002.3 2353.3Z" fill="#333132" stroke="#231f20" stroke-width="1.5" stroke-linejoin="miter"/>
<path d="M1044.4 2364.7L1073.9 2364.7L1059.1 2338.4Z" fill="#30b256" stroke="#231f20" stroke-width="1.5" stroke-linejoin="miter"/>
<path d="M1101.1 2379.6L1130.7 2379.6L1115.9 2353.3Z" fill="#30b256" stroke="#231f20" stroke-width="1.5" stroke-linejoin="miter"/>
<path d="M1157.9 2348.6L1187.5 2348.6L1172.7 2322.3Z" fill="#30b256" stroke="#231f20" stroke-width="1.5" stroke-linejoin="miter"/>
<path d="M1214.7 2161.9L1244.3 2161.9L1229.5 2135.6Z" fill="#30b256" stroke="#231f20" stroke-width="1.5" stroke-linejoin="miter"/>
<path d="M1271.5 2006.1L1301.0 2006.1L1286.3 1979.8Z" fill="#30b256" stroke="#231f20" stroke-width="1.5" stroke-linejoin="miter"/>
<path d="M1328.3 2006.1L1357.8 2006.1L1343.1 1979.8Z" fill="#30b256" stroke="#231f20" stroke-width="1.5" stroke-linejoin="miter"/>
<path d="M989.3 2370.8L1002.3 2353.4L1015.4 2370.8L1002.3 2388.3Z" fill="#30b256" stroke="#231f20" stroke-width="1.5"/>
<path d="M1046.1 2370.8L1059.1 2353.4L1072.2 2370.8L1059.1 2388.3Z" fill="#8d58a5" stroke="#231f20" stroke-width="1.5"/>
<path d="M1102.9 2370.8L1115.9 2353.4L1128.9 2370.8L1115.9 2388.3Z" fill="#8d58a5" stroke="#231f20" stroke-width="1.5"/>
<path d="M1159.7 2324.2L1172.7 2306.7L1185.7 2324.2L1172.7 2341.6Z" fill="#8d58a5" stroke="#231f20" stroke-width="1.5"/>
<path d="M1216.5 2347.5L1229.5 2330.1L1242.5 2347.5L1229.5 2365.0Z" fill="#8d58a5" stroke="#231f20" stroke-width="1.5"/>
<path d="M1273.2 2184.1L1286.3 2166.7L1299.3 2184.1L1286.3 2201.5Z" fill="#8d58a5" stroke="#231f20" stroke-width="1.5"/>
<path d="M1330.0 2044.0L1343.1 2026.6L1356.1 2044.0L1343.1 2061.5Z" fill="#8d58a5" stroke="#231f20" stroke-width="1.5"/>
<rect x="920.0" y="1960.0" width="505.4" height="448.2" fill="none" stroke="#3a3839" stroke-width="1.6"/>
<path d="M1002.3 1960.0v5.5M1002.3 2408.2v-5.5M1115.9 1960.0v5.5M1115.9 2408.2v-5.5M1229.5 1960.0v5.5M1229.5 2408.2v-5.5M1343.1 1960.0v5.5M1343.1 2408.2v-5.5M920.0 2370.8h5.5M1425.4 2370.8h-5.5M920.0 2296.1h5.5M1425.4 2296.1h-5.5M920.0 2221.4h5.5M1425.4 2221.4h-5.5M920.0 2146.8h5.5M1425.4 2146.8h-5.5M920.0 2072.1h5.5M1425.4 2072.1h-5.5M920.0 1997.3h5.5M1425.4 1997.3h-5.5" stroke="#3a3839" stroke-width="1.5" fill="none"/>
<text x="904.0" y="2388.3" font-size="45" text-anchor="end" textLength="60.7" lengthAdjust="spacingAndGlyphs" >0.0</text>
<text x="904.0" y="2313.6" font-size="45" text-anchor="end" textLength="60.7" lengthAdjust="spacingAndGlyphs" >0.2</text>
<text x="904.0" y="2238.9" font-size="45" text-anchor="end" textLength="60.7" lengthAdjust="spacingAndGlyphs" >0.4</text>
<text x="904.0" y="2164.2" font-size="45" text-anchor="end" textLength="60.7" lengthAdjust="spacingAndGlyphs" >0.6</text>
<text x="904.0" y="2089.6" font-size="45" text-anchor="end" textLength="60.7" lengthAdjust="spacingAndGlyphs" >0.8</text>
<text x="904.0" y="2014.8" font-size="45" text-anchor="end" textLength="60.7" lengthAdjust="spacingAndGlyphs" >1.0</text>
<text x="1007.8" y="2462.0" font-size="45" text-anchor="middle" textLength="60.7" lengthAdjust="spacingAndGlyphs" >0.2</text>
<text x="1121.4" y="2462.0" font-size="45" text-anchor="middle" textLength="60.7" lengthAdjust="spacingAndGlyphs" >0.4</text>
<text x="1235.0" y="2462.0" font-size="45" text-anchor="middle" textLength="60.7" lengthAdjust="spacingAndGlyphs" >0.6</text>
<text x="1348.6" y="2462.0" font-size="45" text-anchor="middle" textLength="60.7" lengthAdjust="spacingAndGlyphs" >0.8</text>
<text x="962.5" y="2034.3" font-size="49.8" font-weight="bold" fill="#000" >I</text>
<text x="1316.0" y="2370.5" font-size="58" font-style="italic" textLength="73.0" lengthAdjust="spacingAndGlyphs" >DK</text>
</g>
<text x="218.0" y="1326.2" font-size="51.6" font-style="italic" textLength="454.0" lengthAdjust="spacingAndGlyphs" >Proportion of face #2</text>
<text x="921.5" y="1326.2" font-size="51.6" font-style="italic" textLength="455.0" lengthAdjust="spacingAndGlyphs" >Proportion of face #2</text>
<text font-size="51.6" font-style="italic" textLength="561.0" lengthAdjust="spacingAndGlyphs" transform="translate(80.8 1256.0) rotate(-90)" >Proportion categorised #2</text>
<rect x="548.3" y="844.3" width="184.8" height="247.6" fill="#fff" stroke="#3a3839" stroke-width="1.2"/>
<text x="575.0" y="883.3" font-size="33.4" font-weight="bold" textLength="131.5" lengthAdjust="spacingAndGlyphs" >Adapter</text>
<text x="566.5" y="932.7" font-size="34.6" textLength="57.5" lengthAdjust="spacingAndGlyphs" stroke="#2e2c2d" stroke-width="0.5">None</text>
<path d="M651.3 919H710.2" stroke="#231f20" stroke-width="5.6"/>
<circle cx="680.6" cy="919.0" r="13.55" fill="#fff" stroke="#231f20" stroke-width="1.5"/>
<text x="566.5" y="977.0" font-size="34.6" textLength="56.0" lengthAdjust="spacingAndGlyphs" stroke="#2e2c2d" stroke-width="0.5">Horiz</text>
<path d="M651.3 966.5H710.2" stroke="#ed3045" stroke-width="5.6"/>
<rect x="669.9" y="955.8" width="21.5" height="21.5" fill="#ed3045" stroke="#231f20" stroke-width="1.5"/>
<text x="566.5" y="1025.1" font-size="34.6" textLength="52.0" lengthAdjust="spacingAndGlyphs" stroke="#2e2c2d" stroke-width="0.5">Vert.</text>
<path d="M651.3 1014.5H710.2" stroke="#30b256" stroke-width="5.6"/>
<path d="M665.8 1025.3L695.4 1025.3L680.6 999.0Z" fill="#30b256" stroke="#231f20" stroke-width="1.5" stroke-linejoin="miter"/>
<text x="566.5" y="1073.1" font-size="34.6" textLength="63.0" lengthAdjust="spacingAndGlyphs" stroke="#2e2c2d" stroke-width="0.5">Broad</text>
<path d="M651.3 1061.5H710.2" stroke="#8d58a5" stroke-width="5.6"/>
<path d="M667.6 1061.5L680.6 1044.0L693.6 1061.5L680.6 1079.0Z" fill="#8d58a5" stroke="#231f20" stroke-width="1.5"/>
<g>
<rect x="1716.1" y="976.7" width="37.6" height="7.1" fill="#fff" stroke="#231f20" stroke-width="1.2"/>
<rect x="1833.5" y="983.8" width="37.7" height="57.7" fill="#ed3045" stroke="#231f20" stroke-width="1.2"/>
<rect x="1884.9" y="983.8" width="37.6" height="4.6" fill="#30b256" stroke="#231f20" stroke-width="1.2"/>
<rect x="1936.3" y="983.8" width="37.6" height="94.8" fill="#8d58a5" stroke="#231f20" stroke-width="1.2"/>
<rect x="2013.9" y="845.2" width="38.0" height="138.6" fill="#ed3045" stroke="#231f20" stroke-width="1.2"/>
<rect x="2063.5" y="959.5" width="37.4" height="24.3" fill="#30b256" stroke="#231f20" stroke-width="1.2"/>
<rect x="2111.4" y="855.4" width="37.8" height="128.4" fill="#8d58a5" stroke="#231f20" stroke-width="1.2"/>
<path d="M1734.9 954.7V1003.9M1852.3 1041.5V1061.2M1903.7 961.4V1016.8M1955.1 1078.6V1090.4M2032.9 823.3V845.2M2082.2 930.6V995.4M2130.3 837.7V855.4" stroke="#3a3839" stroke-width="1.3" fill="none"/>
<path d="M1691.7 983.8H2160.3" stroke="#3a3839" stroke-width="1.3"/>
<rect x="1669.7" y="757.7" width="512.1" height="403.4" fill="none" stroke="#3a3839" stroke-width="1.3"/>
<path d="M1669.7 1071.5h5.5M2181.8 1071.5h-5.5M1669.7 981.8h5.5M2181.8 981.8h-5.5M1669.7 892.2h5.5M2181.8 892.2h-5.5M1669.7 802.5h5.5M2181.8 802.5h-5.5M1734.5 1161.1v-6.5M1850.0 1161.1v-6.5M1902.8 1161.1v-6.5M1953.3 1161.1v-6.5M2032.4 1161.1v-6.5M2085.2 1161.1v-6.5M2135.5 1161.1v-6.5" stroke="#3a3839" stroke-width="1.3" fill="none"/>
<text x="1659.1" y="1169.8" font-size="25.6" text-anchor="end" textLength="36.9" lengthAdjust="spacingAndGlyphs" >0.3</text>
<text x="1659.1" y="1080.2" font-size="25.6" text-anchor="end" textLength="36.9" lengthAdjust="spacingAndGlyphs" >0.4</text>
<text x="1659.1" y="990.5" font-size="25.6" text-anchor="end" textLength="36.9" lengthAdjust="spacingAndGlyphs" >0.5</text>
<text x="1659.1" y="900.9" font-size="25.6" text-anchor="end" textLength="36.9" lengthAdjust="spacingAndGlyphs" >0.6</text>
<text x="1659.1" y="811.2" font-size="25.6" text-anchor="end" textLength="36.9" lengthAdjust="spacingAndGlyphs" >0.7</text>
<text x="1705.0" y="814.0" font-size="49.8" font-weight="bold" fill="#000" >D</text>
<text x="2054.0" y="1129.7" font-size="58.5" font-style="italic" textLength="107.5" lengthAdjust="spacingAndGlyphs" >SCD</text>
<text font-size="35" textLength="406.5" lengthAdjust="spacingAndGlyphs" transform="translate(1598.5 1171.6) rotate(-90)" >PSE (proportion of face #2)</text>
</g>
<g>
<rect x="1719.2" y="1589.6" width="38.0" height="29.7" fill="#fff" stroke="#231f20" stroke-width="1.2"/>
<rect x="1830.3" y="1622.0" width="37.6" height="132.6" fill="#ed3045" stroke="#231f20" stroke-width="1.2"/>
<rect x="1885.0" y="1572.5" width="37.3" height="49.5" fill="#30b256" stroke="#231f20" stroke-width="1.2"/>
<rect x="1936.2" y="1622.0" width="37.2" height="81.4" fill="#8d58a5" stroke="#231f20" stroke-width="1.2"/>
<rect x="2014.0" y="1467.1" width="37.2" height="154.9" fill="#ed3045" stroke="#231f20" stroke-width="1.2"/>
<rect x="2063.3" y="1561.7" width="37.6" height="60.2" fill="#30b256" stroke="#231f20" stroke-width="1.2"/>
<rect x="2111.5" y="1488.3" width="37.2" height="133.7" fill="#8d58a5" stroke="#231f20" stroke-width="1.2"/>
<path d="M1738.2 1562.6V1589.6M1849.1 1571.6V1622.0M1903.7 1543.8V1572.5M1954.8 1584.7V1622.0M2032.6 1432.3V1467.1M2082.1 1540.2V1561.7M2130.1 1455.6V1488.3" stroke="#3a3839" stroke-width="1.3" fill="none"/>
<path d="M1690.8 1622.0H2159.4" stroke="#3a3839" stroke-width="1.3"/>
<rect x="1668.8" y="1397.2" width="512.1" height="404.6" fill="none" stroke="#3a3839" stroke-width="1.3"/>
<path d="M1668.8 1711.9h5.5M2180.9 1711.9h-5.5M1668.8 1622.0h5.5M2180.9 1622.0h-5.5M1668.8 1532.1h5.5M2180.9 1532.1h-5.5M1668.8 1442.2h5.5M2180.9 1442.2h-5.5M1734.5 1801.8v-6.5M1850.0 1801.8v-6.5M1902.8 1801.8v-6.5M1953.3 1801.8v-6.5M2032.4 1801.8v-6.5M2085.2 1801.8v-6.5M2135.5 1801.8v-6.5" stroke="#3a3839" stroke-width="1.3" fill="none"/>
<text x="1658.2" y="1810.5" font-size="25.6" text-anchor="end" textLength="36.9" lengthAdjust="spacingAndGlyphs" >0.3</text>
<text x="1658.2" y="1720.6" font-size="25.6" text-anchor="end" textLength="36.9" lengthAdjust="spacingAndGlyphs" >0.4</text>
<text x="1658.2" y="1630.7" font-size="25.6" text-anchor="end" textLength="36.9" lengthAdjust="spacingAndGlyphs" >0.5</text>
<text x="1658.2" y="1540.8" font-size="25.6" text-anchor="end" textLength="36.9" lengthAdjust="spacingAndGlyphs" >0.6</text>
<text x="1658.2" y="1450.9" font-size="25.6" text-anchor="end" textLength="36.9" lengthAdjust="spacingAndGlyphs" >0.7</text>
<text x="1704.0" y="1464.3" font-size="49.8" font-weight="bold" fill="#000" >G</text>
<text x="2055.0" y="1764.4" font-size="58.5" font-style="italic" textLength="100.0" lengthAdjust="spacingAndGlyphs" >JAG</text>
<text font-size="35" textLength="406.5" lengthAdjust="spacingAndGlyphs" transform="translate(1598.5 1812.3) rotate(-90)" >PSE (proportion of face #2)</text>
</g>
<g>
<rect x="1713.4" y="2157.4" width="36.5" height="31.7" fill="#fff" stroke="#231f20" stroke-width="1.2"/>
<rect x="1829.5" y="2189.1" width="36.6" height="81.2" fill="#ed3045" stroke="#231f20" stroke-width="1.2"/>
<rect x="1886.2" y="2142.8" width="36.5" height="46.3" fill="#30b256" stroke="#231f20" stroke-width="1.2"/>
<rect x="1937.3" y="2189.1" width="36.5" height="124.2" fill="#8d58a5" stroke="#231f20" stroke-width="1.2"/>
<rect x="2014.0" y="2051.0" width="36.5" height="138.1" fill="#ed3045" stroke="#231f20" stroke-width="1.2"/>
<rect x="2064.0" y="2110.2" width="36.5" height="78.9" fill="#30b256" stroke="#231f20" stroke-width="1.2"/>
<rect x="2112.2" y="2005.9" width="36.2" height="183.2" fill="#8d58a5" stroke="#231f20" stroke-width="1.2"/>
<path d="M1731.7 2140.2V2157.4M1847.8 2146.4V2189.1M1904.5 2108.9V2142.8M1955.5 2169.0V2189.1M2032.2 2019.6V2051.0M2082.2 2085.3V2110.2M2130.3 1989.1V2036.7" stroke="#3a3839" stroke-width="1.3" fill="none"/>
<path d="M1691.6 2189.1H2159.4" stroke="#3a3839" stroke-width="1.3"/>
<rect x="1669.6" y="1964.9" width="511.3" height="403.6" fill="none" stroke="#3a3839" stroke-width="1.3"/>
<path d="M1669.6 2278.8h5.5M2180.9 2278.8h-5.5M1669.6 2189.1h5.5M2180.9 2189.1h-5.5M1669.6 2099.4h5.5M2180.9 2099.4h-5.5M1669.6 2009.7h5.5M2180.9 2009.7h-5.5M1734.5 2368.5v-6.5M1850.0 2368.5v-6.5M1902.8 2368.5v-6.5M1953.3 2368.5v-6.5M2032.4 2368.5v-6.5M2085.2 2368.5v-6.5M2135.5 2368.5v-6.5" stroke="#3a3839" stroke-width="1.3" fill="none"/>
<text x="1659.0" y="2377.2" font-size="25.6" text-anchor="end" textLength="36.9" lengthAdjust="spacingAndGlyphs" >0.3</text>
<text x="1659.0" y="2287.5" font-size="25.6" text-anchor="end" textLength="36.9" lengthAdjust="spacingAndGlyphs" >0.4</text>
<text x="1659.0" y="2197.8" font-size="25.6" text-anchor="end" textLength="36.9" lengthAdjust="spacingAndGlyphs" >0.5</text>
<text x="1659.0" y="2108.1" font-size="25.6" text-anchor="end" textLength="36.9" lengthAdjust="spacingAndGlyphs" >0.6</text>
<text x="1659.0" y="2018.4" font-size="25.6" text-anchor="end" textLength="36.9" lengthAdjust="spacingAndGlyphs" >0.7</text>
<text x="1703.0" y="2035.0" font-size="49.8" font-weight="bold" fill="#000" >J</text>
<text x="2053.0" y="2324.7" font-size="58.5" font-style="italic" textLength="74.0" lengthAdjust="spacingAndGlyphs" >DK</text>
<text font-size="35" textLength="406.5" lengthAdjust="spacingAndGlyphs" transform="translate(1598.5 2379.0) rotate(-90)" >PSE (proportion of face #2)</text>
</g>
<text x="1689.5" y="1207.0" font-size="34.6" textLength="50.0" lengthAdjust="spacingAndGlyphs" >No</text>
<text x="1689.0" y="1254.0" font-size="34.6" textLength="98.0" lengthAdjust="spacingAndGlyphs" >adapt</text>
<text x="1838.5" y="1207.0" font-size="36.5" font-weight="bold" textLength="24.0" lengthAdjust="spacingAndGlyphs" fill="#ed3045" >H</text>
<text x="1838.5" y="1847.5" font-size="36.5" font-weight="bold" textLength="24.0" lengthAdjust="spacingAndGlyphs" fill="#ed3045" >H</text>
<text x="1838.5" y="2414.9" font-size="36.5" font-weight="bold" textLength="24.0" lengthAdjust="spacingAndGlyphs" fill="#ed3045" >H</text>
<text x="1890.0" y="1207.0" font-size="36.5" font-weight="bold" textLength="25.0" lengthAdjust="spacingAndGlyphs" fill="#30b256" >V</text>
<text x="1890.0" y="1847.5" font-size="36.5" font-weight="bold" textLength="25.0" lengthAdjust="spacingAndGlyphs" fill="#30b256" >V</text>
<text x="1890.0" y="2414.9" font-size="36.5" font-weight="bold" textLength="25.0" lengthAdjust="spacingAndGlyphs" fill="#30b256" >V</text>
<text x="1943.5" y="1207.0" font-size="36.5" font-weight="bold" textLength="21.5" lengthAdjust="spacingAndGlyphs" fill="#8d58a5" >B</text>
<text x="1943.5" y="1847.5" font-size="36.5" font-weight="bold" textLength="21.5" lengthAdjust="spacingAndGlyphs" fill="#8d58a5" >B</text>
<text x="1943.5" y="2414.9" font-size="36.5" font-weight="bold" textLength="21.5" lengthAdjust="spacingAndGlyphs" fill="#8d58a5" >B</text>
<text x="2020.5" y="1207.0" font-size="36.5" font-weight="bold" textLength="24.0" lengthAdjust="spacingAndGlyphs" fill="#ed3045" >H</text>
<text x="2020.5" y="1847.5" font-size="36.5" font-weight="bold" textLength="24.0" lengthAdjust="spacingAndGlyphs" fill="#ed3045" >H</text>
<text x="2020.5" y="2414.9" font-size="36.5" font-weight="bold" textLength="24.0" lengthAdjust="spacingAndGlyphs" fill="#ed3045" >H</text>
<text x="2072.0" y="1207.0" font-size="36.5" font-weight="bold" textLength="25.0" lengthAdjust="spacingAndGlyphs" fill="#30b256" >V</text>
<text x="2072.0" y="1847.5" font-size="36.5" font-weight="bold" textLength="25.0" lengthAdjust="spacingAndGlyphs" fill="#30b256" >V</text>
<text x="2072.0" y="2414.9" font-size="36.5" font-weight="bold" textLength="25.0" lengthAdjust="spacingAndGlyphs" fill="#30b256" >V</text>
<text x="2126.0" y="1207.0" font-size="36.5" font-weight="bold" textLength="21.5" lengthAdjust="spacingAndGlyphs" fill="#8d58a5" >B</text>
<text x="2126.0" y="1847.5" font-size="36.5" font-weight="bold" textLength="21.5" lengthAdjust="spacingAndGlyphs" fill="#8d58a5" >B</text>
<text x="2126.0" y="2414.9" font-size="36.5" font-weight="bold" textLength="21.5" lengthAdjust="spacingAndGlyphs" fill="#8d58a5" >B</text>
<text x="1838.5" y="1262.3" font-size="34.6" textLength="143.0" lengthAdjust="spacingAndGlyphs" >Adapt to</text>
<text x="1838.5" y="1309.5" font-size="34.6" textLength="113.0" lengthAdjust="spacingAndGlyphs" >face #1</text>
<text x="2020.5" y="1262.3" font-size="34.6" textLength="143.0" lengthAdjust="spacingAndGlyphs" >Adapt to</text>
<text x="2020.5" y="1309.5" font-size="34.6" textLength="116.0" lengthAdjust="spacingAndGlyphs" >face #2</text>
<text x="1679.0" y="1847.5" font-size="28.6" textLength="120.0" lengthAdjust="spacingAndGlyphs" >No adapt</text>
<text x="1829.0" y="1890.6" font-size="28.6" textLength="145.0" lengthAdjust="spacingAndGlyphs" >Adapt to #1</text>
<text x="2011.5" y="1890.6" font-size="28.6" textLength="147.0" lengthAdjust="spacingAndGlyphs" >Adapt to #2</text>
<text x="1679.0" y="2414.9" font-size="28.6" textLength="120.0" lengthAdjust="spacingAndGlyphs" >No adapt</text>
<text x="1829.0" y="2458.0" font-size="28.6" textLength="145.0" lengthAdjust="spacingAndGlyphs" >Adapt to #1</text>
<text x="2011.5" y="2458.0" font-size="28.6" textLength="147.0" lengthAdjust="spacingAndGlyphs" >Adapt to #2</text>
</svg></body></html>
